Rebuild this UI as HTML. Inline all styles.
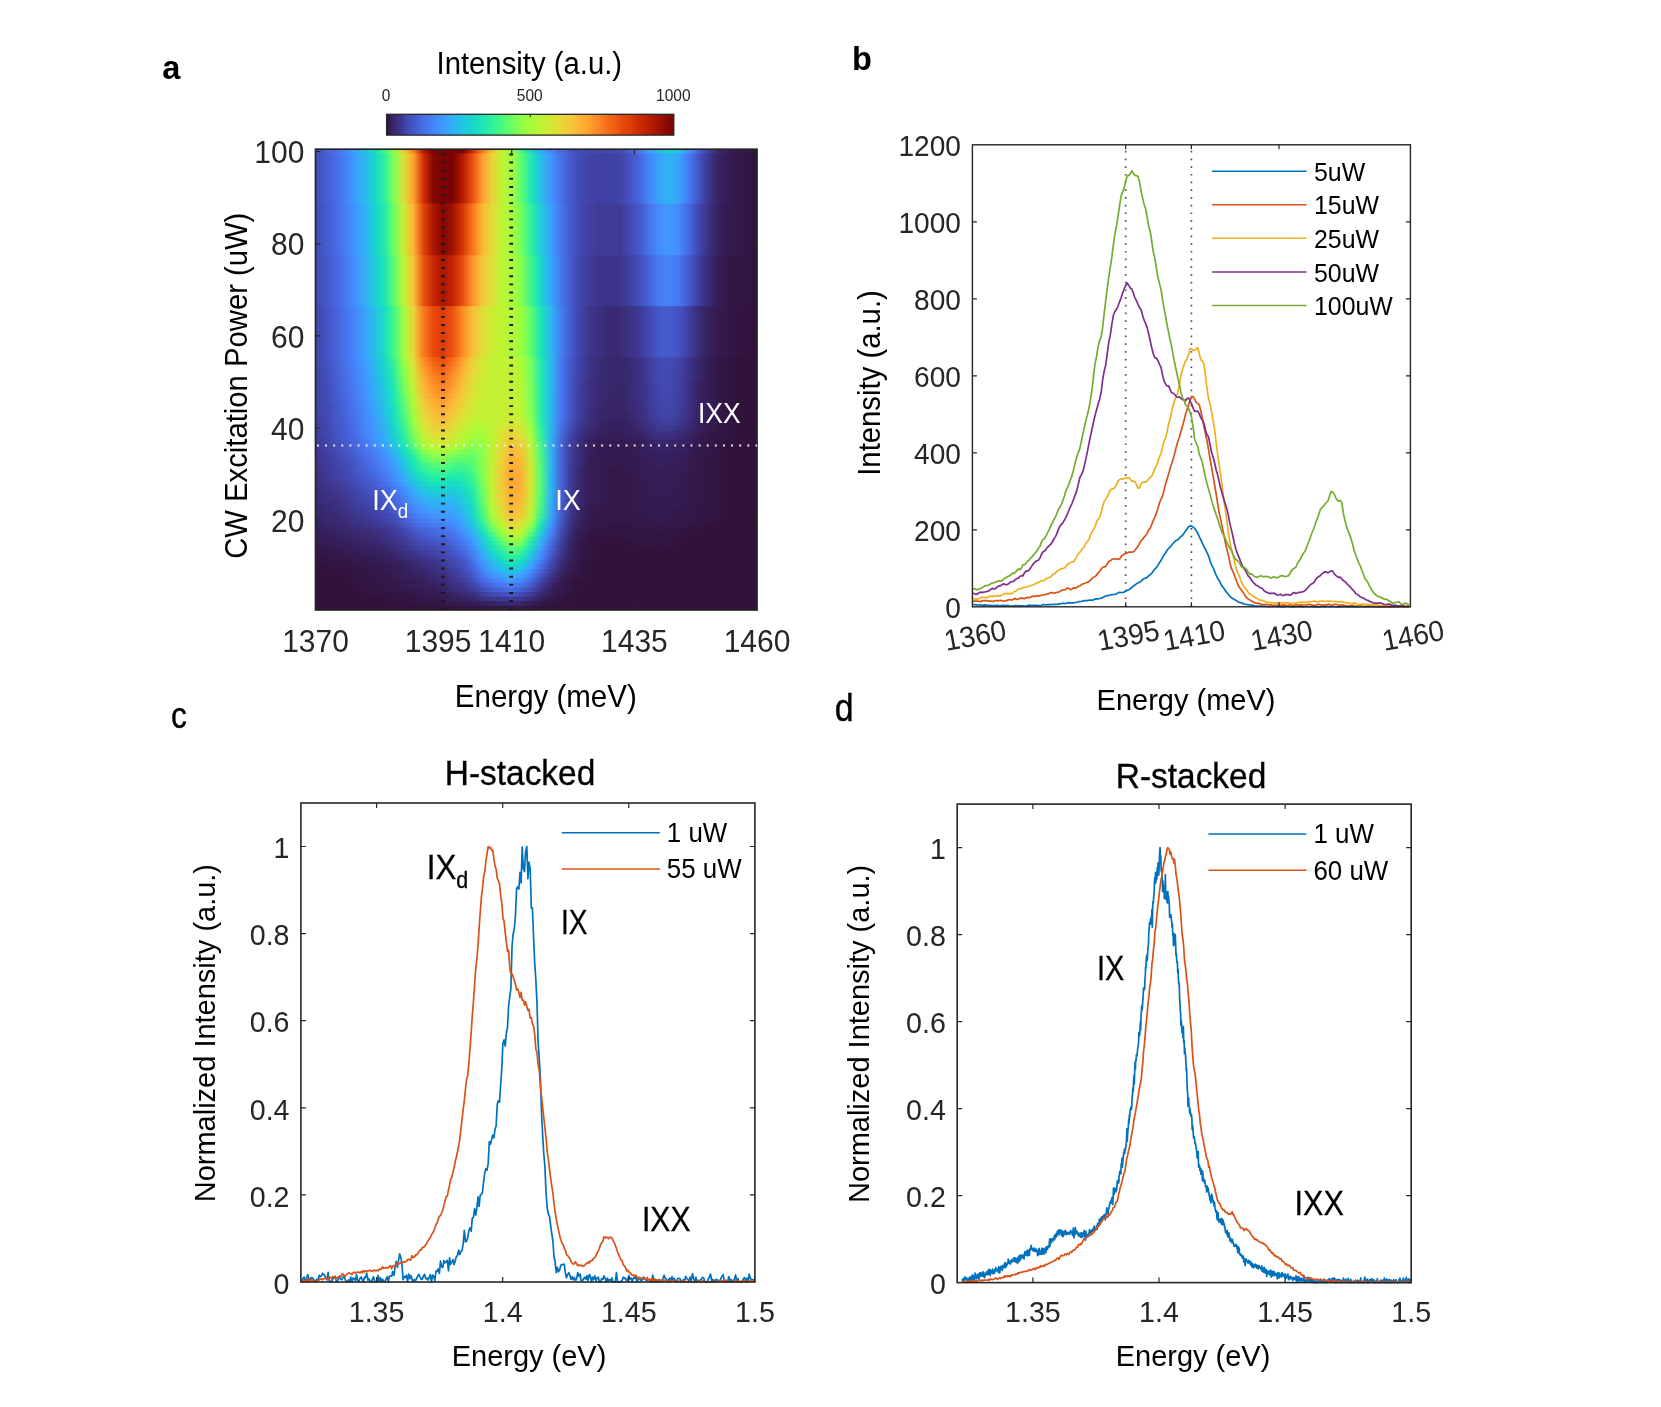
<!DOCTYPE html>
<html><head><meta charset="utf-8"><title>Figure</title>
<style>html,body{margin:0;padding:0;background:#fff;}body{width:1661px;height:1407px;overflow:hidden;font-family:"Liberation Sans",sans-serif;}svg{display:block;will-change:transform;}</style></head>
<body>
<svg width="1661" height="1407" viewBox="0 0 1661 1407" font-family="Liberation Sans, sans-serif">
<defs><linearGradient id="r0"><stop offset="0%" stop-color="#4454c3"/><stop offset="2.2%" stop-color="#4661d6"/><stop offset="4.4%" stop-color="#4771e9"/><stop offset="6.7%" stop-color="#4687fb"/><stop offset="8.9%" stop-color="#3aa3fc"/><stop offset="11.1%" stop-color="#25c0e7"/><stop offset="13.3%" stop-color="#18dec0"/><stop offset="15.6%" stop-color="#3ff68a"/><stop offset="17.8%" stop-color="#99fe42"/><stop offset="20%" stop-color="#eecf3a"/><stop offset="22.2%" stop-color="#fb8122"/><stop offset="24.4%" stop-color="#b41b01"/><stop offset="26.7%" stop-color="#7a0403"/><stop offset="28.9%" stop-color="#7a0403"/><stop offset="31.1%" stop-color="#7a0403"/><stop offset="33.3%" stop-color="#7a0403"/><stop offset="35.6%" stop-color="#cc2b04"/><stop offset="37.8%" stop-color="#f9781e"/><stop offset="40%" stop-color="#f6c33a"/><stop offset="42.2%" stop-color="#c3f134"/><stop offset="44.4%" stop-color="#99fe42"/><stop offset="46.7%" stop-color="#3ff68a"/><stop offset="48.9%" stop-color="#18d7ca"/><stop offset="51.1%" stop-color="#35abf8"/><stop offset="53.3%" stop-color="#4687fb"/><stop offset="55.6%" stop-color="#466be3"/><stop offset="57.8%" stop-color="#4559cb"/><stop offset="60%" stop-color="#424bb5"/><stop offset="62.2%" stop-color="#4249b1"/><stop offset="64.4%" stop-color="#4249b1"/><stop offset="66.7%" stop-color="#424bb5"/><stop offset="68.9%" stop-color="#424bb5"/><stop offset="71.1%" stop-color="#455ed3"/><stop offset="73.3%" stop-color="#4778f0"/><stop offset="75.6%" stop-color="#3ba0fd"/><stop offset="77.8%" stop-color="#23c3e4"/><stop offset="80%" stop-color="#1ad4d0"/><stop offset="82.2%" stop-color="#20c7df"/><stop offset="84.4%" stop-color="#4196ff"/><stop offset="86.7%" stop-color="#4666dd"/><stop offset="88.9%" stop-color="#4040a2"/><stop offset="91.1%" stop-color="#392a73"/><stop offset="93.3%" stop-color="#36215f"/><stop offset="95.6%" stop-color="#33184a"/><stop offset="97.8%" stop-color="#33184a"/><stop offset="100%" stop-color="#30123b"/></linearGradient><linearGradient id="r1"><stop offset="0%" stop-color="#434eba"/><stop offset="2.2%" stop-color="#455ccf"/><stop offset="4.4%" stop-color="#466be3"/><stop offset="6.7%" stop-color="#4680f6"/><stop offset="8.9%" stop-color="#3e9bfe"/><stop offset="11.1%" stop-color="#2cb7f0"/><stop offset="13.3%" stop-color="#19d5cd"/><stop offset="15.6%" stop-color="#2cf09e"/><stop offset="17.8%" stop-color="#80ff53"/><stop offset="20%" stop-color="#dde037"/><stop offset="22.2%" stop-color="#fea130"/><stop offset="24.4%" stop-color="#d23105"/><stop offset="26.7%" stop-color="#850702"/><stop offset="28.9%" stop-color="#7a0403"/><stop offset="31.1%" stop-color="#7a0403"/><stop offset="33.3%" stop-color="#b41b01"/><stop offset="35.6%" stop-color="#eb500e"/><stop offset="37.8%" stop-color="#fe9e2f"/><stop offset="40%" stop-color="#ecd13a"/><stop offset="42.2%" stop-color="#c1f334"/><stop offset="44.4%" stop-color="#a1fd3d"/><stop offset="46.7%" stop-color="#5dfc6f"/><stop offset="48.9%" stop-color="#1ce6b4"/><stop offset="51.1%" stop-color="#27bee9"/><stop offset="53.3%" stop-color="#4196ff"/><stop offset="55.6%" stop-color="#4771e9"/><stop offset="57.8%" stop-color="#4559cb"/><stop offset="60%" stop-color="#4249b1"/><stop offset="62.2%" stop-color="#4143a7"/><stop offset="64.4%" stop-color="#4040a2"/><stop offset="66.7%" stop-color="#4040a2"/><stop offset="68.9%" stop-color="#4143a7"/><stop offset="71.1%" stop-color="#4451bf"/><stop offset="73.3%" stop-color="#4666dd"/><stop offset="75.6%" stop-color="#4685fa"/><stop offset="77.8%" stop-color="#3aa3fc"/><stop offset="80%" stop-color="#2eb4f2"/><stop offset="82.2%" stop-color="#38a5fb"/><stop offset="84.4%" stop-color="#467df4"/><stop offset="86.7%" stop-color="#4456c7"/><stop offset="88.9%" stop-color="#3e3891"/><stop offset="91.1%" stop-color="#372466"/><stop offset="93.3%" stop-color="#351e58"/><stop offset="95.6%" stop-color="#33184a"/><stop offset="97.8%" stop-color="#321543"/><stop offset="100%" stop-color="#30123b"/></linearGradient><linearGradient id="r2"><stop offset="0%" stop-color="#424bb5"/><stop offset="2.2%" stop-color="#4559cb"/><stop offset="4.4%" stop-color="#4669e0"/><stop offset="6.7%" stop-color="#467df4"/><stop offset="8.9%" stop-color="#4294ff"/><stop offset="11.1%" stop-color="#31aff5"/><stop offset="13.3%" stop-color="#1bd0d5"/><stop offset="15.6%" stop-color="#22ebaa"/><stop offset="17.8%" stop-color="#6dfe62"/><stop offset="20%" stop-color="#cdec34"/><stop offset="22.2%" stop-color="#fcb336"/><stop offset="24.4%" stop-color="#e4450a"/><stop offset="26.7%" stop-color="#ac1701"/><stop offset="28.9%" stop-color="#850702"/><stop offset="31.1%" stop-color="#a11201"/><stop offset="33.3%" stop-color="#d63506"/><stop offset="35.6%" stop-color="#f9751d"/><stop offset="37.8%" stop-color="#fbb637"/><stop offset="40%" stop-color="#e3db38"/><stop offset="42.2%" stop-color="#bef434"/><stop offset="44.4%" stop-color="#a9fb39"/><stop offset="46.7%" stop-color="#71fe5f"/><stop offset="48.9%" stop-color="#2aefa1"/><stop offset="51.1%" stop-color="#1ecbda"/><stop offset="53.3%" stop-color="#3ba0fd"/><stop offset="55.6%" stop-color="#4776ee"/><stop offset="57.8%" stop-color="#4559cb"/><stop offset="60%" stop-color="#4249b1"/><stop offset="62.2%" stop-color="#4040a2"/><stop offset="64.4%" stop-color="#3f3b97"/><stop offset="66.7%" stop-color="#3f3b97"/><stop offset="68.9%" stop-color="#3f3b97"/><stop offset="71.1%" stop-color="#4249b1"/><stop offset="73.3%" stop-color="#4559cb"/><stop offset="75.6%" stop-color="#4773eb"/><stop offset="77.8%" stop-color="#458cfd"/><stop offset="80%" stop-color="#4099ff"/><stop offset="82.2%" stop-color="#458cfd"/><stop offset="84.4%" stop-color="#466be3"/><stop offset="86.7%" stop-color="#4249b1"/><stop offset="88.9%" stop-color="#3c3286"/><stop offset="91.1%" stop-color="#36215f"/><stop offset="93.3%" stop-color="#341b51"/><stop offset="95.6%" stop-color="#33184a"/><stop offset="97.8%" stop-color="#321543"/><stop offset="100%" stop-color="#30123b"/></linearGradient><linearGradient id="r3"><stop offset="0%" stop-color="#424bb5"/><stop offset="2.2%" stop-color="#4456c7"/><stop offset="4.4%" stop-color="#4666dd"/><stop offset="6.7%" stop-color="#4778f0"/><stop offset="8.9%" stop-color="#448ffe"/><stop offset="11.1%" stop-color="#35abf8"/><stop offset="13.3%" stop-color="#1fc9dd"/><stop offset="15.6%" stop-color="#1ce6b4"/><stop offset="17.8%" stop-color="#5dfc6f"/><stop offset="20%" stop-color="#bef434"/><stop offset="22.2%" stop-color="#f7c13a"/><stop offset="24.4%" stop-color="#ed5510"/><stop offset="26.7%" stop-color="#c82803"/><stop offset="28.9%" stop-color="#a91601"/><stop offset="31.1%" stop-color="#c32503"/><stop offset="33.3%" stop-color="#ea4e0d"/><stop offset="35.6%" stop-color="#fe932a"/><stop offset="37.8%" stop-color="#f5c53a"/><stop offset="40%" stop-color="#dbe236"/><stop offset="42.2%" stop-color="#bef434"/><stop offset="44.4%" stop-color="#acfb38"/><stop offset="46.7%" stop-color="#84ff51"/><stop offset="48.9%" stop-color="#38f491"/><stop offset="51.1%" stop-color="#19d5cd"/><stop offset="53.3%" stop-color="#37a8fa"/><stop offset="55.6%" stop-color="#4778f0"/><stop offset="57.8%" stop-color="#4559cb"/><stop offset="60%" stop-color="#4146ac"/><stop offset="62.2%" stop-color="#3f3b97"/><stop offset="64.4%" stop-color="#3d358b"/><stop offset="66.7%" stop-color="#3d358b"/><stop offset="68.9%" stop-color="#3d358b"/><stop offset="71.1%" stop-color="#4040a2"/><stop offset="73.3%" stop-color="#434eba"/><stop offset="75.6%" stop-color="#4664da"/><stop offset="77.8%" stop-color="#477bf2"/><stop offset="80%" stop-color="#4682f8"/><stop offset="82.2%" stop-color="#4778f0"/><stop offset="84.4%" stop-color="#455ccf"/><stop offset="86.7%" stop-color="#4040a2"/><stop offset="88.9%" stop-color="#3a2d79"/><stop offset="91.1%" stop-color="#351e58"/><stop offset="93.3%" stop-color="#33184a"/><stop offset="95.6%" stop-color="#321543"/><stop offset="97.8%" stop-color="#321543"/><stop offset="100%" stop-color="#30123b"/></linearGradient><linearGradient id="r4"><stop offset="0%" stop-color="#4146ac"/><stop offset="2.2%" stop-color="#4451bf"/><stop offset="4.4%" stop-color="#4661d6"/><stop offset="6.7%" stop-color="#4773eb"/><stop offset="8.9%" stop-color="#4687fb"/><stop offset="11.1%" stop-color="#3ba0fd"/><stop offset="13.3%" stop-color="#27bee9"/><stop offset="15.6%" stop-color="#18dec0"/><stop offset="17.8%" stop-color="#43f787"/><stop offset="20%" stop-color="#a4fc3c"/><stop offset="22.2%" stop-color="#e7d739"/><stop offset="24.4%" stop-color="#fa7b1f"/><stop offset="26.7%" stop-color="#e84b0c"/><stop offset="28.9%" stop-color="#dc3b07"/><stop offset="31.1%" stop-color="#ec530f"/><stop offset="33.3%" stop-color="#fd8a26"/><stop offset="35.6%" stop-color="#f8be39"/><stop offset="37.8%" stop-color="#e1dd37"/><stop offset="40%" stop-color="#cbed34"/><stop offset="42.2%" stop-color="#bcf534"/><stop offset="44.4%" stop-color="#b4f836"/><stop offset="46.7%" stop-color="#9cfe40"/><stop offset="48.9%" stop-color="#5dfc6f"/><stop offset="51.1%" stop-color="#19e3b9"/><stop offset="53.3%" stop-color="#2cb7f0"/><stop offset="55.6%" stop-color="#467df4"/><stop offset="57.8%" stop-color="#455ccf"/><stop offset="60%" stop-color="#4143a7"/><stop offset="62.2%" stop-color="#3d358b"/><stop offset="64.4%" stop-color="#3b2f80"/><stop offset="66.7%" stop-color="#392a73"/><stop offset="68.9%" stop-color="#392a73"/><stop offset="71.1%" stop-color="#3c3286"/><stop offset="73.3%" stop-color="#3e3891"/><stop offset="75.6%" stop-color="#4249b1"/><stop offset="77.8%" stop-color="#4559cb"/><stop offset="80%" stop-color="#455ccf"/><stop offset="82.2%" stop-color="#4454c3"/><stop offset="84.4%" stop-color="#4040a2"/><stop offset="86.7%" stop-color="#3a2d79"/><stop offset="88.9%" stop-color="#36215f"/><stop offset="91.1%" stop-color="#341b51"/><stop offset="93.3%" stop-color="#33184a"/><stop offset="95.6%" stop-color="#321543"/><stop offset="97.8%" stop-color="#30123b"/><stop offset="100%" stop-color="#30123b"/></linearGradient><linearGradient id="r5"><stop offset="0%" stop-color="#4146ac"/><stop offset="2.2%" stop-color="#4451bf"/><stop offset="4.4%" stop-color="#4661d6"/><stop offset="6.7%" stop-color="#4771e9"/><stop offset="8.9%" stop-color="#4685fa"/><stop offset="11.1%" stop-color="#3e9bfe"/><stop offset="13.3%" stop-color="#2ab9ee"/><stop offset="15.6%" stop-color="#18d9c8"/><stop offset="17.8%" stop-color="#38f491"/><stop offset="20%" stop-color="#99fe42"/><stop offset="22.2%" stop-color="#dfdf37"/><stop offset="24.4%" stop-color="#fd8d27"/><stop offset="26.7%" stop-color="#f26014"/><stop offset="28.9%" stop-color="#ea4e0d"/><stop offset="31.1%" stop-color="#f66c19"/><stop offset="33.3%" stop-color="#fea130"/><stop offset="35.6%" stop-color="#eecf3a"/><stop offset="37.8%" stop-color="#d2e935"/><stop offset="40%" stop-color="#c3f134"/><stop offset="42.2%" stop-color="#c1f334"/><stop offset="44.4%" stop-color="#bef434"/><stop offset="46.7%" stop-color="#acfb38"/><stop offset="48.9%" stop-color="#71fe5f"/><stop offset="51.1%" stop-color="#1fe9af"/><stop offset="53.3%" stop-color="#2ab9ee"/><stop offset="55.6%" stop-color="#477bf2"/><stop offset="57.8%" stop-color="#4456c7"/><stop offset="60%" stop-color="#4040a2"/><stop offset="62.2%" stop-color="#3c3286"/><stop offset="64.4%" stop-color="#392a73"/><stop offset="66.7%" stop-color="#38276d"/><stop offset="68.9%" stop-color="#38276d"/><stop offset="71.1%" stop-color="#392a73"/><stop offset="73.3%" stop-color="#3c3286"/><stop offset="75.6%" stop-color="#3f3e9c"/><stop offset="77.8%" stop-color="#424bb5"/><stop offset="80%" stop-color="#434eba"/><stop offset="82.2%" stop-color="#4146ac"/><stop offset="84.4%" stop-color="#3d358b"/><stop offset="86.7%" stop-color="#38276d"/><stop offset="88.9%" stop-color="#351e58"/><stop offset="91.1%" stop-color="#33184a"/><stop offset="93.3%" stop-color="#321543"/><stop offset="95.6%" stop-color="#30123b"/><stop offset="97.8%" stop-color="#30123b"/><stop offset="100%" stop-color="#30123b"/></linearGradient><linearGradient id="r6"><stop offset="0%" stop-color="#4146ac"/><stop offset="2.2%" stop-color="#434eba"/><stop offset="4.4%" stop-color="#455ed3"/><stop offset="6.7%" stop-color="#4771e9"/><stop offset="8.9%" stop-color="#4682f8"/><stop offset="11.1%" stop-color="#4099ff"/><stop offset="13.3%" stop-color="#2cb7f0"/><stop offset="15.6%" stop-color="#18d7ca"/><stop offset="17.8%" stop-color="#32f298"/><stop offset="20%" stop-color="#92ff47"/><stop offset="22.2%" stop-color="#d9e436"/><stop offset="24.4%" stop-color="#fe962b"/><stop offset="26.7%" stop-color="#f56918"/><stop offset="28.9%" stop-color="#ed5510"/><stop offset="31.1%" stop-color="#f9751d"/><stop offset="33.3%" stop-color="#fea933"/><stop offset="35.6%" stop-color="#ebd339"/><stop offset="37.8%" stop-color="#d2e935"/><stop offset="40%" stop-color="#c3f134"/><stop offset="42.2%" stop-color="#c1f334"/><stop offset="44.4%" stop-color="#c1f334"/><stop offset="46.7%" stop-color="#acfb38"/><stop offset="48.9%" stop-color="#71fe5f"/><stop offset="51.1%" stop-color="#1fe9af"/><stop offset="53.3%" stop-color="#2ab9ee"/><stop offset="55.6%" stop-color="#477bf2"/><stop offset="57.8%" stop-color="#4456c7"/><stop offset="60%" stop-color="#4040a2"/><stop offset="62.2%" stop-color="#3c3286"/><stop offset="64.4%" stop-color="#392a73"/><stop offset="66.7%" stop-color="#38276d"/><stop offset="68.9%" stop-color="#38276d"/><stop offset="71.1%" stop-color="#392a73"/><stop offset="73.3%" stop-color="#3b2f80"/><stop offset="75.6%" stop-color="#3f3e9c"/><stop offset="77.8%" stop-color="#4249b1"/><stop offset="80%" stop-color="#424bb5"/><stop offset="82.2%" stop-color="#4143a7"/><stop offset="84.4%" stop-color="#3d358b"/><stop offset="86.7%" stop-color="#38276d"/><stop offset="88.9%" stop-color="#351e58"/><stop offset="91.1%" stop-color="#33184a"/><stop offset="93.3%" stop-color="#321543"/><stop offset="95.6%" stop-color="#30123b"/><stop offset="97.8%" stop-color="#30123b"/><stop offset="100%" stop-color="#30123b"/></linearGradient><linearGradient id="r7"><stop offset="0%" stop-color="#4143a7"/><stop offset="2.2%" stop-color="#434eba"/><stop offset="4.4%" stop-color="#455ed3"/><stop offset="6.7%" stop-color="#476ee6"/><stop offset="8.9%" stop-color="#4682f8"/><stop offset="11.1%" stop-color="#4099ff"/><stop offset="13.3%" stop-color="#2eb4f2"/><stop offset="15.6%" stop-color="#19d5cd"/><stop offset="17.8%" stop-color="#2ff19b"/><stop offset="20%" stop-color="#8bff4b"/><stop offset="22.2%" stop-color="#d4e735"/><stop offset="24.4%" stop-color="#fe9e2f"/><stop offset="26.7%" stop-color="#f8721c"/><stop offset="28.9%" stop-color="#f15d13"/><stop offset="31.1%" stop-color="#fb7e21"/><stop offset="33.3%" stop-color="#fdae35"/><stop offset="35.6%" stop-color="#e9d539"/><stop offset="37.8%" stop-color="#d0ea34"/><stop offset="40%" stop-color="#c3f134"/><stop offset="42.2%" stop-color="#c1f334"/><stop offset="44.4%" stop-color="#c1f334"/><stop offset="46.7%" stop-color="#affa37"/><stop offset="48.9%" stop-color="#71fe5f"/><stop offset="51.1%" stop-color="#1fe9af"/><stop offset="53.3%" stop-color="#2ab9ee"/><stop offset="55.6%" stop-color="#477bf2"/><stop offset="57.8%" stop-color="#4456c7"/><stop offset="60%" stop-color="#4040a2"/><stop offset="62.2%" stop-color="#3c3286"/><stop offset="64.4%" stop-color="#392a73"/><stop offset="66.7%" stop-color="#38276d"/><stop offset="68.9%" stop-color="#38276d"/><stop offset="71.1%" stop-color="#392a73"/><stop offset="73.3%" stop-color="#3b2f80"/><stop offset="75.6%" stop-color="#3f3e9c"/><stop offset="77.8%" stop-color="#4249b1"/><stop offset="80%" stop-color="#424bb5"/><stop offset="82.2%" stop-color="#4143a7"/><stop offset="84.4%" stop-color="#3d358b"/><stop offset="86.7%" stop-color="#38276d"/><stop offset="88.9%" stop-color="#351e58"/><stop offset="91.1%" stop-color="#33184a"/><stop offset="93.3%" stop-color="#321543"/><stop offset="95.6%" stop-color="#30123b"/><stop offset="97.8%" stop-color="#30123b"/><stop offset="100%" stop-color="#30123b"/></linearGradient><linearGradient id="r8"><stop offset="0%" stop-color="#4143a7"/><stop offset="2.2%" stop-color="#434eba"/><stop offset="4.4%" stop-color="#455ed3"/><stop offset="6.7%" stop-color="#476ee6"/><stop offset="8.9%" stop-color="#4680f6"/><stop offset="11.1%" stop-color="#4196ff"/><stop offset="13.3%" stop-color="#2fb2f4"/><stop offset="15.6%" stop-color="#1ad4d0"/><stop offset="17.8%" stop-color="#2cf09e"/><stop offset="20%" stop-color="#88ff4e"/><stop offset="22.2%" stop-color="#d0ea34"/><stop offset="24.4%" stop-color="#fea431"/><stop offset="26.7%" stop-color="#fa7b1f"/><stop offset="28.9%" stop-color="#f46617"/><stop offset="31.1%" stop-color="#fc8725"/><stop offset="33.3%" stop-color="#fcb336"/><stop offset="35.6%" stop-color="#e5d938"/><stop offset="37.8%" stop-color="#d0ea34"/><stop offset="40%" stop-color="#c3f134"/><stop offset="42.2%" stop-color="#c1f334"/><stop offset="44.4%" stop-color="#c3f134"/><stop offset="46.7%" stop-color="#affa37"/><stop offset="48.9%" stop-color="#75fe5c"/><stop offset="51.1%" stop-color="#1fe9af"/><stop offset="53.3%" stop-color="#2ab9ee"/><stop offset="55.6%" stop-color="#477bf2"/><stop offset="57.8%" stop-color="#4456c7"/><stop offset="60%" stop-color="#4040a2"/><stop offset="62.2%" stop-color="#3c3286"/><stop offset="64.4%" stop-color="#392a73"/><stop offset="66.7%" stop-color="#38276d"/><stop offset="68.9%" stop-color="#38276d"/><stop offset="71.1%" stop-color="#392a73"/><stop offset="73.3%" stop-color="#3b2f80"/><stop offset="75.6%" stop-color="#3f3e9c"/><stop offset="77.8%" stop-color="#4249b1"/><stop offset="80%" stop-color="#424bb5"/><stop offset="82.2%" stop-color="#4143a7"/><stop offset="84.4%" stop-color="#3d358b"/><stop offset="86.7%" stop-color="#38276d"/><stop offset="88.9%" stop-color="#351e58"/><stop offset="91.1%" stop-color="#33184a"/><stop offset="93.3%" stop-color="#321543"/><stop offset="95.6%" stop-color="#30123b"/><stop offset="97.8%" stop-color="#30123b"/><stop offset="100%" stop-color="#30123b"/></linearGradient><linearGradient id="r9"><stop offset="0%" stop-color="#4143a7"/><stop offset="2.2%" stop-color="#434eba"/><stop offset="4.4%" stop-color="#455ccf"/><stop offset="6.7%" stop-color="#466be3"/><stop offset="8.9%" stop-color="#4680f6"/><stop offset="11.1%" stop-color="#4196ff"/><stop offset="13.3%" stop-color="#31aff5"/><stop offset="15.6%" stop-color="#1ad2d2"/><stop offset="17.8%" stop-color="#27eea4"/><stop offset="20%" stop-color="#80ff53"/><stop offset="22.2%" stop-color="#cdec34"/><stop offset="24.4%" stop-color="#fdac34"/><stop offset="26.7%" stop-color="#fc8423"/><stop offset="28.9%" stop-color="#f76f1a"/><stop offset="31.1%" stop-color="#fe9029"/><stop offset="33.3%" stop-color="#fbb838"/><stop offset="35.6%" stop-color="#e3db38"/><stop offset="37.8%" stop-color="#cdec34"/><stop offset="40%" stop-color="#c3f134"/><stop offset="42.2%" stop-color="#c3f134"/><stop offset="44.4%" stop-color="#c3f134"/><stop offset="46.7%" stop-color="#b1f936"/><stop offset="48.9%" stop-color="#75fe5c"/><stop offset="51.1%" stop-color="#1fe9af"/><stop offset="53.3%" stop-color="#2ab9ee"/><stop offset="55.6%" stop-color="#477bf2"/><stop offset="57.8%" stop-color="#4456c7"/><stop offset="60%" stop-color="#4040a2"/><stop offset="62.2%" stop-color="#3c3286"/><stop offset="64.4%" stop-color="#392a73"/><stop offset="66.7%" stop-color="#38276d"/><stop offset="68.9%" stop-color="#38276d"/><stop offset="71.1%" stop-color="#392a73"/><stop offset="73.3%" stop-color="#3b2f80"/><stop offset="75.6%" stop-color="#3f3e9c"/><stop offset="77.8%" stop-color="#4249b1"/><stop offset="80%" stop-color="#424bb5"/><stop offset="82.2%" stop-color="#4143a7"/><stop offset="84.4%" stop-color="#3d358b"/><stop offset="86.7%" stop-color="#38276d"/><stop offset="88.9%" stop-color="#351e58"/><stop offset="91.1%" stop-color="#33184a"/><stop offset="93.3%" stop-color="#321543"/><stop offset="95.6%" stop-color="#30123b"/><stop offset="97.8%" stop-color="#30123b"/><stop offset="100%" stop-color="#30123b"/></linearGradient><linearGradient id="r10"><stop offset="0%" stop-color="#4143a7"/><stop offset="2.2%" stop-color="#434eba"/><stop offset="4.4%" stop-color="#455ccf"/><stop offset="6.7%" stop-color="#466be3"/><stop offset="8.9%" stop-color="#467df4"/><stop offset="11.1%" stop-color="#4294ff"/><stop offset="13.3%" stop-color="#33adf7"/><stop offset="15.6%" stop-color="#1ccdd8"/><stop offset="17.8%" stop-color="#25eca7"/><stop offset="20%" stop-color="#79fe59"/><stop offset="22.2%" stop-color="#c8ef34"/><stop offset="24.4%" stop-color="#fcb136"/><stop offset="26.7%" stop-color="#fd8a26"/><stop offset="28.9%" stop-color="#f9781e"/><stop offset="31.1%" stop-color="#fe962b"/><stop offset="33.3%" stop-color="#f8be39"/><stop offset="35.6%" stop-color="#e1dd37"/><stop offset="37.8%" stop-color="#cbed34"/><stop offset="40%" stop-color="#c3f134"/><stop offset="42.2%" stop-color="#c3f134"/><stop offset="44.4%" stop-color="#c3f134"/><stop offset="46.7%" stop-color="#b1f936"/><stop offset="48.9%" stop-color="#75fe5c"/><stop offset="51.1%" stop-color="#20eaac"/><stop offset="53.3%" stop-color="#2ab9ee"/><stop offset="55.6%" stop-color="#477bf2"/><stop offset="57.8%" stop-color="#4456c7"/><stop offset="60%" stop-color="#3f3e9c"/><stop offset="62.2%" stop-color="#3b2f80"/><stop offset="64.4%" stop-color="#392a73"/><stop offset="66.7%" stop-color="#38276d"/><stop offset="68.9%" stop-color="#38276d"/><stop offset="71.1%" stop-color="#392a73"/><stop offset="73.3%" stop-color="#3b2f80"/><stop offset="75.6%" stop-color="#3f3b97"/><stop offset="77.8%" stop-color="#4249b1"/><stop offset="80%" stop-color="#4249b1"/><stop offset="82.2%" stop-color="#4143a7"/><stop offset="84.4%" stop-color="#3c3286"/><stop offset="86.7%" stop-color="#372466"/><stop offset="88.9%" stop-color="#351e58"/><stop offset="91.1%" stop-color="#33184a"/><stop offset="93.3%" stop-color="#321543"/><stop offset="95.6%" stop-color="#30123b"/><stop offset="97.8%" stop-color="#30123b"/><stop offset="100%" stop-color="#30123b"/></linearGradient><linearGradient id="r11"><stop offset="0%" stop-color="#4143a7"/><stop offset="2.2%" stop-color="#424bb5"/><stop offset="4.4%" stop-color="#455ccf"/><stop offset="6.7%" stop-color="#466be3"/><stop offset="8.9%" stop-color="#467df4"/><stop offset="11.1%" stop-color="#4391fe"/><stop offset="13.3%" stop-color="#33adf7"/><stop offset="15.6%" stop-color="#1ecbda"/><stop offset="17.8%" stop-color="#22ebaa"/><stop offset="20%" stop-color="#75fe5c"/><stop offset="22.2%" stop-color="#c3f134"/><stop offset="24.4%" stop-color="#fbb838"/><stop offset="26.7%" stop-color="#fe932a"/><stop offset="28.9%" stop-color="#fb8122"/><stop offset="31.1%" stop-color="#fe9e2f"/><stop offset="33.3%" stop-color="#f6c33a"/><stop offset="35.6%" stop-color="#dde037"/><stop offset="37.8%" stop-color="#cbed34"/><stop offset="40%" stop-color="#c3f134"/><stop offset="42.2%" stop-color="#c3f134"/><stop offset="44.4%" stop-color="#c6f034"/><stop offset="46.7%" stop-color="#b4f836"/><stop offset="48.9%" stop-color="#79fe59"/><stop offset="51.1%" stop-color="#20eaac"/><stop offset="53.3%" stop-color="#2ab9ee"/><stop offset="55.6%" stop-color="#477bf2"/><stop offset="57.8%" stop-color="#4456c7"/><stop offset="60%" stop-color="#3f3e9c"/><stop offset="62.2%" stop-color="#3b2f80"/><stop offset="64.4%" stop-color="#392a73"/><stop offset="66.7%" stop-color="#38276d"/><stop offset="68.9%" stop-color="#372466"/><stop offset="71.1%" stop-color="#392a73"/><stop offset="73.3%" stop-color="#3b2f80"/><stop offset="75.6%" stop-color="#3f3b97"/><stop offset="77.8%" stop-color="#4146ac"/><stop offset="80%" stop-color="#4249b1"/><stop offset="82.2%" stop-color="#4040a2"/><stop offset="84.4%" stop-color="#3c3286"/><stop offset="86.7%" stop-color="#372466"/><stop offset="88.9%" stop-color="#351e58"/><stop offset="91.1%" stop-color="#33184a"/><stop offset="93.3%" stop-color="#321543"/><stop offset="95.6%" stop-color="#30123b"/><stop offset="97.8%" stop-color="#30123b"/><stop offset="100%" stop-color="#30123b"/></linearGradient><linearGradient id="r12"><stop offset="0%" stop-color="#4040a2"/><stop offset="2.2%" stop-color="#424bb5"/><stop offset="4.4%" stop-color="#4559cb"/><stop offset="6.7%" stop-color="#4669e0"/><stop offset="8.9%" stop-color="#477bf2"/><stop offset="11.1%" stop-color="#4391fe"/><stop offset="13.3%" stop-color="#35abf8"/><stop offset="15.6%" stop-color="#1fc9dd"/><stop offset="17.8%" stop-color="#1fe9af"/><stop offset="20%" stop-color="#6dfe62"/><stop offset="22.2%" stop-color="#bef434"/><stop offset="24.4%" stop-color="#f9bc39"/><stop offset="26.7%" stop-color="#fe9b2d"/><stop offset="28.9%" stop-color="#fc8725"/><stop offset="31.1%" stop-color="#fea732"/><stop offset="33.3%" stop-color="#f4c73a"/><stop offset="35.6%" stop-color="#dbe236"/><stop offset="37.8%" stop-color="#c8ef34"/><stop offset="40%" stop-color="#c3f134"/><stop offset="42.2%" stop-color="#c3f134"/><stop offset="44.4%" stop-color="#c6f034"/><stop offset="46.7%" stop-color="#b4f836"/><stop offset="48.9%" stop-color="#79fe59"/><stop offset="51.1%" stop-color="#20eaac"/><stop offset="53.3%" stop-color="#2ab9ee"/><stop offset="55.6%" stop-color="#4778f0"/><stop offset="57.8%" stop-color="#4454c3"/><stop offset="60%" stop-color="#3f3e9c"/><stop offset="62.2%" stop-color="#3b2f80"/><stop offset="64.4%" stop-color="#392a73"/><stop offset="66.7%" stop-color="#38276d"/><stop offset="68.9%" stop-color="#372466"/><stop offset="71.1%" stop-color="#392a73"/><stop offset="73.3%" stop-color="#3b2f80"/><stop offset="75.6%" stop-color="#3f3b97"/><stop offset="77.8%" stop-color="#4146ac"/><stop offset="80%" stop-color="#4249b1"/><stop offset="82.2%" stop-color="#4040a2"/><stop offset="84.4%" stop-color="#3c3286"/><stop offset="86.7%" stop-color="#372466"/><stop offset="88.9%" stop-color="#351e58"/><stop offset="91.1%" stop-color="#33184a"/><stop offset="93.3%" stop-color="#321543"/><stop offset="95.6%" stop-color="#30123b"/><stop offset="97.8%" stop-color="#30123b"/><stop offset="100%" stop-color="#30123b"/></linearGradient><linearGradient id="r13"><stop offset="0%" stop-color="#4040a2"/><stop offset="2.2%" stop-color="#424bb5"/><stop offset="4.4%" stop-color="#4559cb"/><stop offset="6.7%" stop-color="#4669e0"/><stop offset="8.9%" stop-color="#477bf2"/><stop offset="11.1%" stop-color="#448ffe"/><stop offset="13.3%" stop-color="#37a8fa"/><stop offset="15.6%" stop-color="#20c7df"/><stop offset="17.8%" stop-color="#1de7b2"/><stop offset="20%" stop-color="#65fd69"/><stop offset="22.2%" stop-color="#b9f635"/><stop offset="24.4%" stop-color="#f6c33a"/><stop offset="26.7%" stop-color="#fea130"/><stop offset="28.9%" stop-color="#fe9029"/><stop offset="31.1%" stop-color="#fdae35"/><stop offset="33.3%" stop-color="#f1cb3a"/><stop offset="35.6%" stop-color="#d9e436"/><stop offset="37.8%" stop-color="#c8ef34"/><stop offset="40%" stop-color="#c3f134"/><stop offset="42.2%" stop-color="#c3f134"/><stop offset="44.4%" stop-color="#c8ef34"/><stop offset="46.7%" stop-color="#b4f836"/><stop offset="48.9%" stop-color="#79fe59"/><stop offset="51.1%" stop-color="#20eaac"/><stop offset="53.3%" stop-color="#2ab9ee"/><stop offset="55.6%" stop-color="#4778f0"/><stop offset="57.8%" stop-color="#4454c3"/><stop offset="60%" stop-color="#3f3e9c"/><stop offset="62.2%" stop-color="#3b2f80"/><stop offset="64.4%" stop-color="#392a73"/><stop offset="66.7%" stop-color="#38276d"/><stop offset="68.9%" stop-color="#372466"/><stop offset="71.1%" stop-color="#392a73"/><stop offset="73.3%" stop-color="#3b2f80"/><stop offset="75.6%" stop-color="#3f3b97"/><stop offset="77.8%" stop-color="#4146ac"/><stop offset="80%" stop-color="#4249b1"/><stop offset="82.2%" stop-color="#4040a2"/><stop offset="84.4%" stop-color="#3c3286"/><stop offset="86.7%" stop-color="#372466"/><stop offset="88.9%" stop-color="#351e58"/><stop offset="91.1%" stop-color="#33184a"/><stop offset="93.3%" stop-color="#321543"/><stop offset="95.6%" stop-color="#30123b"/><stop offset="97.8%" stop-color="#30123b"/><stop offset="100%" stop-color="#30123b"/></linearGradient><linearGradient id="r14"><stop offset="0%" stop-color="#4040a2"/><stop offset="2.2%" stop-color="#424bb5"/><stop offset="4.4%" stop-color="#4559cb"/><stop offset="6.7%" stop-color="#4666dd"/><stop offset="8.9%" stop-color="#4778f0"/><stop offset="11.1%" stop-color="#458cfd"/><stop offset="13.3%" stop-color="#38a5fb"/><stop offset="15.6%" stop-color="#22c5e2"/><stop offset="17.8%" stop-color="#1ce6b4"/><stop offset="20%" stop-color="#5dfc6f"/><stop offset="22.2%" stop-color="#b1f936"/><stop offset="24.4%" stop-color="#f2c93a"/><stop offset="26.7%" stop-color="#fdac34"/><stop offset="28.9%" stop-color="#fe9b2d"/><stop offset="31.1%" stop-color="#fbb637"/><stop offset="33.3%" stop-color="#ecd13a"/><stop offset="35.6%" stop-color="#d4e735"/><stop offset="37.8%" stop-color="#c6f034"/><stop offset="40%" stop-color="#c3f134"/><stop offset="42.2%" stop-color="#c6f034"/><stop offset="44.4%" stop-color="#c8ef34"/><stop offset="46.7%" stop-color="#b7f735"/><stop offset="48.9%" stop-color="#7dff56"/><stop offset="51.1%" stop-color="#20eaac"/><stop offset="53.3%" stop-color="#2ab9ee"/><stop offset="55.6%" stop-color="#4778f0"/><stop offset="57.8%" stop-color="#4454c3"/><stop offset="60%" stop-color="#3f3e9c"/><stop offset="62.2%" stop-color="#3b2f80"/><stop offset="64.4%" stop-color="#392a73"/><stop offset="66.7%" stop-color="#372466"/><stop offset="68.9%" stop-color="#372466"/><stop offset="71.1%" stop-color="#392a73"/><stop offset="73.3%" stop-color="#3b2f80"/><stop offset="75.6%" stop-color="#3f3b97"/><stop offset="77.8%" stop-color="#4146ac"/><stop offset="80%" stop-color="#4146ac"/><stop offset="82.2%" stop-color="#4040a2"/><stop offset="84.4%" stop-color="#3c3286"/><stop offset="86.7%" stop-color="#372466"/><stop offset="88.9%" stop-color="#351e58"/><stop offset="91.1%" stop-color="#33184a"/><stop offset="93.3%" stop-color="#321543"/><stop offset="95.6%" stop-color="#30123b"/><stop offset="97.8%" stop-color="#30123b"/><stop offset="100%" stop-color="#30123b"/></linearGradient><linearGradient id="r15"><stop offset="0%" stop-color="#4040a2"/><stop offset="2.2%" stop-color="#4249b1"/><stop offset="4.4%" stop-color="#4456c7"/><stop offset="6.7%" stop-color="#4666dd"/><stop offset="8.9%" stop-color="#4776ee"/><stop offset="11.1%" stop-color="#458cfd"/><stop offset="13.3%" stop-color="#3aa3fc"/><stop offset="15.6%" stop-color="#23c3e4"/><stop offset="17.8%" stop-color="#19e3b9"/><stop offset="20%" stop-color="#55fa76"/><stop offset="22.2%" stop-color="#acfb38"/><stop offset="24.4%" stop-color="#eecf3a"/><stop offset="26.7%" stop-color="#fcb336"/><stop offset="28.9%" stop-color="#fea431"/><stop offset="31.1%" stop-color="#f9bc39"/><stop offset="33.3%" stop-color="#e9d539"/><stop offset="35.6%" stop-color="#d2e935"/><stop offset="37.8%" stop-color="#c3f134"/><stop offset="40%" stop-color="#c3f134"/><stop offset="42.2%" stop-color="#c6f034"/><stop offset="44.4%" stop-color="#cbed34"/><stop offset="46.7%" stop-color="#b7f735"/><stop offset="48.9%" stop-color="#7dff56"/><stop offset="51.1%" stop-color="#22ebaa"/><stop offset="53.3%" stop-color="#2ab9ee"/><stop offset="55.6%" stop-color="#4778f0"/><stop offset="57.8%" stop-color="#4454c3"/><stop offset="60%" stop-color="#3f3e9c"/><stop offset="62.2%" stop-color="#3b2f80"/><stop offset="64.4%" stop-color="#38276d"/><stop offset="66.7%" stop-color="#372466"/><stop offset="68.9%" stop-color="#372466"/><stop offset="71.1%" stop-color="#392a73"/><stop offset="73.3%" stop-color="#3a2d79"/><stop offset="75.6%" stop-color="#3f3b97"/><stop offset="77.8%" stop-color="#4143a7"/><stop offset="80%" stop-color="#4146ac"/><stop offset="82.2%" stop-color="#4040a2"/><stop offset="84.4%" stop-color="#3c3286"/><stop offset="86.7%" stop-color="#372466"/><stop offset="88.9%" stop-color="#351e58"/><stop offset="91.1%" stop-color="#33184a"/><stop offset="93.3%" stop-color="#321543"/><stop offset="95.6%" stop-color="#30123b"/><stop offset="97.8%" stop-color="#30123b"/><stop offset="100%" stop-color="#30123b"/></linearGradient><linearGradient id="r16"><stop offset="0%" stop-color="#4040a2"/><stop offset="2.2%" stop-color="#4249b1"/><stop offset="4.4%" stop-color="#4456c7"/><stop offset="6.7%" stop-color="#4664da"/><stop offset="8.9%" stop-color="#4776ee"/><stop offset="11.1%" stop-color="#458afc"/><stop offset="13.3%" stop-color="#3ba0fd"/><stop offset="15.6%" stop-color="#25c0e7"/><stop offset="17.8%" stop-color="#18e0bd"/><stop offset="20%" stop-color="#52fa7a"/><stop offset="22.2%" stop-color="#a7fc3a"/><stop offset="24.4%" stop-color="#e9d539"/><stop offset="26.7%" stop-color="#faba39"/><stop offset="28.9%" stop-color="#fdae35"/><stop offset="31.1%" stop-color="#f6c33a"/><stop offset="33.3%" stop-color="#e3db38"/><stop offset="35.6%" stop-color="#cdec34"/><stop offset="37.8%" stop-color="#c3f134"/><stop offset="40%" stop-color="#c1f334"/><stop offset="42.2%" stop-color="#c6f034"/><stop offset="44.4%" stop-color="#cbed34"/><stop offset="46.7%" stop-color="#b9f635"/><stop offset="48.9%" stop-color="#80ff53"/><stop offset="51.1%" stop-color="#22ebaa"/><stop offset="53.3%" stop-color="#2ab9ee"/><stop offset="55.6%" stop-color="#4778f0"/><stop offset="57.8%" stop-color="#4454c3"/><stop offset="60%" stop-color="#3f3e9c"/><stop offset="62.2%" stop-color="#3b2f80"/><stop offset="64.4%" stop-color="#38276d"/><stop offset="66.7%" stop-color="#372466"/><stop offset="68.9%" stop-color="#372466"/><stop offset="71.1%" stop-color="#392a73"/><stop offset="73.3%" stop-color="#3a2d79"/><stop offset="75.6%" stop-color="#3e3891"/><stop offset="77.8%" stop-color="#4143a7"/><stop offset="80%" stop-color="#4146ac"/><stop offset="82.2%" stop-color="#3f3e9c"/><stop offset="84.4%" stop-color="#3c3286"/><stop offset="86.7%" stop-color="#372466"/><stop offset="88.9%" stop-color="#351e58"/><stop offset="91.1%" stop-color="#33184a"/><stop offset="93.3%" stop-color="#321543"/><stop offset="95.6%" stop-color="#30123b"/><stop offset="97.8%" stop-color="#30123b"/><stop offset="100%" stop-color="#30123b"/></linearGradient><linearGradient id="r17"><stop offset="0%" stop-color="#4040a2"/><stop offset="2.2%" stop-color="#4249b1"/><stop offset="4.4%" stop-color="#4456c7"/><stop offset="6.7%" stop-color="#4664da"/><stop offset="8.9%" stop-color="#4773eb"/><stop offset="11.1%" stop-color="#4687fb"/><stop offset="13.3%" stop-color="#3d9efe"/><stop offset="15.6%" stop-color="#27bee9"/><stop offset="17.8%" stop-color="#18dec0"/><stop offset="20%" stop-color="#4af880"/><stop offset="22.2%" stop-color="#a1fd3d"/><stop offset="24.4%" stop-color="#e3db38"/><stop offset="26.7%" stop-color="#f7c13a"/><stop offset="28.9%" stop-color="#fbb637"/><stop offset="31.1%" stop-color="#f2c93a"/><stop offset="33.3%" stop-color="#dfdf37"/><stop offset="35.6%" stop-color="#cbed34"/><stop offset="37.8%" stop-color="#c1f334"/><stop offset="40%" stop-color="#c1f334"/><stop offset="42.2%" stop-color="#c6f034"/><stop offset="44.4%" stop-color="#cdec34"/><stop offset="46.7%" stop-color="#b9f635"/><stop offset="48.9%" stop-color="#80ff53"/><stop offset="51.1%" stop-color="#22ebaa"/><stop offset="53.3%" stop-color="#2ab9ee"/><stop offset="55.6%" stop-color="#4778f0"/><stop offset="57.8%" stop-color="#4454c3"/><stop offset="60%" stop-color="#3f3e9c"/><stop offset="62.2%" stop-color="#3b2f80"/><stop offset="64.4%" stop-color="#38276d"/><stop offset="66.7%" stop-color="#372466"/><stop offset="68.9%" stop-color="#372466"/><stop offset="71.1%" stop-color="#38276d"/><stop offset="73.3%" stop-color="#3a2d79"/><stop offset="75.6%" stop-color="#3e3891"/><stop offset="77.8%" stop-color="#4143a7"/><stop offset="80%" stop-color="#4146ac"/><stop offset="82.2%" stop-color="#3f3e9c"/><stop offset="84.4%" stop-color="#3c3286"/><stop offset="86.7%" stop-color="#372466"/><stop offset="88.9%" stop-color="#351e58"/><stop offset="91.1%" stop-color="#33184a"/><stop offset="93.3%" stop-color="#321543"/><stop offset="95.6%" stop-color="#30123b"/><stop offset="97.8%" stop-color="#30123b"/><stop offset="100%" stop-color="#30123b"/></linearGradient><linearGradient id="r18"><stop offset="0%" stop-color="#3f3e9c"/><stop offset="2.2%" stop-color="#4249b1"/><stop offset="4.4%" stop-color="#4454c3"/><stop offset="6.7%" stop-color="#4661d6"/><stop offset="8.9%" stop-color="#4773eb"/><stop offset="11.1%" stop-color="#4685fa"/><stop offset="13.3%" stop-color="#3e9bfe"/><stop offset="15.6%" stop-color="#2ab9ee"/><stop offset="17.8%" stop-color="#18dbc5"/><stop offset="20%" stop-color="#43f787"/><stop offset="22.2%" stop-color="#99fe42"/><stop offset="24.4%" stop-color="#dde037"/><stop offset="26.7%" stop-color="#f4c73a"/><stop offset="28.9%" stop-color="#f9bc39"/><stop offset="31.1%" stop-color="#ecd13a"/><stop offset="33.3%" stop-color="#d9e436"/><stop offset="35.6%" stop-color="#c3f134"/><stop offset="37.8%" stop-color="#bef434"/><stop offset="40%" stop-color="#c1f334"/><stop offset="42.2%" stop-color="#cbed34"/><stop offset="44.4%" stop-color="#d2e935"/><stop offset="46.7%" stop-color="#c1f334"/><stop offset="48.9%" stop-color="#88ff4e"/><stop offset="51.1%" stop-color="#25eca7"/><stop offset="53.3%" stop-color="#2cb7f0"/><stop offset="55.6%" stop-color="#4776ee"/><stop offset="57.8%" stop-color="#4451bf"/><stop offset="60%" stop-color="#3f3b97"/><stop offset="62.2%" stop-color="#3a2d79"/><stop offset="64.4%" stop-color="#38276d"/><stop offset="66.7%" stop-color="#372466"/><stop offset="68.9%" stop-color="#372466"/><stop offset="71.1%" stop-color="#38276d"/><stop offset="73.3%" stop-color="#3a2d79"/><stop offset="75.6%" stop-color="#3e3891"/><stop offset="77.8%" stop-color="#4040a2"/><stop offset="80%" stop-color="#4143a7"/><stop offset="82.2%" stop-color="#3f3b97"/><stop offset="84.4%" stop-color="#3b2f80"/><stop offset="86.7%" stop-color="#372466"/><stop offset="88.9%" stop-color="#341b51"/><stop offset="91.1%" stop-color="#33184a"/><stop offset="93.3%" stop-color="#321543"/><stop offset="95.6%" stop-color="#30123b"/><stop offset="97.8%" stop-color="#30123b"/><stop offset="100%" stop-color="#30123b"/></linearGradient><linearGradient id="r19"><stop offset="0%" stop-color="#3f3e9c"/><stop offset="2.2%" stop-color="#4146ac"/><stop offset="4.4%" stop-color="#4454c3"/><stop offset="6.7%" stop-color="#4661d6"/><stop offset="8.9%" stop-color="#4771e9"/><stop offset="11.1%" stop-color="#4685fa"/><stop offset="13.3%" stop-color="#4099ff"/><stop offset="15.6%" stop-color="#2cb7f0"/><stop offset="17.8%" stop-color="#18d9c8"/><stop offset="20%" stop-color="#3cf58e"/><stop offset="22.2%" stop-color="#92ff47"/><stop offset="24.4%" stop-color="#d9e436"/><stop offset="26.7%" stop-color="#efcd3a"/><stop offset="28.9%" stop-color="#f5c53a"/><stop offset="31.1%" stop-color="#e7d739"/><stop offset="33.3%" stop-color="#d2e935"/><stop offset="35.6%" stop-color="#bcf534"/><stop offset="37.8%" stop-color="#b7f735"/><stop offset="40%" stop-color="#bef434"/><stop offset="42.2%" stop-color="#cdec34"/><stop offset="44.4%" stop-color="#d9e436"/><stop offset="46.7%" stop-color="#c8ef34"/><stop offset="48.9%" stop-color="#8fff49"/><stop offset="51.1%" stop-color="#27eea4"/><stop offset="53.3%" stop-color="#2cb7f0"/><stop offset="55.6%" stop-color="#4773eb"/><stop offset="57.8%" stop-color="#434eba"/><stop offset="60%" stop-color="#3e3891"/><stop offset="62.2%" stop-color="#3a2d79"/><stop offset="64.4%" stop-color="#372466"/><stop offset="66.7%" stop-color="#36215f"/><stop offset="68.9%" stop-color="#36215f"/><stop offset="71.1%" stop-color="#372466"/><stop offset="73.3%" stop-color="#392a73"/><stop offset="75.6%" stop-color="#3c3286"/><stop offset="77.8%" stop-color="#3f3b97"/><stop offset="80%" stop-color="#3f3e9c"/><stop offset="82.2%" stop-color="#3e3891"/><stop offset="84.4%" stop-color="#3a2d79"/><stop offset="86.7%" stop-color="#36215f"/><stop offset="88.9%" stop-color="#341b51"/><stop offset="91.1%" stop-color="#33184a"/><stop offset="93.3%" stop-color="#321543"/><stop offset="95.6%" stop-color="#30123b"/><stop offset="97.8%" stop-color="#30123b"/><stop offset="100%" stop-color="#30123b"/></linearGradient><linearGradient id="r20"><stop offset="0%" stop-color="#3f3e9c"/><stop offset="2.2%" stop-color="#4146ac"/><stop offset="4.4%" stop-color="#4451bf"/><stop offset="6.7%" stop-color="#455ed3"/><stop offset="8.9%" stop-color="#476ee6"/><stop offset="11.1%" stop-color="#4682f8"/><stop offset="13.3%" stop-color="#4196ff"/><stop offset="15.6%" stop-color="#2eb4f2"/><stop offset="17.8%" stop-color="#19d5cd"/><stop offset="20%" stop-color="#35f394"/><stop offset="22.2%" stop-color="#88ff4e"/><stop offset="24.4%" stop-color="#d0ea34"/><stop offset="26.7%" stop-color="#e9d539"/><stop offset="28.9%" stop-color="#efcd3a"/><stop offset="31.1%" stop-color="#e1dd37"/><stop offset="33.3%" stop-color="#cbed34"/><stop offset="35.6%" stop-color="#b4f836"/><stop offset="37.8%" stop-color="#affa37"/><stop offset="40%" stop-color="#bef434"/><stop offset="42.2%" stop-color="#d2e935"/><stop offset="44.4%" stop-color="#e1dd37"/><stop offset="46.7%" stop-color="#d2e935"/><stop offset="48.9%" stop-color="#99fe42"/><stop offset="51.1%" stop-color="#2cf09e"/><stop offset="53.3%" stop-color="#2cb7f0"/><stop offset="55.6%" stop-color="#4771e9"/><stop offset="57.8%" stop-color="#424bb5"/><stop offset="60%" stop-color="#3d358b"/><stop offset="62.2%" stop-color="#392a73"/><stop offset="64.4%" stop-color="#372466"/><stop offset="66.7%" stop-color="#36215f"/><stop offset="68.9%" stop-color="#36215f"/><stop offset="71.1%" stop-color="#372466"/><stop offset="73.3%" stop-color="#38276d"/><stop offset="75.6%" stop-color="#3b2f80"/><stop offset="77.8%" stop-color="#3e3891"/><stop offset="80%" stop-color="#3e3891"/><stop offset="82.2%" stop-color="#3c3286"/><stop offset="84.4%" stop-color="#392a73"/><stop offset="86.7%" stop-color="#36215f"/><stop offset="88.9%" stop-color="#341b51"/><stop offset="91.1%" stop-color="#321543"/><stop offset="93.3%" stop-color="#321543"/><stop offset="95.6%" stop-color="#30123b"/><stop offset="97.8%" stop-color="#30123b"/><stop offset="100%" stop-color="#30123b"/></linearGradient><linearGradient id="r21"><stop offset="0%" stop-color="#3f3e9c"/><stop offset="2.2%" stop-color="#4146ac"/><stop offset="4.4%" stop-color="#4451bf"/><stop offset="6.7%" stop-color="#455ed3"/><stop offset="8.9%" stop-color="#476ee6"/><stop offset="11.1%" stop-color="#4680f6"/><stop offset="13.3%" stop-color="#4294ff"/><stop offset="15.6%" stop-color="#31aff5"/><stop offset="17.8%" stop-color="#1ad2d2"/><stop offset="20%" stop-color="#2cf09e"/><stop offset="22.2%" stop-color="#7dff56"/><stop offset="24.4%" stop-color="#c6f034"/><stop offset="26.7%" stop-color="#e1dd37"/><stop offset="28.9%" stop-color="#e9d539"/><stop offset="31.1%" stop-color="#d7e535"/><stop offset="33.3%" stop-color="#c1f334"/><stop offset="35.6%" stop-color="#a9fb39"/><stop offset="37.8%" stop-color="#a7fc3a"/><stop offset="40%" stop-color="#bef434"/><stop offset="42.2%" stop-color="#d9e436"/><stop offset="44.4%" stop-color="#e9d539"/><stop offset="46.7%" stop-color="#dbe236"/><stop offset="48.9%" stop-color="#a1fd3d"/><stop offset="51.1%" stop-color="#32f298"/><stop offset="53.3%" stop-color="#2eb4f2"/><stop offset="55.6%" stop-color="#476ee6"/><stop offset="57.8%" stop-color="#4146ac"/><stop offset="60%" stop-color="#3c3286"/><stop offset="62.2%" stop-color="#38276d"/><stop offset="64.4%" stop-color="#36215f"/><stop offset="66.7%" stop-color="#351e58"/><stop offset="68.9%" stop-color="#351e58"/><stop offset="71.1%" stop-color="#36215f"/><stop offset="73.3%" stop-color="#372466"/><stop offset="75.6%" stop-color="#3a2d79"/><stop offset="77.8%" stop-color="#3c3286"/><stop offset="80%" stop-color="#3c3286"/><stop offset="82.2%" stop-color="#3a2d79"/><stop offset="84.4%" stop-color="#38276d"/><stop offset="86.7%" stop-color="#351e58"/><stop offset="88.9%" stop-color="#33184a"/><stop offset="91.1%" stop-color="#321543"/><stop offset="93.3%" stop-color="#321543"/><stop offset="95.6%" stop-color="#30123b"/><stop offset="97.8%" stop-color="#30123b"/><stop offset="100%" stop-color="#30123b"/></linearGradient><linearGradient id="r22"><stop offset="0%" stop-color="#3f3b97"/><stop offset="2.2%" stop-color="#4143a7"/><stop offset="4.4%" stop-color="#4451bf"/><stop offset="6.7%" stop-color="#455ccf"/><stop offset="8.9%" stop-color="#466be3"/><stop offset="11.1%" stop-color="#467df4"/><stop offset="13.3%" stop-color="#4391fe"/><stop offset="15.6%" stop-color="#33adf7"/><stop offset="17.8%" stop-color="#1ccdd8"/><stop offset="20%" stop-color="#25eca7"/><stop offset="22.2%" stop-color="#71fe5f"/><stop offset="24.4%" stop-color="#bcf534"/><stop offset="26.7%" stop-color="#d7e535"/><stop offset="28.9%" stop-color="#dfdf37"/><stop offset="31.1%" stop-color="#cdec34"/><stop offset="33.3%" stop-color="#b7f735"/><stop offset="35.6%" stop-color="#9ffd3f"/><stop offset="37.8%" stop-color="#9ffd3f"/><stop offset="40%" stop-color="#bcf534"/><stop offset="42.2%" stop-color="#dde037"/><stop offset="44.4%" stop-color="#efcd3a"/><stop offset="46.7%" stop-color="#e5d938"/><stop offset="48.9%" stop-color="#acfb38"/><stop offset="51.1%" stop-color="#35f394"/><stop offset="53.3%" stop-color="#2eb4f2"/><stop offset="55.6%" stop-color="#4669e0"/><stop offset="57.8%" stop-color="#4143a7"/><stop offset="60%" stop-color="#3b2f80"/><stop offset="62.2%" stop-color="#372466"/><stop offset="64.4%" stop-color="#351e58"/><stop offset="66.7%" stop-color="#351e58"/><stop offset="68.9%" stop-color="#351e58"/><stop offset="71.1%" stop-color="#351e58"/><stop offset="73.3%" stop-color="#36215f"/><stop offset="75.6%" stop-color="#38276d"/><stop offset="77.8%" stop-color="#3a2d79"/><stop offset="80%" stop-color="#3a2d79"/><stop offset="82.2%" stop-color="#392a73"/><stop offset="84.4%" stop-color="#372466"/><stop offset="86.7%" stop-color="#341b51"/><stop offset="88.9%" stop-color="#33184a"/><stop offset="91.1%" stop-color="#321543"/><stop offset="93.3%" stop-color="#321543"/><stop offset="95.6%" stop-color="#30123b"/><stop offset="97.8%" stop-color="#30123b"/><stop offset="100%" stop-color="#30123b"/></linearGradient><linearGradient id="r23"><stop offset="0%" stop-color="#3f3b97"/><stop offset="2.2%" stop-color="#4143a7"/><stop offset="4.4%" stop-color="#434eba"/><stop offset="6.7%" stop-color="#455ccf"/><stop offset="8.9%" stop-color="#4669e0"/><stop offset="11.1%" stop-color="#477bf2"/><stop offset="13.3%" stop-color="#448ffe"/><stop offset="15.6%" stop-color="#37a8fa"/><stop offset="17.8%" stop-color="#1fc9dd"/><stop offset="20%" stop-color="#20eaac"/><stop offset="22.2%" stop-color="#65fd69"/><stop offset="24.4%" stop-color="#b4f836"/><stop offset="26.7%" stop-color="#cdec34"/><stop offset="28.9%" stop-color="#d7e535"/><stop offset="31.1%" stop-color="#c3f134"/><stop offset="33.3%" stop-color="#affa37"/><stop offset="35.6%" stop-color="#92ff47"/><stop offset="37.8%" stop-color="#99fe42"/><stop offset="40%" stop-color="#bcf534"/><stop offset="42.2%" stop-color="#e1dd37"/><stop offset="44.4%" stop-color="#f5c53a"/><stop offset="46.7%" stop-color="#ecd13a"/><stop offset="48.9%" stop-color="#b4f836"/><stop offset="51.1%" stop-color="#3cf58e"/><stop offset="53.3%" stop-color="#2fb2f4"/><stop offset="55.6%" stop-color="#4666dd"/><stop offset="57.8%" stop-color="#4040a2"/><stop offset="60%" stop-color="#3a2d79"/><stop offset="62.2%" stop-color="#36215f"/><stop offset="64.4%" stop-color="#351e58"/><stop offset="66.7%" stop-color="#341b51"/><stop offset="68.9%" stop-color="#341b51"/><stop offset="71.1%" stop-color="#351e58"/><stop offset="73.3%" stop-color="#351e58"/><stop offset="75.6%" stop-color="#372466"/><stop offset="77.8%" stop-color="#38276d"/><stop offset="80%" stop-color="#38276d"/><stop offset="82.2%" stop-color="#372466"/><stop offset="84.4%" stop-color="#36215f"/><stop offset="86.7%" stop-color="#341b51"/><stop offset="88.9%" stop-color="#33184a"/><stop offset="91.1%" stop-color="#321543"/><stop offset="93.3%" stop-color="#30123b"/><stop offset="95.6%" stop-color="#30123b"/><stop offset="97.8%" stop-color="#30123b"/><stop offset="100%" stop-color="#30123b"/></linearGradient><linearGradient id="r24"><stop offset="0%" stop-color="#3f3b97"/><stop offset="2.2%" stop-color="#4040a2"/><stop offset="4.4%" stop-color="#424bb5"/><stop offset="6.7%" stop-color="#4456c7"/><stop offset="8.9%" stop-color="#4666dd"/><stop offset="11.1%" stop-color="#4776ee"/><stop offset="13.3%" stop-color="#4687fb"/><stop offset="15.6%" stop-color="#3ba0fd"/><stop offset="17.8%" stop-color="#23c3e4"/><stop offset="20%" stop-color="#19e3b9"/><stop offset="22.2%" stop-color="#52fa7a"/><stop offset="24.4%" stop-color="#a1fd3d"/><stop offset="26.7%" stop-color="#bcf534"/><stop offset="28.9%" stop-color="#c3f134"/><stop offset="31.1%" stop-color="#b1f936"/><stop offset="33.3%" stop-color="#9ffd3f"/><stop offset="35.6%" stop-color="#84ff51"/><stop offset="37.8%" stop-color="#92ff47"/><stop offset="40%" stop-color="#bcf534"/><stop offset="42.2%" stop-color="#e5d938"/><stop offset="44.4%" stop-color="#f8be39"/><stop offset="46.7%" stop-color="#f2c93a"/><stop offset="48.9%" stop-color="#bcf534"/><stop offset="51.1%" stop-color="#43f787"/><stop offset="53.3%" stop-color="#2fb2f4"/><stop offset="55.6%" stop-color="#4666dd"/><stop offset="57.8%" stop-color="#3f3e9c"/><stop offset="60%" stop-color="#392a73"/><stop offset="62.2%" stop-color="#36215f"/><stop offset="64.4%" stop-color="#341b51"/><stop offset="66.7%" stop-color="#341b51"/><stop offset="68.9%" stop-color="#341b51"/><stop offset="71.1%" stop-color="#341b51"/><stop offset="73.3%" stop-color="#351e58"/><stop offset="75.6%" stop-color="#36215f"/><stop offset="77.8%" stop-color="#372466"/><stop offset="80%" stop-color="#372466"/><stop offset="82.2%" stop-color="#36215f"/><stop offset="84.4%" stop-color="#351e58"/><stop offset="86.7%" stop-color="#33184a"/><stop offset="88.9%" stop-color="#33184a"/><stop offset="91.1%" stop-color="#321543"/><stop offset="93.3%" stop-color="#30123b"/><stop offset="95.6%" stop-color="#30123b"/><stop offset="97.8%" stop-color="#30123b"/><stop offset="100%" stop-color="#30123b"/></linearGradient><linearGradient id="r25"><stop offset="0%" stop-color="#3e3891"/><stop offset="2.2%" stop-color="#4040a2"/><stop offset="4.4%" stop-color="#4249b1"/><stop offset="6.7%" stop-color="#4454c3"/><stop offset="8.9%" stop-color="#4661d6"/><stop offset="11.1%" stop-color="#4771e9"/><stop offset="13.3%" stop-color="#4680f6"/><stop offset="15.6%" stop-color="#4196ff"/><stop offset="17.8%" stop-color="#2eb4f2"/><stop offset="20%" stop-color="#18d9c8"/><stop offset="22.2%" stop-color="#38f491"/><stop offset="24.4%" stop-color="#80ff53"/><stop offset="26.7%" stop-color="#9ffd3f"/><stop offset="28.9%" stop-color="#a7fc3a"/><stop offset="31.1%" stop-color="#92ff47"/><stop offset="33.3%" stop-color="#80ff53"/><stop offset="35.6%" stop-color="#75fe5c"/><stop offset="37.8%" stop-color="#8bff4b"/><stop offset="40%" stop-color="#bef434"/><stop offset="42.2%" stop-color="#e9d539"/><stop offset="44.4%" stop-color="#faba39"/><stop offset="46.7%" stop-color="#f5c53a"/><stop offset="48.9%" stop-color="#bef434"/><stop offset="51.1%" stop-color="#46f884"/><stop offset="53.3%" stop-color="#2eb4f2"/><stop offset="55.6%" stop-color="#4664da"/><stop offset="57.8%" stop-color="#3f3e9c"/><stop offset="60%" stop-color="#392a73"/><stop offset="62.2%" stop-color="#36215f"/><stop offset="64.4%" stop-color="#341b51"/><stop offset="66.7%" stop-color="#341b51"/><stop offset="68.9%" stop-color="#341b51"/><stop offset="71.1%" stop-color="#341b51"/><stop offset="73.3%" stop-color="#351e58"/><stop offset="75.6%" stop-color="#36215f"/><stop offset="77.8%" stop-color="#372466"/><stop offset="80%" stop-color="#372466"/><stop offset="82.2%" stop-color="#36215f"/><stop offset="84.4%" stop-color="#351e58"/><stop offset="86.7%" stop-color="#33184a"/><stop offset="88.9%" stop-color="#33184a"/><stop offset="91.1%" stop-color="#321543"/><stop offset="93.3%" stop-color="#30123b"/><stop offset="95.6%" stop-color="#30123b"/><stop offset="97.8%" stop-color="#30123b"/><stop offset="100%" stop-color="#30123b"/></linearGradient><linearGradient id="r26"><stop offset="0%" stop-color="#3d358b"/><stop offset="2.2%" stop-color="#3f3e9c"/><stop offset="4.4%" stop-color="#4146ac"/><stop offset="6.7%" stop-color="#4451bf"/><stop offset="8.9%" stop-color="#455ccf"/><stop offset="11.1%" stop-color="#466be3"/><stop offset="13.3%" stop-color="#477bf2"/><stop offset="15.6%" stop-color="#4391fe"/><stop offset="17.8%" stop-color="#33adf7"/><stop offset="20%" stop-color="#1ad2d2"/><stop offset="22.2%" stop-color="#27eea4"/><stop offset="24.4%" stop-color="#65fd69"/><stop offset="26.7%" stop-color="#88ff4e"/><stop offset="28.9%" stop-color="#8fff49"/><stop offset="31.1%" stop-color="#79fe59"/><stop offset="33.3%" stop-color="#69fd66"/><stop offset="35.6%" stop-color="#65fd69"/><stop offset="37.8%" stop-color="#88ff4e"/><stop offset="40%" stop-color="#c1f334"/><stop offset="42.2%" stop-color="#ebd339"/><stop offset="44.4%" stop-color="#fcb336"/><stop offset="46.7%" stop-color="#f7c13a"/><stop offset="48.9%" stop-color="#c3f134"/><stop offset="51.1%" stop-color="#4af880"/><stop offset="53.3%" stop-color="#2eb4f2"/><stop offset="55.6%" stop-color="#4664da"/><stop offset="57.8%" stop-color="#3f3e9c"/><stop offset="60%" stop-color="#392a73"/><stop offset="62.2%" stop-color="#351e58"/><stop offset="64.4%" stop-color="#341b51"/><stop offset="66.7%" stop-color="#341b51"/><stop offset="68.9%" stop-color="#341b51"/><stop offset="71.1%" stop-color="#341b51"/><stop offset="73.3%" stop-color="#351e58"/><stop offset="75.6%" stop-color="#351e58"/><stop offset="77.8%" stop-color="#36215f"/><stop offset="80%" stop-color="#36215f"/><stop offset="82.2%" stop-color="#351e58"/><stop offset="84.4%" stop-color="#341b51"/><stop offset="86.7%" stop-color="#33184a"/><stop offset="88.9%" stop-color="#321543"/><stop offset="91.1%" stop-color="#321543"/><stop offset="93.3%" stop-color="#30123b"/><stop offset="95.6%" stop-color="#30123b"/><stop offset="97.8%" stop-color="#30123b"/><stop offset="100%" stop-color="#30123b"/></linearGradient><linearGradient id="r27"><stop offset="0%" stop-color="#3d358b"/><stop offset="2.2%" stop-color="#3f3b97"/><stop offset="4.4%" stop-color="#4143a7"/><stop offset="6.7%" stop-color="#434eba"/><stop offset="8.9%" stop-color="#4559cb"/><stop offset="11.1%" stop-color="#4669e0"/><stop offset="13.3%" stop-color="#4776ee"/><stop offset="15.6%" stop-color="#458afc"/><stop offset="17.8%" stop-color="#38a5fb"/><stop offset="20%" stop-color="#1fc9dd"/><stop offset="22.2%" stop-color="#1fe9af"/><stop offset="24.4%" stop-color="#4ef97d"/><stop offset="26.7%" stop-color="#71fe5f"/><stop offset="28.9%" stop-color="#75fe5c"/><stop offset="31.1%" stop-color="#5dfc6f"/><stop offset="33.3%" stop-color="#55fa76"/><stop offset="35.6%" stop-color="#5dfc6f"/><stop offset="37.8%" stop-color="#88ff4e"/><stop offset="40%" stop-color="#c1f334"/><stop offset="42.2%" stop-color="#eecf3a"/><stop offset="44.4%" stop-color="#fdae35"/><stop offset="46.7%" stop-color="#f9bc39"/><stop offset="48.9%" stop-color="#c8ef34"/><stop offset="51.1%" stop-color="#4ef97d"/><stop offset="53.3%" stop-color="#2eb4f2"/><stop offset="55.6%" stop-color="#4664da"/><stop offset="57.8%" stop-color="#3f3e9c"/><stop offset="60%" stop-color="#392a73"/><stop offset="62.2%" stop-color="#351e58"/><stop offset="64.4%" stop-color="#341b51"/><stop offset="66.7%" stop-color="#341b51"/><stop offset="68.9%" stop-color="#341b51"/><stop offset="71.1%" stop-color="#341b51"/><stop offset="73.3%" stop-color="#341b51"/><stop offset="75.6%" stop-color="#351e58"/><stop offset="77.8%" stop-color="#36215f"/><stop offset="80%" stop-color="#36215f"/><stop offset="82.2%" stop-color="#351e58"/><stop offset="84.4%" stop-color="#341b51"/><stop offset="86.7%" stop-color="#33184a"/><stop offset="88.9%" stop-color="#321543"/><stop offset="91.1%" stop-color="#321543"/><stop offset="93.3%" stop-color="#30123b"/><stop offset="95.6%" stop-color="#30123b"/><stop offset="97.8%" stop-color="#30123b"/><stop offset="100%" stop-color="#30123b"/></linearGradient><linearGradient id="r28"><stop offset="0%" stop-color="#3d358b"/><stop offset="2.2%" stop-color="#3f3b97"/><stop offset="4.4%" stop-color="#4143a7"/><stop offset="6.7%" stop-color="#424bb5"/><stop offset="8.9%" stop-color="#4456c7"/><stop offset="11.1%" stop-color="#4664da"/><stop offset="13.3%" stop-color="#4771e9"/><stop offset="15.6%" stop-color="#4685fa"/><stop offset="17.8%" stop-color="#3d9efe"/><stop offset="20%" stop-color="#25c0e7"/><stop offset="22.2%" stop-color="#19e2bb"/><stop offset="24.4%" stop-color="#3cf58e"/><stop offset="26.7%" stop-color="#55fa76"/><stop offset="28.9%" stop-color="#5dfc6f"/><stop offset="31.1%" stop-color="#46f884"/><stop offset="33.3%" stop-color="#43f787"/><stop offset="35.6%" stop-color="#52fa7a"/><stop offset="37.8%" stop-color="#84ff51"/><stop offset="40%" stop-color="#c3f134"/><stop offset="42.2%" stop-color="#efcd3a"/><stop offset="44.4%" stop-color="#fdac34"/><stop offset="46.7%" stop-color="#fbb838"/><stop offset="48.9%" stop-color="#cbed34"/><stop offset="51.1%" stop-color="#52fa7a"/><stop offset="53.3%" stop-color="#2cb7f0"/><stop offset="55.6%" stop-color="#4664da"/><stop offset="57.8%" stop-color="#3f3b97"/><stop offset="60%" stop-color="#392a73"/><stop offset="62.2%" stop-color="#351e58"/><stop offset="64.4%" stop-color="#341b51"/><stop offset="66.7%" stop-color="#341b51"/><stop offset="68.9%" stop-color="#33184a"/><stop offset="71.1%" stop-color="#341b51"/><stop offset="73.3%" stop-color="#341b51"/><stop offset="75.6%" stop-color="#351e58"/><stop offset="77.8%" stop-color="#36215f"/><stop offset="80%" stop-color="#351e58"/><stop offset="82.2%" stop-color="#351e58"/><stop offset="84.4%" stop-color="#341b51"/><stop offset="86.7%" stop-color="#33184a"/><stop offset="88.9%" stop-color="#321543"/><stop offset="91.1%" stop-color="#321543"/><stop offset="93.3%" stop-color="#30123b"/><stop offset="95.6%" stop-color="#30123b"/><stop offset="97.8%" stop-color="#30123b"/><stop offset="100%" stop-color="#30123b"/></linearGradient><linearGradient id="r29"><stop offset="0%" stop-color="#3c3286"/><stop offset="2.2%" stop-color="#3f3b97"/><stop offset="4.4%" stop-color="#4040a2"/><stop offset="6.7%" stop-color="#4249b1"/><stop offset="8.9%" stop-color="#4454c3"/><stop offset="11.1%" stop-color="#4661d6"/><stop offset="13.3%" stop-color="#476ee6"/><stop offset="15.6%" stop-color="#4680f6"/><stop offset="17.8%" stop-color="#4196ff"/><stop offset="20%" stop-color="#2ab9ee"/><stop offset="22.2%" stop-color="#18ddc2"/><stop offset="24.4%" stop-color="#2cf09e"/><stop offset="26.7%" stop-color="#43f787"/><stop offset="28.9%" stop-color="#46f884"/><stop offset="31.1%" stop-color="#35f394"/><stop offset="33.3%" stop-color="#35f394"/><stop offset="35.6%" stop-color="#4af880"/><stop offset="37.8%" stop-color="#84ff51"/><stop offset="40%" stop-color="#c6f034"/><stop offset="42.2%" stop-color="#f1cb3a"/><stop offset="44.4%" stop-color="#fea732"/><stop offset="46.7%" stop-color="#fbb637"/><stop offset="48.9%" stop-color="#cdec34"/><stop offset="51.1%" stop-color="#52fa7a"/><stop offset="53.3%" stop-color="#2cb7f0"/><stop offset="55.6%" stop-color="#4664da"/><stop offset="57.8%" stop-color="#3f3b97"/><stop offset="60%" stop-color="#38276d"/><stop offset="62.2%" stop-color="#351e58"/><stop offset="64.4%" stop-color="#341b51"/><stop offset="66.7%" stop-color="#33184a"/><stop offset="68.9%" stop-color="#33184a"/><stop offset="71.1%" stop-color="#341b51"/><stop offset="73.3%" stop-color="#341b51"/><stop offset="75.6%" stop-color="#351e58"/><stop offset="77.8%" stop-color="#351e58"/><stop offset="80%" stop-color="#351e58"/><stop offset="82.2%" stop-color="#351e58"/><stop offset="84.4%" stop-color="#341b51"/><stop offset="86.7%" stop-color="#33184a"/><stop offset="88.9%" stop-color="#321543"/><stop offset="91.1%" stop-color="#321543"/><stop offset="93.3%" stop-color="#30123b"/><stop offset="95.6%" stop-color="#30123b"/><stop offset="97.8%" stop-color="#30123b"/><stop offset="100%" stop-color="#30123b"/></linearGradient><linearGradient id="r30"><stop offset="0%" stop-color="#3c3286"/><stop offset="2.2%" stop-color="#3e3891"/><stop offset="4.4%" stop-color="#4040a2"/><stop offset="6.7%" stop-color="#4146ac"/><stop offset="8.9%" stop-color="#4451bf"/><stop offset="11.1%" stop-color="#455ed3"/><stop offset="13.3%" stop-color="#4669e0"/><stop offset="15.6%" stop-color="#477bf2"/><stop offset="17.8%" stop-color="#4391fe"/><stop offset="20%" stop-color="#31aff5"/><stop offset="22.2%" stop-color="#19d5cd"/><stop offset="24.4%" stop-color="#20eaac"/><stop offset="26.7%" stop-color="#32f298"/><stop offset="28.9%" stop-color="#32f298"/><stop offset="31.1%" stop-color="#25eca7"/><stop offset="33.3%" stop-color="#2aefa1"/><stop offset="35.6%" stop-color="#3ff68a"/><stop offset="37.8%" stop-color="#80ff53"/><stop offset="40%" stop-color="#c6f034"/><stop offset="42.2%" stop-color="#f2c93a"/><stop offset="44.4%" stop-color="#fea431"/><stop offset="46.7%" stop-color="#fcb336"/><stop offset="48.9%" stop-color="#d0ea34"/><stop offset="51.1%" stop-color="#55fa76"/><stop offset="53.3%" stop-color="#2cb7f0"/><stop offset="55.6%" stop-color="#4664da"/><stop offset="57.8%" stop-color="#3f3b97"/><stop offset="60%" stop-color="#38276d"/><stop offset="62.2%" stop-color="#351e58"/><stop offset="64.4%" stop-color="#341b51"/><stop offset="66.7%" stop-color="#33184a"/><stop offset="68.9%" stop-color="#33184a"/><stop offset="71.1%" stop-color="#33184a"/><stop offset="73.3%" stop-color="#341b51"/><stop offset="75.6%" stop-color="#351e58"/><stop offset="77.8%" stop-color="#351e58"/><stop offset="80%" stop-color="#351e58"/><stop offset="82.2%" stop-color="#341b51"/><stop offset="84.4%" stop-color="#341b51"/><stop offset="86.7%" stop-color="#33184a"/><stop offset="88.9%" stop-color="#321543"/><stop offset="91.1%" stop-color="#321543"/><stop offset="93.3%" stop-color="#30123b"/><stop offset="95.6%" stop-color="#30123b"/><stop offset="97.8%" stop-color="#30123b"/><stop offset="100%" stop-color="#30123b"/></linearGradient><linearGradient id="r31"><stop offset="0%" stop-color="#3c3286"/><stop offset="2.2%" stop-color="#3e3891"/><stop offset="4.4%" stop-color="#3f3e9c"/><stop offset="6.7%" stop-color="#4146ac"/><stop offset="8.9%" stop-color="#434eba"/><stop offset="11.1%" stop-color="#4559cb"/><stop offset="13.3%" stop-color="#4664da"/><stop offset="15.6%" stop-color="#4773eb"/><stop offset="17.8%" stop-color="#458afc"/><stop offset="20%" stop-color="#37a8fa"/><stop offset="22.2%" stop-color="#1ecbda"/><stop offset="24.4%" stop-color="#19e2bb"/><stop offset="26.7%" stop-color="#22ebaa"/><stop offset="28.9%" stop-color="#22ebaa"/><stop offset="31.1%" stop-color="#1ae4b6"/><stop offset="33.3%" stop-color="#1fe9af"/><stop offset="35.6%" stop-color="#38f491"/><stop offset="37.8%" stop-color="#7dff56"/><stop offset="40%" stop-color="#c6f034"/><stop offset="42.2%" stop-color="#f2c93a"/><stop offset="44.4%" stop-color="#fea431"/><stop offset="46.7%" stop-color="#fcb136"/><stop offset="48.9%" stop-color="#d0ea34"/><stop offset="51.1%" stop-color="#55fa76"/><stop offset="53.3%" stop-color="#2cb7f0"/><stop offset="55.6%" stop-color="#4664da"/><stop offset="57.8%" stop-color="#3f3b97"/><stop offset="60%" stop-color="#38276d"/><stop offset="62.2%" stop-color="#351e58"/><stop offset="64.4%" stop-color="#341b51"/><stop offset="66.7%" stop-color="#33184a"/><stop offset="68.9%" stop-color="#33184a"/><stop offset="71.1%" stop-color="#33184a"/><stop offset="73.3%" stop-color="#341b51"/><stop offset="75.6%" stop-color="#341b51"/><stop offset="77.8%" stop-color="#351e58"/><stop offset="80%" stop-color="#351e58"/><stop offset="82.2%" stop-color="#341b51"/><stop offset="84.4%" stop-color="#33184a"/><stop offset="86.7%" stop-color="#33184a"/><stop offset="88.9%" stop-color="#321543"/><stop offset="91.1%" stop-color="#321543"/><stop offset="93.3%" stop-color="#30123b"/><stop offset="95.6%" stop-color="#30123b"/><stop offset="97.8%" stop-color="#30123b"/><stop offset="100%" stop-color="#30123b"/></linearGradient><linearGradient id="r32"><stop offset="0%" stop-color="#3b2f80"/><stop offset="2.2%" stop-color="#3d358b"/><stop offset="4.4%" stop-color="#3f3b97"/><stop offset="6.7%" stop-color="#4040a2"/><stop offset="8.9%" stop-color="#424bb5"/><stop offset="11.1%" stop-color="#4456c7"/><stop offset="13.3%" stop-color="#455ed3"/><stop offset="15.6%" stop-color="#476ee6"/><stop offset="17.8%" stop-color="#4680f6"/><stop offset="20%" stop-color="#3d9efe"/><stop offset="22.2%" stop-color="#25c0e7"/><stop offset="24.4%" stop-color="#18d7ca"/><stop offset="26.7%" stop-color="#19e2bb"/><stop offset="28.9%" stop-color="#19e2bb"/><stop offset="31.1%" stop-color="#18dbc5"/><stop offset="33.3%" stop-color="#19e2bb"/><stop offset="35.6%" stop-color="#2ff19b"/><stop offset="37.8%" stop-color="#79fe59"/><stop offset="40%" stop-color="#c3f134"/><stop offset="42.2%" stop-color="#f2c93a"/><stop offset="44.4%" stop-color="#fea431"/><stop offset="46.7%" stop-color="#fcb336"/><stop offset="48.9%" stop-color="#d0ea34"/><stop offset="51.1%" stop-color="#55fa76"/><stop offset="53.3%" stop-color="#2cb7f0"/><stop offset="55.6%" stop-color="#4664da"/><stop offset="57.8%" stop-color="#3f3b97"/><stop offset="60%" stop-color="#38276d"/><stop offset="62.2%" stop-color="#351e58"/><stop offset="64.4%" stop-color="#341b51"/><stop offset="66.7%" stop-color="#33184a"/><stop offset="68.9%" stop-color="#33184a"/><stop offset="71.1%" stop-color="#33184a"/><stop offset="73.3%" stop-color="#341b51"/><stop offset="75.6%" stop-color="#341b51"/><stop offset="77.8%" stop-color="#351e58"/><stop offset="80%" stop-color="#351e58"/><stop offset="82.2%" stop-color="#341b51"/><stop offset="84.4%" stop-color="#33184a"/><stop offset="86.7%" stop-color="#33184a"/><stop offset="88.9%" stop-color="#321543"/><stop offset="91.1%" stop-color="#321543"/><stop offset="93.3%" stop-color="#30123b"/><stop offset="95.6%" stop-color="#30123b"/><stop offset="97.8%" stop-color="#30123b"/><stop offset="100%" stop-color="#30123b"/></linearGradient><linearGradient id="r33"><stop offset="0%" stop-color="#3a2d79"/><stop offset="2.2%" stop-color="#3c3286"/><stop offset="4.4%" stop-color="#3e3891"/><stop offset="6.7%" stop-color="#3f3e9c"/><stop offset="8.9%" stop-color="#4146ac"/><stop offset="11.1%" stop-color="#4451bf"/><stop offset="13.3%" stop-color="#4559cb"/><stop offset="15.6%" stop-color="#4666dd"/><stop offset="17.8%" stop-color="#4778f0"/><stop offset="20%" stop-color="#4391fe"/><stop offset="22.2%" stop-color="#2fb2f4"/><stop offset="24.4%" stop-color="#1fc9dd"/><stop offset="26.7%" stop-color="#19d5cd"/><stop offset="28.9%" stop-color="#19d5cd"/><stop offset="31.1%" stop-color="#1bd0d5"/><stop offset="33.3%" stop-color="#18d9c8"/><stop offset="35.6%" stop-color="#27eea4"/><stop offset="37.8%" stop-color="#71fe5f"/><stop offset="40%" stop-color="#c1f334"/><stop offset="42.2%" stop-color="#f1cb3a"/><stop offset="44.4%" stop-color="#fea732"/><stop offset="46.7%" stop-color="#fcb336"/><stop offset="48.9%" stop-color="#cdec34"/><stop offset="51.1%" stop-color="#52fa7a"/><stop offset="53.3%" stop-color="#2eb4f2"/><stop offset="55.6%" stop-color="#4664da"/><stop offset="57.8%" stop-color="#3f3b97"/><stop offset="60%" stop-color="#38276d"/><stop offset="62.2%" stop-color="#351e58"/><stop offset="64.4%" stop-color="#341b51"/><stop offset="66.7%" stop-color="#33184a"/><stop offset="68.9%" stop-color="#33184a"/><stop offset="71.1%" stop-color="#33184a"/><stop offset="73.3%" stop-color="#341b51"/><stop offset="75.6%" stop-color="#341b51"/><stop offset="77.8%" stop-color="#351e58"/><stop offset="80%" stop-color="#351e58"/><stop offset="82.2%" stop-color="#341b51"/><stop offset="84.4%" stop-color="#33184a"/><stop offset="86.7%" stop-color="#33184a"/><stop offset="88.9%" stop-color="#321543"/><stop offset="91.1%" stop-color="#321543"/><stop offset="93.3%" stop-color="#30123b"/><stop offset="95.6%" stop-color="#30123b"/><stop offset="97.8%" stop-color="#30123b"/><stop offset="100%" stop-color="#30123b"/></linearGradient><linearGradient id="r34"><stop offset="0%" stop-color="#3a2d79"/><stop offset="2.2%" stop-color="#3b2f80"/><stop offset="4.4%" stop-color="#3d358b"/><stop offset="6.7%" stop-color="#3f3b97"/><stop offset="8.9%" stop-color="#4143a7"/><stop offset="11.1%" stop-color="#424bb5"/><stop offset="13.3%" stop-color="#4454c3"/><stop offset="15.6%" stop-color="#4661d6"/><stop offset="17.8%" stop-color="#4771e9"/><stop offset="20%" stop-color="#458afc"/><stop offset="22.2%" stop-color="#37a8fa"/><stop offset="24.4%" stop-color="#27bee9"/><stop offset="26.7%" stop-color="#1fc9dd"/><stop offset="28.9%" stop-color="#1ecbda"/><stop offset="31.1%" stop-color="#20c7df"/><stop offset="33.3%" stop-color="#1ad4d0"/><stop offset="35.6%" stop-color="#20eaac"/><stop offset="37.8%" stop-color="#69fd66"/><stop offset="40%" stop-color="#bef434"/><stop offset="42.2%" stop-color="#efcd3a"/><stop offset="44.4%" stop-color="#fea933"/><stop offset="46.7%" stop-color="#fbb637"/><stop offset="48.9%" stop-color="#cdec34"/><stop offset="51.1%" stop-color="#52fa7a"/><stop offset="53.3%" stop-color="#2eb4f2"/><stop offset="55.6%" stop-color="#4661d6"/><stop offset="57.8%" stop-color="#3f3b97"/><stop offset="60%" stop-color="#38276d"/><stop offset="62.2%" stop-color="#351e58"/><stop offset="64.4%" stop-color="#341b51"/><stop offset="66.7%" stop-color="#33184a"/><stop offset="68.9%" stop-color="#33184a"/><stop offset="71.1%" stop-color="#33184a"/><stop offset="73.3%" stop-color="#341b51"/><stop offset="75.6%" stop-color="#341b51"/><stop offset="77.8%" stop-color="#351e58"/><stop offset="80%" stop-color="#341b51"/><stop offset="82.2%" stop-color="#341b51"/><stop offset="84.4%" stop-color="#33184a"/><stop offset="86.7%" stop-color="#33184a"/><stop offset="88.9%" stop-color="#321543"/><stop offset="91.1%" stop-color="#321543"/><stop offset="93.3%" stop-color="#30123b"/><stop offset="95.6%" stop-color="#30123b"/><stop offset="97.8%" stop-color="#30123b"/><stop offset="100%" stop-color="#30123b"/></linearGradient><linearGradient id="r35"><stop offset="0%" stop-color="#392a73"/><stop offset="2.2%" stop-color="#3b2f80"/><stop offset="4.4%" stop-color="#3c3286"/><stop offset="6.7%" stop-color="#3e3891"/><stop offset="8.9%" stop-color="#4040a2"/><stop offset="11.1%" stop-color="#4249b1"/><stop offset="13.3%" stop-color="#434eba"/><stop offset="15.6%" stop-color="#455ccf"/><stop offset="17.8%" stop-color="#4669e0"/><stop offset="20%" stop-color="#4680f6"/><stop offset="22.2%" stop-color="#3d9efe"/><stop offset="24.4%" stop-color="#2fb2f4"/><stop offset="26.7%" stop-color="#27bee9"/><stop offset="28.9%" stop-color="#25c0e7"/><stop offset="31.1%" stop-color="#27bee9"/><stop offset="33.3%" stop-color="#1ecbda"/><stop offset="35.6%" stop-color="#1ce6b4"/><stop offset="37.8%" stop-color="#65fd69"/><stop offset="40%" stop-color="#bcf534"/><stop offset="42.2%" stop-color="#eecf3a"/><stop offset="44.4%" stop-color="#fdac34"/><stop offset="46.7%" stop-color="#fbb838"/><stop offset="48.9%" stop-color="#cbed34"/><stop offset="51.1%" stop-color="#4ef97d"/><stop offset="53.3%" stop-color="#2fb2f4"/><stop offset="55.6%" stop-color="#4661d6"/><stop offset="57.8%" stop-color="#3f3b97"/><stop offset="60%" stop-color="#38276d"/><stop offset="62.2%" stop-color="#351e58"/><stop offset="64.4%" stop-color="#341b51"/><stop offset="66.7%" stop-color="#33184a"/><stop offset="68.9%" stop-color="#33184a"/><stop offset="71.1%" stop-color="#33184a"/><stop offset="73.3%" stop-color="#341b51"/><stop offset="75.6%" stop-color="#341b51"/><stop offset="77.8%" stop-color="#341b51"/><stop offset="80%" stop-color="#341b51"/><stop offset="82.2%" stop-color="#341b51"/><stop offset="84.4%" stop-color="#33184a"/><stop offset="86.7%" stop-color="#33184a"/><stop offset="88.9%" stop-color="#321543"/><stop offset="91.1%" stop-color="#321543"/><stop offset="93.3%" stop-color="#30123b"/><stop offset="95.6%" stop-color="#30123b"/><stop offset="97.8%" stop-color="#30123b"/><stop offset="100%" stop-color="#30123b"/></linearGradient><linearGradient id="r36"><stop offset="0%" stop-color="#392a73"/><stop offset="2.2%" stop-color="#3a2d79"/><stop offset="4.4%" stop-color="#3b2f80"/><stop offset="6.7%" stop-color="#3d358b"/><stop offset="8.9%" stop-color="#3f3e9c"/><stop offset="11.1%" stop-color="#4143a7"/><stop offset="13.3%" stop-color="#424bb5"/><stop offset="15.6%" stop-color="#4456c7"/><stop offset="17.8%" stop-color="#4664da"/><stop offset="20%" stop-color="#4778f0"/><stop offset="22.2%" stop-color="#4294ff"/><stop offset="24.4%" stop-color="#37a8fa"/><stop offset="26.7%" stop-color="#2fb2f4"/><stop offset="28.9%" stop-color="#2eb4f2"/><stop offset="31.1%" stop-color="#2eb4f2"/><stop offset="33.3%" stop-color="#22c5e2"/><stop offset="35.6%" stop-color="#19e3b9"/><stop offset="37.8%" stop-color="#5dfc6f"/><stop offset="40%" stop-color="#b9f635"/><stop offset="42.2%" stop-color="#ebd339"/><stop offset="44.4%" stop-color="#fcb136"/><stop offset="46.7%" stop-color="#f9bc39"/><stop offset="48.9%" stop-color="#c6f034"/><stop offset="51.1%" stop-color="#4af880"/><stop offset="53.3%" stop-color="#2fb2f4"/><stop offset="55.6%" stop-color="#4661d6"/><stop offset="57.8%" stop-color="#3e3891"/><stop offset="60%" stop-color="#38276d"/><stop offset="62.2%" stop-color="#351e58"/><stop offset="64.4%" stop-color="#341b51"/><stop offset="66.7%" stop-color="#33184a"/><stop offset="68.9%" stop-color="#33184a"/><stop offset="71.1%" stop-color="#33184a"/><stop offset="73.3%" stop-color="#341b51"/><stop offset="75.6%" stop-color="#341b51"/><stop offset="77.8%" stop-color="#341b51"/><stop offset="80%" stop-color="#341b51"/><stop offset="82.2%" stop-color="#341b51"/><stop offset="84.4%" stop-color="#33184a"/><stop offset="86.7%" stop-color="#33184a"/><stop offset="88.9%" stop-color="#321543"/><stop offset="91.1%" stop-color="#321543"/><stop offset="93.3%" stop-color="#30123b"/><stop offset="95.6%" stop-color="#30123b"/><stop offset="97.8%" stop-color="#30123b"/><stop offset="100%" stop-color="#30123b"/></linearGradient><linearGradient id="r37"><stop offset="0%" stop-color="#38276d"/><stop offset="2.2%" stop-color="#392a73"/><stop offset="4.4%" stop-color="#3b2f80"/><stop offset="6.7%" stop-color="#3d358b"/><stop offset="8.9%" stop-color="#3f3b97"/><stop offset="11.1%" stop-color="#4040a2"/><stop offset="13.3%" stop-color="#4146ac"/><stop offset="15.6%" stop-color="#4451bf"/><stop offset="17.8%" stop-color="#455ed3"/><stop offset="20%" stop-color="#4771e9"/><stop offset="22.2%" stop-color="#458afc"/><stop offset="24.4%" stop-color="#3d9efe"/><stop offset="26.7%" stop-color="#37a8fa"/><stop offset="28.9%" stop-color="#35abf8"/><stop offset="31.1%" stop-color="#33adf7"/><stop offset="33.3%" stop-color="#27bee9"/><stop offset="35.6%" stop-color="#18dec0"/><stop offset="37.8%" stop-color="#52fa7a"/><stop offset="40%" stop-color="#b1f936"/><stop offset="42.2%" stop-color="#e7d739"/><stop offset="44.4%" stop-color="#fbb637"/><stop offset="46.7%" stop-color="#f6c33a"/><stop offset="48.9%" stop-color="#c1f334"/><stop offset="51.1%" stop-color="#43f787"/><stop offset="53.3%" stop-color="#33adf7"/><stop offset="55.6%" stop-color="#455ed3"/><stop offset="57.8%" stop-color="#3e3891"/><stop offset="60%" stop-color="#372466"/><stop offset="62.2%" stop-color="#341b51"/><stop offset="64.4%" stop-color="#33184a"/><stop offset="66.7%" stop-color="#33184a"/><stop offset="68.9%" stop-color="#33184a"/><stop offset="71.1%" stop-color="#33184a"/><stop offset="73.3%" stop-color="#341b51"/><stop offset="75.6%" stop-color="#341b51"/><stop offset="77.8%" stop-color="#341b51"/><stop offset="80%" stop-color="#341b51"/><stop offset="82.2%" stop-color="#341b51"/><stop offset="84.4%" stop-color="#33184a"/><stop offset="86.7%" stop-color="#321543"/><stop offset="88.9%" stop-color="#321543"/><stop offset="91.1%" stop-color="#321543"/><stop offset="93.3%" stop-color="#30123b"/><stop offset="95.6%" stop-color="#30123b"/><stop offset="97.8%" stop-color="#30123b"/><stop offset="100%" stop-color="#30123b"/></linearGradient><linearGradient id="r38"><stop offset="0%" stop-color="#38276d"/><stop offset="2.2%" stop-color="#392a73"/><stop offset="4.4%" stop-color="#3a2d79"/><stop offset="6.7%" stop-color="#3c3286"/><stop offset="8.9%" stop-color="#3e3891"/><stop offset="11.1%" stop-color="#3f3e9c"/><stop offset="13.3%" stop-color="#4143a7"/><stop offset="15.6%" stop-color="#424bb5"/><stop offset="17.8%" stop-color="#4559cb"/><stop offset="20%" stop-color="#466be3"/><stop offset="22.2%" stop-color="#4682f8"/><stop offset="24.4%" stop-color="#4294ff"/><stop offset="26.7%" stop-color="#3e9bfe"/><stop offset="28.9%" stop-color="#3ba0fd"/><stop offset="31.1%" stop-color="#3aa3fc"/><stop offset="33.3%" stop-color="#2cb7f0"/><stop offset="35.6%" stop-color="#18dbc5"/><stop offset="37.8%" stop-color="#4af880"/><stop offset="40%" stop-color="#acfb38"/><stop offset="42.2%" stop-color="#e3db38"/><stop offset="44.4%" stop-color="#faba39"/><stop offset="46.7%" stop-color="#f4c73a"/><stop offset="48.9%" stop-color="#b9f635"/><stop offset="51.1%" stop-color="#3cf58e"/><stop offset="53.3%" stop-color="#35abf8"/><stop offset="55.6%" stop-color="#455ed3"/><stop offset="57.8%" stop-color="#3e3891"/><stop offset="60%" stop-color="#372466"/><stop offset="62.2%" stop-color="#341b51"/><stop offset="64.4%" stop-color="#33184a"/><stop offset="66.7%" stop-color="#33184a"/><stop offset="68.9%" stop-color="#33184a"/><stop offset="71.1%" stop-color="#33184a"/><stop offset="73.3%" stop-color="#33184a"/><stop offset="75.6%" stop-color="#341b51"/><stop offset="77.8%" stop-color="#341b51"/><stop offset="80%" stop-color="#341b51"/><stop offset="82.2%" stop-color="#33184a"/><stop offset="84.4%" stop-color="#33184a"/><stop offset="86.7%" stop-color="#321543"/><stop offset="88.9%" stop-color="#321543"/><stop offset="91.1%" stop-color="#321543"/><stop offset="93.3%" stop-color="#30123b"/><stop offset="95.6%" stop-color="#30123b"/><stop offset="97.8%" stop-color="#30123b"/><stop offset="100%" stop-color="#30123b"/></linearGradient><linearGradient id="r39"><stop offset="0%" stop-color="#372466"/><stop offset="2.2%" stop-color="#38276d"/><stop offset="4.4%" stop-color="#392a73"/><stop offset="6.7%" stop-color="#3b2f80"/><stop offset="8.9%" stop-color="#3d358b"/><stop offset="11.1%" stop-color="#3f3b97"/><stop offset="13.3%" stop-color="#4040a2"/><stop offset="15.6%" stop-color="#4146ac"/><stop offset="17.8%" stop-color="#4451bf"/><stop offset="20%" stop-color="#4664da"/><stop offset="22.2%" stop-color="#4778f0"/><stop offset="24.4%" stop-color="#4687fb"/><stop offset="26.7%" stop-color="#4391fe"/><stop offset="28.9%" stop-color="#4196ff"/><stop offset="31.1%" stop-color="#3e9bfe"/><stop offset="33.3%" stop-color="#31aff5"/><stop offset="35.6%" stop-color="#18d7ca"/><stop offset="37.8%" stop-color="#43f787"/><stop offset="40%" stop-color="#a7fc3a"/><stop offset="42.2%" stop-color="#dfdf37"/><stop offset="44.4%" stop-color="#f7c13a"/><stop offset="46.7%" stop-color="#f1cb3a"/><stop offset="48.9%" stop-color="#b4f836"/><stop offset="51.1%" stop-color="#35f394"/><stop offset="53.3%" stop-color="#37a8fa"/><stop offset="55.6%" stop-color="#455ccf"/><stop offset="57.8%" stop-color="#3d358b"/><stop offset="60%" stop-color="#372466"/><stop offset="62.2%" stop-color="#341b51"/><stop offset="64.4%" stop-color="#33184a"/><stop offset="66.7%" stop-color="#33184a"/><stop offset="68.9%" stop-color="#33184a"/><stop offset="71.1%" stop-color="#33184a"/><stop offset="73.3%" stop-color="#33184a"/><stop offset="75.6%" stop-color="#341b51"/><stop offset="77.8%" stop-color="#341b51"/><stop offset="80%" stop-color="#341b51"/><stop offset="82.2%" stop-color="#33184a"/><stop offset="84.4%" stop-color="#33184a"/><stop offset="86.7%" stop-color="#321543"/><stop offset="88.9%" stop-color="#321543"/><stop offset="91.1%" stop-color="#321543"/><stop offset="93.3%" stop-color="#30123b"/><stop offset="95.6%" stop-color="#30123b"/><stop offset="97.8%" stop-color="#30123b"/><stop offset="100%" stop-color="#30123b"/></linearGradient><linearGradient id="r40"><stop offset="0%" stop-color="#372466"/><stop offset="2.2%" stop-color="#38276d"/><stop offset="4.4%" stop-color="#392a73"/><stop offset="6.7%" stop-color="#3a2d79"/><stop offset="8.9%" stop-color="#3c3286"/><stop offset="11.1%" stop-color="#3d358b"/><stop offset="13.3%" stop-color="#3f3b97"/><stop offset="15.6%" stop-color="#4143a7"/><stop offset="17.8%" stop-color="#424bb5"/><stop offset="20%" stop-color="#455ccf"/><stop offset="22.2%" stop-color="#476ee6"/><stop offset="24.4%" stop-color="#467df4"/><stop offset="26.7%" stop-color="#4685fa"/><stop offset="28.9%" stop-color="#458afc"/><stop offset="31.1%" stop-color="#4391fe"/><stop offset="33.3%" stop-color="#37a8fa"/><stop offset="35.6%" stop-color="#1ccdd8"/><stop offset="37.8%" stop-color="#32f298"/><stop offset="40%" stop-color="#92ff47"/><stop offset="42.2%" stop-color="#cdec34"/><stop offset="44.4%" stop-color="#efcd3a"/><stop offset="46.7%" stop-color="#e5d938"/><stop offset="48.9%" stop-color="#a1fd3d"/><stop offset="51.1%" stop-color="#22ebaa"/><stop offset="53.3%" stop-color="#3d9efe"/><stop offset="55.6%" stop-color="#4559cb"/><stop offset="57.8%" stop-color="#3c3286"/><stop offset="60%" stop-color="#36215f"/><stop offset="62.2%" stop-color="#341b51"/><stop offset="64.4%" stop-color="#33184a"/><stop offset="66.7%" stop-color="#33184a"/><stop offset="68.9%" stop-color="#33184a"/><stop offset="71.1%" stop-color="#33184a"/><stop offset="73.3%" stop-color="#33184a"/><stop offset="75.6%" stop-color="#33184a"/><stop offset="77.8%" stop-color="#341b51"/><stop offset="80%" stop-color="#33184a"/><stop offset="82.2%" stop-color="#33184a"/><stop offset="84.4%" stop-color="#33184a"/><stop offset="86.7%" stop-color="#321543"/><stop offset="88.9%" stop-color="#321543"/><stop offset="91.1%" stop-color="#30123b"/><stop offset="93.3%" stop-color="#30123b"/><stop offset="95.6%" stop-color="#30123b"/><stop offset="97.8%" stop-color="#30123b"/><stop offset="100%" stop-color="#30123b"/></linearGradient><linearGradient id="r41"><stop offset="0%" stop-color="#36215f"/><stop offset="2.2%" stop-color="#372466"/><stop offset="4.4%" stop-color="#38276d"/><stop offset="6.7%" stop-color="#392a73"/><stop offset="8.9%" stop-color="#3b2f80"/><stop offset="11.1%" stop-color="#3c3286"/><stop offset="13.3%" stop-color="#3d358b"/><stop offset="15.6%" stop-color="#3f3e9c"/><stop offset="17.8%" stop-color="#4143a7"/><stop offset="20%" stop-color="#4454c3"/><stop offset="22.2%" stop-color="#4664da"/><stop offset="24.4%" stop-color="#4771e9"/><stop offset="26.7%" stop-color="#4778f0"/><stop offset="28.9%" stop-color="#467df4"/><stop offset="31.1%" stop-color="#4687fb"/><stop offset="33.3%" stop-color="#3d9efe"/><stop offset="35.6%" stop-color="#22c5e2"/><stop offset="37.8%" stop-color="#25eca7"/><stop offset="40%" stop-color="#7dff56"/><stop offset="42.2%" stop-color="#bcf534"/><stop offset="44.4%" stop-color="#e3db38"/><stop offset="46.7%" stop-color="#d7e535"/><stop offset="48.9%" stop-color="#88ff4e"/><stop offset="51.1%" stop-color="#19e3b9"/><stop offset="53.3%" stop-color="#4294ff"/><stop offset="55.6%" stop-color="#4454c3"/><stop offset="57.8%" stop-color="#3b2f80"/><stop offset="60%" stop-color="#36215f"/><stop offset="62.2%" stop-color="#33184a"/><stop offset="64.4%" stop-color="#33184a"/><stop offset="66.7%" stop-color="#321543"/><stop offset="68.9%" stop-color="#321543"/><stop offset="71.1%" stop-color="#321543"/><stop offset="73.3%" stop-color="#33184a"/><stop offset="75.6%" stop-color="#33184a"/><stop offset="77.8%" stop-color="#33184a"/><stop offset="80%" stop-color="#33184a"/><stop offset="82.2%" stop-color="#33184a"/><stop offset="84.4%" stop-color="#321543"/><stop offset="86.7%" stop-color="#321543"/><stop offset="88.9%" stop-color="#30123b"/><stop offset="91.1%" stop-color="#30123b"/><stop offset="93.3%" stop-color="#30123b"/><stop offset="95.6%" stop-color="#30123b"/><stop offset="97.8%" stop-color="#30123b"/><stop offset="100%" stop-color="#30123b"/></linearGradient><linearGradient id="r42"><stop offset="0%" stop-color="#351e58"/><stop offset="2.2%" stop-color="#36215f"/><stop offset="4.4%" stop-color="#372466"/><stop offset="6.7%" stop-color="#38276d"/><stop offset="8.9%" stop-color="#392a73"/><stop offset="11.1%" stop-color="#3a2d79"/><stop offset="13.3%" stop-color="#3c3286"/><stop offset="15.6%" stop-color="#3d358b"/><stop offset="17.8%" stop-color="#3f3e9c"/><stop offset="20%" stop-color="#4249b1"/><stop offset="22.2%" stop-color="#4559cb"/><stop offset="24.4%" stop-color="#4664da"/><stop offset="26.7%" stop-color="#466be3"/><stop offset="28.9%" stop-color="#4771e9"/><stop offset="31.1%" stop-color="#467df4"/><stop offset="33.3%" stop-color="#4294ff"/><stop offset="35.6%" stop-color="#2ab9ee"/><stop offset="37.8%" stop-color="#19e3b9"/><stop offset="40%" stop-color="#61fc6c"/><stop offset="42.2%" stop-color="#a7fc3a"/><stop offset="44.4%" stop-color="#d4e735"/><stop offset="46.7%" stop-color="#c3f134"/><stop offset="48.9%" stop-color="#69fd66"/><stop offset="51.1%" stop-color="#18d7ca"/><stop offset="53.3%" stop-color="#458afc"/><stop offset="55.6%" stop-color="#434eba"/><stop offset="57.8%" stop-color="#3a2d79"/><stop offset="60%" stop-color="#351e58"/><stop offset="62.2%" stop-color="#33184a"/><stop offset="64.4%" stop-color="#321543"/><stop offset="66.7%" stop-color="#321543"/><stop offset="68.9%" stop-color="#321543"/><stop offset="71.1%" stop-color="#321543"/><stop offset="73.3%" stop-color="#321543"/><stop offset="75.6%" stop-color="#321543"/><stop offset="77.8%" stop-color="#33184a"/><stop offset="80%" stop-color="#321543"/><stop offset="82.2%" stop-color="#321543"/><stop offset="84.4%" stop-color="#321543"/><stop offset="86.7%" stop-color="#30123b"/><stop offset="88.9%" stop-color="#30123b"/><stop offset="91.1%" stop-color="#30123b"/><stop offset="93.3%" stop-color="#30123b"/><stop offset="95.6%" stop-color="#30123b"/><stop offset="97.8%" stop-color="#30123b"/><stop offset="100%" stop-color="#30123b"/></linearGradient><linearGradient id="r43"><stop offset="0%" stop-color="#351e58"/><stop offset="2.2%" stop-color="#351e58"/><stop offset="4.4%" stop-color="#36215f"/><stop offset="6.7%" stop-color="#372466"/><stop offset="8.9%" stop-color="#38276d"/><stop offset="11.1%" stop-color="#392a73"/><stop offset="13.3%" stop-color="#3a2d79"/><stop offset="15.6%" stop-color="#3c3286"/><stop offset="17.8%" stop-color="#3e3891"/><stop offset="20%" stop-color="#4143a7"/><stop offset="22.2%" stop-color="#4451bf"/><stop offset="24.4%" stop-color="#455ccf"/><stop offset="26.7%" stop-color="#4664da"/><stop offset="28.9%" stop-color="#4669e0"/><stop offset="31.1%" stop-color="#4773eb"/><stop offset="33.3%" stop-color="#458afc"/><stop offset="35.6%" stop-color="#35abf8"/><stop offset="37.8%" stop-color="#18d7ca"/><stop offset="40%" stop-color="#43f787"/><stop offset="42.2%" stop-color="#8fff49"/><stop offset="44.4%" stop-color="#c3f134"/><stop offset="46.7%" stop-color="#affa37"/><stop offset="48.9%" stop-color="#4af880"/><stop offset="51.1%" stop-color="#20c7df"/><stop offset="53.3%" stop-color="#4680f6"/><stop offset="55.6%" stop-color="#4249b1"/><stop offset="57.8%" stop-color="#392a73"/><stop offset="60%" stop-color="#341b51"/><stop offset="62.2%" stop-color="#321543"/><stop offset="64.4%" stop-color="#321543"/><stop offset="66.7%" stop-color="#321543"/><stop offset="68.9%" stop-color="#321543"/><stop offset="71.1%" stop-color="#321543"/><stop offset="73.3%" stop-color="#321543"/><stop offset="75.6%" stop-color="#321543"/><stop offset="77.8%" stop-color="#321543"/><stop offset="80%" stop-color="#321543"/><stop offset="82.2%" stop-color="#321543"/><stop offset="84.4%" stop-color="#30123b"/><stop offset="86.7%" stop-color="#30123b"/><stop offset="88.9%" stop-color="#30123b"/><stop offset="91.1%" stop-color="#30123b"/><stop offset="93.3%" stop-color="#30123b"/><stop offset="95.6%" stop-color="#30123b"/><stop offset="97.8%" stop-color="#30123b"/><stop offset="100%" stop-color="#30123b"/></linearGradient><linearGradient id="r44"><stop offset="0%" stop-color="#341b51"/><stop offset="2.2%" stop-color="#351e58"/><stop offset="4.4%" stop-color="#351e58"/><stop offset="6.7%" stop-color="#36215f"/><stop offset="8.9%" stop-color="#372466"/><stop offset="11.1%" stop-color="#38276d"/><stop offset="13.3%" stop-color="#392a73"/><stop offset="15.6%" stop-color="#3b2f80"/><stop offset="17.8%" stop-color="#3d358b"/><stop offset="20%" stop-color="#3f3e9c"/><stop offset="22.2%" stop-color="#4249b1"/><stop offset="24.4%" stop-color="#4454c3"/><stop offset="26.7%" stop-color="#4559cb"/><stop offset="28.9%" stop-color="#4661d6"/><stop offset="31.1%" stop-color="#466be3"/><stop offset="33.3%" stop-color="#4680f6"/><stop offset="35.6%" stop-color="#3d9efe"/><stop offset="37.8%" stop-color="#1ecbda"/><stop offset="40%" stop-color="#2aefa1"/><stop offset="42.2%" stop-color="#6dfe62"/><stop offset="44.4%" stop-color="#a4fc3c"/><stop offset="46.7%" stop-color="#8fff49"/><stop offset="48.9%" stop-color="#2cf09e"/><stop offset="51.1%" stop-color="#2ab9ee"/><stop offset="53.3%" stop-color="#4776ee"/><stop offset="55.6%" stop-color="#4143a7"/><stop offset="57.8%" stop-color="#38276d"/><stop offset="60%" stop-color="#341b51"/><stop offset="62.2%" stop-color="#321543"/><stop offset="64.4%" stop-color="#321543"/><stop offset="66.7%" stop-color="#30123b"/><stop offset="68.9%" stop-color="#30123b"/><stop offset="71.1%" stop-color="#321543"/><stop offset="73.3%" stop-color="#321543"/><stop offset="75.6%" stop-color="#321543"/><stop offset="77.8%" stop-color="#321543"/><stop offset="80%" stop-color="#321543"/><stop offset="82.2%" stop-color="#30123b"/><stop offset="84.4%" stop-color="#30123b"/><stop offset="86.7%" stop-color="#30123b"/><stop offset="88.9%" stop-color="#30123b"/><stop offset="91.1%" stop-color="#30123b"/><stop offset="93.3%" stop-color="#30123b"/><stop offset="95.6%" stop-color="#30123b"/><stop offset="97.8%" stop-color="#30123b"/><stop offset="100%" stop-color="#30123b"/></linearGradient><linearGradient id="r45"><stop offset="0%" stop-color="#341b51"/><stop offset="2.2%" stop-color="#341b51"/><stop offset="4.4%" stop-color="#351e58"/><stop offset="6.7%" stop-color="#351e58"/><stop offset="8.9%" stop-color="#36215f"/><stop offset="11.1%" stop-color="#372466"/><stop offset="13.3%" stop-color="#38276d"/><stop offset="15.6%" stop-color="#392a73"/><stop offset="17.8%" stop-color="#3b2f80"/><stop offset="20%" stop-color="#3e3891"/><stop offset="22.2%" stop-color="#4143a7"/><stop offset="24.4%" stop-color="#424bb5"/><stop offset="26.7%" stop-color="#4451bf"/><stop offset="28.9%" stop-color="#4559cb"/><stop offset="31.1%" stop-color="#4664da"/><stop offset="33.3%" stop-color="#4776ee"/><stop offset="35.6%" stop-color="#4294ff"/><stop offset="37.8%" stop-color="#25c0e7"/><stop offset="40%" stop-color="#1de7b2"/><stop offset="42.2%" stop-color="#4ef97d"/><stop offset="44.4%" stop-color="#8bff4b"/><stop offset="46.7%" stop-color="#6dfe62"/><stop offset="48.9%" stop-color="#1ce6b4"/><stop offset="51.1%" stop-color="#35abf8"/><stop offset="53.3%" stop-color="#466be3"/><stop offset="55.6%" stop-color="#4040a2"/><stop offset="57.8%" stop-color="#372466"/><stop offset="60%" stop-color="#33184a"/><stop offset="62.2%" stop-color="#321543"/><stop offset="64.4%" stop-color="#30123b"/><stop offset="66.7%" stop-color="#30123b"/><stop offset="68.9%" stop-color="#30123b"/><stop offset="71.1%" stop-color="#30123b"/><stop offset="73.3%" stop-color="#321543"/><stop offset="75.6%" stop-color="#321543"/><stop offset="77.8%" stop-color="#321543"/><stop offset="80%" stop-color="#321543"/><stop offset="82.2%" stop-color="#30123b"/><stop offset="84.4%" stop-color="#30123b"/><stop offset="86.7%" stop-color="#30123b"/><stop offset="88.9%" stop-color="#30123b"/><stop offset="91.1%" stop-color="#30123b"/><stop offset="93.3%" stop-color="#30123b"/><stop offset="95.6%" stop-color="#30123b"/><stop offset="97.8%" stop-color="#30123b"/><stop offset="100%" stop-color="#30123b"/></linearGradient><linearGradient id="r46"><stop offset="0%" stop-color="#33184a"/><stop offset="2.2%" stop-color="#33184a"/><stop offset="4.4%" stop-color="#341b51"/><stop offset="6.7%" stop-color="#351e58"/><stop offset="8.9%" stop-color="#351e58"/><stop offset="11.1%" stop-color="#36215f"/><stop offset="13.3%" stop-color="#372466"/><stop offset="15.6%" stop-color="#38276d"/><stop offset="17.8%" stop-color="#3a2d79"/><stop offset="20%" stop-color="#3c3286"/><stop offset="22.2%" stop-color="#3f3e9c"/><stop offset="24.4%" stop-color="#4146ac"/><stop offset="26.7%" stop-color="#4249b1"/><stop offset="28.9%" stop-color="#4451bf"/><stop offset="31.1%" stop-color="#455ccf"/><stop offset="33.3%" stop-color="#476ee6"/><stop offset="35.6%" stop-color="#458afc"/><stop offset="37.8%" stop-color="#2cb7f0"/><stop offset="40%" stop-color="#18dec0"/><stop offset="42.2%" stop-color="#35f394"/><stop offset="44.4%" stop-color="#69fd66"/><stop offset="46.7%" stop-color="#4af880"/><stop offset="48.9%" stop-color="#18dbc5"/><stop offset="51.1%" stop-color="#3d9efe"/><stop offset="53.3%" stop-color="#4664da"/><stop offset="55.6%" stop-color="#3f3b97"/><stop offset="57.8%" stop-color="#372466"/><stop offset="60%" stop-color="#33184a"/><stop offset="62.2%" stop-color="#321543"/><stop offset="64.4%" stop-color="#30123b"/><stop offset="66.7%" stop-color="#30123b"/><stop offset="68.9%" stop-color="#30123b"/><stop offset="71.1%" stop-color="#30123b"/><stop offset="73.3%" stop-color="#30123b"/><stop offset="75.6%" stop-color="#30123b"/><stop offset="77.8%" stop-color="#321543"/><stop offset="80%" stop-color="#30123b"/><stop offset="82.2%" stop-color="#30123b"/><stop offset="84.4%" stop-color="#30123b"/><stop offset="86.7%" stop-color="#30123b"/><stop offset="88.9%" stop-color="#30123b"/><stop offset="91.1%" stop-color="#30123b"/><stop offset="93.3%" stop-color="#30123b"/><stop offset="95.6%" stop-color="#30123b"/><stop offset="97.8%" stop-color="#30123b"/><stop offset="100%" stop-color="#30123b"/></linearGradient><linearGradient id="r47"><stop offset="0%" stop-color="#33184a"/><stop offset="2.2%" stop-color="#33184a"/><stop offset="4.4%" stop-color="#33184a"/><stop offset="6.7%" stop-color="#341b51"/><stop offset="8.9%" stop-color="#341b51"/><stop offset="11.1%" stop-color="#351e58"/><stop offset="13.3%" stop-color="#36215f"/><stop offset="15.6%" stop-color="#372466"/><stop offset="17.8%" stop-color="#38276d"/><stop offset="20%" stop-color="#3b2f80"/><stop offset="22.2%" stop-color="#3d358b"/><stop offset="24.4%" stop-color="#3f3e9c"/><stop offset="26.7%" stop-color="#4143a7"/><stop offset="28.9%" stop-color="#4249b1"/><stop offset="31.1%" stop-color="#4456c7"/><stop offset="33.3%" stop-color="#4666dd"/><stop offset="35.6%" stop-color="#4680f6"/><stop offset="37.8%" stop-color="#35abf8"/><stop offset="40%" stop-color="#1ad4d0"/><stop offset="42.2%" stop-color="#22ebaa"/><stop offset="44.4%" stop-color="#4af880"/><stop offset="46.7%" stop-color="#2ff19b"/><stop offset="48.9%" stop-color="#1ccdd8"/><stop offset="51.1%" stop-color="#4391fe"/><stop offset="53.3%" stop-color="#455ed3"/><stop offset="55.6%" stop-color="#3e3891"/><stop offset="57.8%" stop-color="#36215f"/><stop offset="60%" stop-color="#33184a"/><stop offset="62.2%" stop-color="#321543"/><stop offset="64.4%" stop-color="#30123b"/><stop offset="66.7%" stop-color="#30123b"/><stop offset="68.9%" stop-color="#30123b"/><stop offset="71.1%" stop-color="#30123b"/><stop offset="73.3%" stop-color="#30123b"/><stop offset="75.6%" stop-color="#30123b"/><stop offset="77.8%" stop-color="#30123b"/><stop offset="80%" stop-color="#30123b"/><stop offset="82.2%" stop-color="#30123b"/><stop offset="84.4%" stop-color="#30123b"/><stop offset="86.7%" stop-color="#30123b"/><stop offset="88.9%" stop-color="#30123b"/><stop offset="91.1%" stop-color="#30123b"/><stop offset="93.3%" stop-color="#30123b"/><stop offset="95.6%" stop-color="#30123b"/><stop offset="97.8%" stop-color="#30123b"/><stop offset="100%" stop-color="#30123b"/></linearGradient><linearGradient id="r48"><stop offset="0%" stop-color="#321543"/><stop offset="2.2%" stop-color="#321543"/><stop offset="4.4%" stop-color="#33184a"/><stop offset="6.7%" stop-color="#33184a"/><stop offset="8.9%" stop-color="#341b51"/><stop offset="11.1%" stop-color="#341b51"/><stop offset="13.3%" stop-color="#351e58"/><stop offset="15.6%" stop-color="#36215f"/><stop offset="17.8%" stop-color="#372466"/><stop offset="20%" stop-color="#392a73"/><stop offset="22.2%" stop-color="#3b2f80"/><stop offset="24.4%" stop-color="#3e3891"/><stop offset="26.7%" stop-color="#3f3b97"/><stop offset="28.9%" stop-color="#4143a7"/><stop offset="31.1%" stop-color="#434eba"/><stop offset="33.3%" stop-color="#455ccf"/><stop offset="35.6%" stop-color="#4778f0"/><stop offset="37.8%" stop-color="#3ba0fd"/><stop offset="40%" stop-color="#1fc9dd"/><stop offset="42.2%" stop-color="#19e2bb"/><stop offset="44.4%" stop-color="#2ff19b"/><stop offset="46.7%" stop-color="#1de7b2"/><stop offset="48.9%" stop-color="#25c0e7"/><stop offset="51.1%" stop-color="#4687fb"/><stop offset="53.3%" stop-color="#4456c7"/><stop offset="55.6%" stop-color="#3c3286"/><stop offset="57.8%" stop-color="#36215f"/><stop offset="60%" stop-color="#33184a"/><stop offset="62.2%" stop-color="#321543"/><stop offset="64.4%" stop-color="#30123b"/><stop offset="66.7%" stop-color="#30123b"/><stop offset="68.9%" stop-color="#30123b"/><stop offset="71.1%" stop-color="#30123b"/><stop offset="73.3%" stop-color="#30123b"/><stop offset="75.6%" stop-color="#30123b"/><stop offset="77.8%" stop-color="#30123b"/><stop offset="80%" stop-color="#30123b"/><stop offset="82.2%" stop-color="#30123b"/><stop offset="84.4%" stop-color="#30123b"/><stop offset="86.7%" stop-color="#30123b"/><stop offset="88.9%" stop-color="#30123b"/><stop offset="91.1%" stop-color="#30123b"/><stop offset="93.3%" stop-color="#30123b"/><stop offset="95.6%" stop-color="#30123b"/><stop offset="97.8%" stop-color="#30123b"/><stop offset="100%" stop-color="#30123b"/></linearGradient><linearGradient id="r49"><stop offset="0%" stop-color="#321543"/><stop offset="2.2%" stop-color="#321543"/><stop offset="4.4%" stop-color="#321543"/><stop offset="6.7%" stop-color="#321543"/><stop offset="8.9%" stop-color="#33184a"/><stop offset="11.1%" stop-color="#33184a"/><stop offset="13.3%" stop-color="#341b51"/><stop offset="15.6%" stop-color="#351e58"/><stop offset="17.8%" stop-color="#36215f"/><stop offset="20%" stop-color="#372466"/><stop offset="22.2%" stop-color="#392a73"/><stop offset="24.4%" stop-color="#3b2f80"/><stop offset="26.7%" stop-color="#3d358b"/><stop offset="28.9%" stop-color="#3f3e9c"/><stop offset="31.1%" stop-color="#4249b1"/><stop offset="33.3%" stop-color="#4454c3"/><stop offset="35.6%" stop-color="#476ee6"/><stop offset="37.8%" stop-color="#4196ff"/><stop offset="40%" stop-color="#28bceb"/><stop offset="42.2%" stop-color="#19d5cd"/><stop offset="44.4%" stop-color="#1de7b2"/><stop offset="46.7%" stop-color="#18dbc5"/><stop offset="48.9%" stop-color="#31aff5"/><stop offset="51.1%" stop-color="#477bf2"/><stop offset="53.3%" stop-color="#434eba"/><stop offset="55.6%" stop-color="#3b2f80"/><stop offset="57.8%" stop-color="#351e58"/><stop offset="60%" stop-color="#321543"/><stop offset="62.2%" stop-color="#30123b"/><stop offset="64.4%" stop-color="#30123b"/><stop offset="66.7%" stop-color="#30123b"/><stop offset="68.9%" stop-color="#30123b"/><stop offset="71.1%" stop-color="#30123b"/><stop offset="73.3%" stop-color="#30123b"/><stop offset="75.6%" stop-color="#30123b"/><stop offset="77.8%" stop-color="#30123b"/><stop offset="80%" stop-color="#30123b"/><stop offset="82.2%" stop-color="#30123b"/><stop offset="84.4%" stop-color="#30123b"/><stop offset="86.7%" stop-color="#30123b"/><stop offset="88.9%" stop-color="#30123b"/><stop offset="91.1%" stop-color="#30123b"/><stop offset="93.3%" stop-color="#30123b"/><stop offset="95.6%" stop-color="#30123b"/><stop offset="97.8%" stop-color="#30123b"/><stop offset="100%" stop-color="#30123b"/></linearGradient><linearGradient id="r50"><stop offset="0%" stop-color="#30123b"/><stop offset="2.2%" stop-color="#30123b"/><stop offset="4.4%" stop-color="#321543"/><stop offset="6.7%" stop-color="#321543"/><stop offset="8.9%" stop-color="#321543"/><stop offset="11.1%" stop-color="#33184a"/><stop offset="13.3%" stop-color="#33184a"/><stop offset="15.6%" stop-color="#341b51"/><stop offset="17.8%" stop-color="#351e58"/><stop offset="20%" stop-color="#36215f"/><stop offset="22.2%" stop-color="#38276d"/><stop offset="24.4%" stop-color="#3a2d79"/><stop offset="26.7%" stop-color="#3b2f80"/><stop offset="28.9%" stop-color="#3e3891"/><stop offset="31.1%" stop-color="#4143a7"/><stop offset="33.3%" stop-color="#434eba"/><stop offset="35.6%" stop-color="#4666dd"/><stop offset="37.8%" stop-color="#458afc"/><stop offset="40%" stop-color="#31aff5"/><stop offset="42.2%" stop-color="#20c7df"/><stop offset="44.4%" stop-color="#18d9c8"/><stop offset="46.7%" stop-color="#1fc9dd"/><stop offset="48.9%" stop-color="#3d9efe"/><stop offset="51.1%" stop-color="#476ee6"/><stop offset="53.3%" stop-color="#4146ac"/><stop offset="55.6%" stop-color="#392a73"/><stop offset="57.8%" stop-color="#341b51"/><stop offset="60%" stop-color="#321543"/><stop offset="62.2%" stop-color="#30123b"/><stop offset="64.4%" stop-color="#30123b"/><stop offset="66.7%" stop-color="#30123b"/><stop offset="68.9%" stop-color="#30123b"/><stop offset="71.1%" stop-color="#30123b"/><stop offset="73.3%" stop-color="#30123b"/><stop offset="75.6%" stop-color="#30123b"/><stop offset="77.8%" stop-color="#30123b"/><stop offset="80%" stop-color="#30123b"/><stop offset="82.2%" stop-color="#30123b"/><stop offset="84.4%" stop-color="#30123b"/><stop offset="86.7%" stop-color="#30123b"/><stop offset="88.9%" stop-color="#30123b"/><stop offset="91.1%" stop-color="#30123b"/><stop offset="93.3%" stop-color="#30123b"/><stop offset="95.6%" stop-color="#30123b"/><stop offset="97.8%" stop-color="#30123b"/><stop offset="100%" stop-color="#30123b"/></linearGradient><linearGradient id="r51"><stop offset="0%" stop-color="#30123b"/><stop offset="2.2%" stop-color="#30123b"/><stop offset="4.4%" stop-color="#30123b"/><stop offset="6.7%" stop-color="#321543"/><stop offset="8.9%" stop-color="#321543"/><stop offset="11.1%" stop-color="#321543"/><stop offset="13.3%" stop-color="#33184a"/><stop offset="15.6%" stop-color="#341b51"/><stop offset="17.8%" stop-color="#341b51"/><stop offset="20%" stop-color="#351e58"/><stop offset="22.2%" stop-color="#372466"/><stop offset="24.4%" stop-color="#38276d"/><stop offset="26.7%" stop-color="#3a2d79"/><stop offset="28.9%" stop-color="#3c3286"/><stop offset="31.1%" stop-color="#3f3e9c"/><stop offset="33.3%" stop-color="#4249b1"/><stop offset="35.6%" stop-color="#455ed3"/><stop offset="37.8%" stop-color="#4680f6"/><stop offset="40%" stop-color="#3ba0fd"/><stop offset="42.2%" stop-color="#2eb4f2"/><stop offset="44.4%" stop-color="#20c7df"/><stop offset="46.7%" stop-color="#2eb4f2"/><stop offset="48.9%" stop-color="#458cfd"/><stop offset="51.1%" stop-color="#4661d6"/><stop offset="53.3%" stop-color="#3f3e9c"/><stop offset="55.6%" stop-color="#38276d"/><stop offset="57.8%" stop-color="#341b51"/><stop offset="60%" stop-color="#321543"/><stop offset="62.2%" stop-color="#30123b"/><stop offset="64.4%" stop-color="#30123b"/><stop offset="66.7%" stop-color="#30123b"/><stop offset="68.9%" stop-color="#30123b"/><stop offset="71.1%" stop-color="#30123b"/><stop offset="73.3%" stop-color="#30123b"/><stop offset="75.6%" stop-color="#30123b"/><stop offset="77.8%" stop-color="#30123b"/><stop offset="80%" stop-color="#30123b"/><stop offset="82.2%" stop-color="#30123b"/><stop offset="84.4%" stop-color="#30123b"/><stop offset="86.7%" stop-color="#30123b"/><stop offset="88.9%" stop-color="#30123b"/><stop offset="91.1%" stop-color="#30123b"/><stop offset="93.3%" stop-color="#30123b"/><stop offset="95.6%" stop-color="#30123b"/><stop offset="97.8%" stop-color="#30123b"/><stop offset="100%" stop-color="#30123b"/></linearGradient><linearGradient id="r52"><stop offset="0%" stop-color="#30123b"/><stop offset="2.2%" stop-color="#30123b"/><stop offset="4.4%" stop-color="#30123b"/><stop offset="6.7%" stop-color="#30123b"/><stop offset="8.9%" stop-color="#321543"/><stop offset="11.1%" stop-color="#321543"/><stop offset="13.3%" stop-color="#33184a"/><stop offset="15.6%" stop-color="#33184a"/><stop offset="17.8%" stop-color="#341b51"/><stop offset="20%" stop-color="#351e58"/><stop offset="22.2%" stop-color="#36215f"/><stop offset="24.4%" stop-color="#372466"/><stop offset="26.7%" stop-color="#392a73"/><stop offset="28.9%" stop-color="#3b2f80"/><stop offset="31.1%" stop-color="#3e3891"/><stop offset="33.3%" stop-color="#4143a7"/><stop offset="35.6%" stop-color="#4456c7"/><stop offset="37.8%" stop-color="#4776ee"/><stop offset="40%" stop-color="#4391fe"/><stop offset="42.2%" stop-color="#3aa3fc"/><stop offset="44.4%" stop-color="#2eb4f2"/><stop offset="46.7%" stop-color="#3d9efe"/><stop offset="48.9%" stop-color="#477bf2"/><stop offset="51.1%" stop-color="#4454c3"/><stop offset="53.3%" stop-color="#3d358b"/><stop offset="55.6%" stop-color="#36215f"/><stop offset="57.8%" stop-color="#33184a"/><stop offset="60%" stop-color="#321543"/><stop offset="62.2%" stop-color="#30123b"/><stop offset="64.4%" stop-color="#30123b"/><stop offset="66.7%" stop-color="#30123b"/><stop offset="68.9%" stop-color="#30123b"/><stop offset="71.1%" stop-color="#30123b"/><stop offset="73.3%" stop-color="#30123b"/><stop offset="75.6%" stop-color="#30123b"/><stop offset="77.8%" stop-color="#30123b"/><stop offset="80%" stop-color="#30123b"/><stop offset="82.2%" stop-color="#30123b"/><stop offset="84.4%" stop-color="#30123b"/><stop offset="86.7%" stop-color="#30123b"/><stop offset="88.9%" stop-color="#30123b"/><stop offset="91.1%" stop-color="#30123b"/><stop offset="93.3%" stop-color="#30123b"/><stop offset="95.6%" stop-color="#30123b"/><stop offset="97.8%" stop-color="#30123b"/><stop offset="100%" stop-color="#30123b"/></linearGradient><linearGradient id="r53"><stop offset="0%" stop-color="#30123b"/><stop offset="2.2%" stop-color="#30123b"/><stop offset="4.4%" stop-color="#30123b"/><stop offset="6.7%" stop-color="#30123b"/><stop offset="8.9%" stop-color="#321543"/><stop offset="11.1%" stop-color="#321543"/><stop offset="13.3%" stop-color="#321543"/><stop offset="15.6%" stop-color="#33184a"/><stop offset="17.8%" stop-color="#33184a"/><stop offset="20%" stop-color="#341b51"/><stop offset="22.2%" stop-color="#351e58"/><stop offset="24.4%" stop-color="#36215f"/><stop offset="26.7%" stop-color="#38276d"/><stop offset="28.9%" stop-color="#392a73"/><stop offset="31.1%" stop-color="#3c3286"/><stop offset="33.3%" stop-color="#3f3e9c"/><stop offset="35.6%" stop-color="#434eba"/><stop offset="37.8%" stop-color="#4669e0"/><stop offset="40%" stop-color="#4680f6"/><stop offset="42.2%" stop-color="#448ffe"/><stop offset="44.4%" stop-color="#3d9efe"/><stop offset="46.7%" stop-color="#4687fb"/><stop offset="48.9%" stop-color="#4669e0"/><stop offset="51.1%" stop-color="#4146ac"/><stop offset="53.3%" stop-color="#3a2d79"/><stop offset="55.6%" stop-color="#351e58"/><stop offset="57.8%" stop-color="#321543"/><stop offset="60%" stop-color="#30123b"/><stop offset="62.2%" stop-color="#30123b"/><stop offset="64.4%" stop-color="#30123b"/><stop offset="66.7%" stop-color="#30123b"/><stop offset="68.9%" stop-color="#30123b"/><stop offset="71.1%" stop-color="#30123b"/><stop offset="73.3%" stop-color="#30123b"/><stop offset="75.6%" stop-color="#30123b"/><stop offset="77.8%" stop-color="#30123b"/><stop offset="80%" stop-color="#30123b"/><stop offset="82.2%" stop-color="#30123b"/><stop offset="84.4%" stop-color="#30123b"/><stop offset="86.7%" stop-color="#30123b"/><stop offset="88.9%" stop-color="#30123b"/><stop offset="91.1%" stop-color="#30123b"/><stop offset="93.3%" stop-color="#30123b"/><stop offset="95.6%" stop-color="#30123b"/><stop offset="97.8%" stop-color="#30123b"/><stop offset="100%" stop-color="#30123b"/></linearGradient><linearGradient id="r54"><stop offset="0%" stop-color="#30123b"/><stop offset="2.2%" stop-color="#30123b"/><stop offset="4.4%" stop-color="#30123b"/><stop offset="6.7%" stop-color="#30123b"/><stop offset="8.9%" stop-color="#30123b"/><stop offset="11.1%" stop-color="#321543"/><stop offset="13.3%" stop-color="#321543"/><stop offset="15.6%" stop-color="#33184a"/><stop offset="17.8%" stop-color="#33184a"/><stop offset="20%" stop-color="#341b51"/><stop offset="22.2%" stop-color="#351e58"/><stop offset="24.4%" stop-color="#36215f"/><stop offset="26.7%" stop-color="#36215f"/><stop offset="28.9%" stop-color="#38276d"/><stop offset="31.1%" stop-color="#3b2f80"/><stop offset="33.3%" stop-color="#3d358b"/><stop offset="35.6%" stop-color="#4143a7"/><stop offset="37.8%" stop-color="#4559cb"/><stop offset="40%" stop-color="#466be3"/><stop offset="42.2%" stop-color="#4778f0"/><stop offset="44.4%" stop-color="#4682f8"/><stop offset="46.7%" stop-color="#4773eb"/><stop offset="48.9%" stop-color="#4559cb"/><stop offset="51.1%" stop-color="#3f3b97"/><stop offset="53.3%" stop-color="#38276d"/><stop offset="55.6%" stop-color="#341b51"/><stop offset="57.8%" stop-color="#321543"/><stop offset="60%" stop-color="#30123b"/><stop offset="62.2%" stop-color="#30123b"/><stop offset="64.4%" stop-color="#30123b"/><stop offset="66.7%" stop-color="#30123b"/><stop offset="68.9%" stop-color="#30123b"/><stop offset="71.1%" stop-color="#30123b"/><stop offset="73.3%" stop-color="#30123b"/><stop offset="75.6%" stop-color="#30123b"/><stop offset="77.8%" stop-color="#30123b"/><stop offset="80%" stop-color="#30123b"/><stop offset="82.2%" stop-color="#30123b"/><stop offset="84.4%" stop-color="#30123b"/><stop offset="86.7%" stop-color="#30123b"/><stop offset="88.9%" stop-color="#30123b"/><stop offset="91.1%" stop-color="#30123b"/><stop offset="93.3%" stop-color="#30123b"/><stop offset="95.6%" stop-color="#30123b"/><stop offset="97.8%" stop-color="#30123b"/><stop offset="100%" stop-color="#30123b"/></linearGradient><linearGradient id="r55"><stop offset="0%" stop-color="#30123b"/><stop offset="2.2%" stop-color="#30123b"/><stop offset="4.4%" stop-color="#30123b"/><stop offset="6.7%" stop-color="#30123b"/><stop offset="8.9%" stop-color="#30123b"/><stop offset="11.1%" stop-color="#321543"/><stop offset="13.3%" stop-color="#321543"/><stop offset="15.6%" stop-color="#321543"/><stop offset="17.8%" stop-color="#33184a"/><stop offset="20%" stop-color="#33184a"/><stop offset="22.2%" stop-color="#341b51"/><stop offset="24.4%" stop-color="#351e58"/><stop offset="26.7%" stop-color="#351e58"/><stop offset="28.9%" stop-color="#372466"/><stop offset="31.1%" stop-color="#392a73"/><stop offset="33.3%" stop-color="#3b2f80"/><stop offset="35.6%" stop-color="#3f3b97"/><stop offset="37.8%" stop-color="#424bb5"/><stop offset="40%" stop-color="#4559cb"/><stop offset="42.2%" stop-color="#4664da"/><stop offset="44.4%" stop-color="#476ee6"/><stop offset="46.7%" stop-color="#455ed3"/><stop offset="48.9%" stop-color="#4249b1"/><stop offset="51.1%" stop-color="#3c3286"/><stop offset="53.3%" stop-color="#36215f"/><stop offset="55.6%" stop-color="#33184a"/><stop offset="57.8%" stop-color="#321543"/><stop offset="60%" stop-color="#30123b"/><stop offset="62.2%" stop-color="#30123b"/><stop offset="64.4%" stop-color="#30123b"/><stop offset="66.7%" stop-color="#30123b"/><stop offset="68.9%" stop-color="#30123b"/><stop offset="71.1%" stop-color="#30123b"/><stop offset="73.3%" stop-color="#30123b"/><stop offset="75.6%" stop-color="#30123b"/><stop offset="77.8%" stop-color="#30123b"/><stop offset="80%" stop-color="#30123b"/><stop offset="82.2%" stop-color="#30123b"/><stop offset="84.4%" stop-color="#30123b"/><stop offset="86.7%" stop-color="#30123b"/><stop offset="88.9%" stop-color="#30123b"/><stop offset="91.1%" stop-color="#30123b"/><stop offset="93.3%" stop-color="#30123b"/><stop offset="95.6%" stop-color="#30123b"/><stop offset="97.8%" stop-color="#30123b"/><stop offset="100%" stop-color="#30123b"/></linearGradient><linearGradient id="r56"><stop offset="0%" stop-color="#30123b"/><stop offset="2.2%" stop-color="#30123b"/><stop offset="4.4%" stop-color="#30123b"/><stop offset="6.7%" stop-color="#30123b"/><stop offset="8.9%" stop-color="#30123b"/><stop offset="11.1%" stop-color="#30123b"/><stop offset="13.3%" stop-color="#321543"/><stop offset="15.6%" stop-color="#321543"/><stop offset="17.8%" stop-color="#321543"/><stop offset="20%" stop-color="#321543"/><stop offset="22.2%" stop-color="#33184a"/><stop offset="24.4%" stop-color="#341b51"/><stop offset="26.7%" stop-color="#341b51"/><stop offset="28.9%" stop-color="#351e58"/><stop offset="31.1%" stop-color="#372466"/><stop offset="33.3%" stop-color="#392a73"/><stop offset="35.6%" stop-color="#3b2f80"/><stop offset="37.8%" stop-color="#3f3e9c"/><stop offset="40%" stop-color="#4249b1"/><stop offset="42.2%" stop-color="#434eba"/><stop offset="44.4%" stop-color="#4456c7"/><stop offset="46.7%" stop-color="#424bb5"/><stop offset="48.9%" stop-color="#3f3b97"/><stop offset="51.1%" stop-color="#392a73"/><stop offset="53.3%" stop-color="#351e58"/><stop offset="55.6%" stop-color="#33184a"/><stop offset="57.8%" stop-color="#30123b"/><stop offset="60%" stop-color="#30123b"/><stop offset="62.2%" stop-color="#30123b"/><stop offset="64.4%" stop-color="#30123b"/><stop offset="66.7%" stop-color="#30123b"/><stop offset="68.9%" stop-color="#30123b"/><stop offset="71.1%" stop-color="#30123b"/><stop offset="73.3%" stop-color="#30123b"/><stop offset="75.6%" stop-color="#30123b"/><stop offset="77.8%" stop-color="#30123b"/><stop offset="80%" stop-color="#30123b"/><stop offset="82.2%" stop-color="#30123b"/><stop offset="84.4%" stop-color="#30123b"/><stop offset="86.7%" stop-color="#30123b"/><stop offset="88.9%" stop-color="#30123b"/><stop offset="91.1%" stop-color="#30123b"/><stop offset="93.3%" stop-color="#30123b"/><stop offset="95.6%" stop-color="#30123b"/><stop offset="97.8%" stop-color="#30123b"/><stop offset="100%" stop-color="#30123b"/></linearGradient><linearGradient id="r57"><stop offset="0%" stop-color="#30123b"/><stop offset="2.2%" stop-color="#30123b"/><stop offset="4.4%" stop-color="#30123b"/><stop offset="6.7%" stop-color="#30123b"/><stop offset="8.9%" stop-color="#30123b"/><stop offset="11.1%" stop-color="#30123b"/><stop offset="13.3%" stop-color="#30123b"/><stop offset="15.6%" stop-color="#30123b"/><stop offset="17.8%" stop-color="#321543"/><stop offset="20%" stop-color="#321543"/><stop offset="22.2%" stop-color="#321543"/><stop offset="24.4%" stop-color="#33184a"/><stop offset="26.7%" stop-color="#33184a"/><stop offset="28.9%" stop-color="#341b51"/><stop offset="31.1%" stop-color="#351e58"/><stop offset="33.3%" stop-color="#36215f"/><stop offset="35.6%" stop-color="#38276d"/><stop offset="37.8%" stop-color="#3b2f80"/><stop offset="40%" stop-color="#3d358b"/><stop offset="42.2%" stop-color="#3e3891"/><stop offset="44.4%" stop-color="#3f3e9c"/><stop offset="46.7%" stop-color="#3d358b"/><stop offset="48.9%" stop-color="#3a2d79"/><stop offset="51.1%" stop-color="#36215f"/><stop offset="53.3%" stop-color="#33184a"/><stop offset="55.6%" stop-color="#321543"/><stop offset="57.8%" stop-color="#30123b"/><stop offset="60%" stop-color="#30123b"/><stop offset="62.2%" stop-color="#30123b"/><stop offset="64.4%" stop-color="#30123b"/><stop offset="66.7%" stop-color="#30123b"/><stop offset="68.9%" stop-color="#30123b"/><stop offset="71.1%" stop-color="#30123b"/><stop offset="73.3%" stop-color="#30123b"/><stop offset="75.6%" stop-color="#30123b"/><stop offset="77.8%" stop-color="#30123b"/><stop offset="80%" stop-color="#30123b"/><stop offset="82.2%" stop-color="#30123b"/><stop offset="84.4%" stop-color="#30123b"/><stop offset="86.7%" stop-color="#30123b"/><stop offset="88.9%" stop-color="#30123b"/><stop offset="91.1%" stop-color="#30123b"/><stop offset="93.3%" stop-color="#30123b"/><stop offset="95.6%" stop-color="#30123b"/><stop offset="97.8%" stop-color="#30123b"/><stop offset="100%" stop-color="#30123b"/></linearGradient><linearGradient id="r58"><stop offset="0%" stop-color="#30123b"/><stop offset="2.2%" stop-color="#30123b"/><stop offset="4.4%" stop-color="#30123b"/><stop offset="6.7%" stop-color="#30123b"/><stop offset="8.9%" stop-color="#30123b"/><stop offset="11.1%" stop-color="#30123b"/><stop offset="13.3%" stop-color="#30123b"/><stop offset="15.6%" stop-color="#30123b"/><stop offset="17.8%" stop-color="#30123b"/><stop offset="20%" stop-color="#30123b"/><stop offset="22.2%" stop-color="#321543"/><stop offset="24.4%" stop-color="#321543"/><stop offset="26.7%" stop-color="#321543"/><stop offset="28.9%" stop-color="#33184a"/><stop offset="31.1%" stop-color="#33184a"/><stop offset="33.3%" stop-color="#341b51"/><stop offset="35.6%" stop-color="#351e58"/><stop offset="37.8%" stop-color="#36215f"/><stop offset="40%" stop-color="#372466"/><stop offset="42.2%" stop-color="#38276d"/><stop offset="44.4%" stop-color="#392a73"/><stop offset="46.7%" stop-color="#372466"/><stop offset="48.9%" stop-color="#351e58"/><stop offset="51.1%" stop-color="#33184a"/><stop offset="53.3%" stop-color="#321543"/><stop offset="55.6%" stop-color="#30123b"/><stop offset="57.8%" stop-color="#30123b"/><stop offset="60%" stop-color="#30123b"/><stop offset="62.2%" stop-color="#30123b"/><stop offset="64.4%" stop-color="#30123b"/><stop offset="66.7%" stop-color="#30123b"/><stop offset="68.9%" stop-color="#30123b"/><stop offset="71.1%" stop-color="#30123b"/><stop offset="73.3%" stop-color="#30123b"/><stop offset="75.6%" stop-color="#30123b"/><stop offset="77.8%" stop-color="#30123b"/><stop offset="80%" stop-color="#30123b"/><stop offset="82.2%" stop-color="#30123b"/><stop offset="84.4%" stop-color="#30123b"/><stop offset="86.7%" stop-color="#30123b"/><stop offset="88.9%" stop-color="#30123b"/><stop offset="91.1%" stop-color="#30123b"/><stop offset="93.3%" stop-color="#30123b"/><stop offset="95.6%" stop-color="#30123b"/><stop offset="97.8%" stop-color="#30123b"/><stop offset="100%" stop-color="#30123b"/></linearGradient><linearGradient id="r59"><stop offset="0%" stop-color="#30123b"/><stop offset="2.2%" stop-color="#30123b"/><stop offset="4.4%" stop-color="#30123b"/><stop offset="6.7%" stop-color="#30123b"/><stop offset="8.9%" stop-color="#30123b"/><stop offset="11.1%" stop-color="#30123b"/><stop offset="13.3%" stop-color="#30123b"/><stop offset="15.6%" stop-color="#30123b"/><stop offset="17.8%" stop-color="#30123b"/><stop offset="20%" stop-color="#30123b"/><stop offset="22.2%" stop-color="#30123b"/><stop offset="24.4%" stop-color="#30123b"/><stop offset="26.7%" stop-color="#30123b"/><stop offset="28.9%" stop-color="#30123b"/><stop offset="31.1%" stop-color="#30123b"/><stop offset="33.3%" stop-color="#321543"/><stop offset="35.6%" stop-color="#321543"/><stop offset="37.8%" stop-color="#321543"/><stop offset="40%" stop-color="#33184a"/><stop offset="42.2%" stop-color="#33184a"/><stop offset="44.4%" stop-color="#33184a"/><stop offset="46.7%" stop-color="#33184a"/><stop offset="48.9%" stop-color="#321543"/><stop offset="51.1%" stop-color="#30123b"/><stop offset="53.3%" stop-color="#30123b"/><stop offset="55.6%" stop-color="#30123b"/><stop offset="57.8%" stop-color="#30123b"/><stop offset="60%" stop-color="#30123b"/><stop offset="62.2%" stop-color="#30123b"/><stop offset="64.4%" stop-color="#30123b"/><stop offset="66.7%" stop-color="#30123b"/><stop offset="68.9%" stop-color="#30123b"/><stop offset="71.1%" stop-color="#30123b"/><stop offset="73.3%" stop-color="#30123b"/><stop offset="75.6%" stop-color="#30123b"/><stop offset="77.8%" stop-color="#30123b"/><stop offset="80%" stop-color="#30123b"/><stop offset="82.2%" stop-color="#30123b"/><stop offset="84.4%" stop-color="#30123b"/><stop offset="86.7%" stop-color="#30123b"/><stop offset="88.9%" stop-color="#30123b"/><stop offset="91.1%" stop-color="#30123b"/><stop offset="93.3%" stop-color="#30123b"/><stop offset="95.6%" stop-color="#30123b"/><stop offset="97.8%" stop-color="#30123b"/><stop offset="100%" stop-color="#30123b"/></linearGradient><linearGradient id="cb"><stop offset="0%" stop-color="#30123b"/><stop offset="2%" stop-color="#372466"/><stop offset="5%" stop-color="#3d358b"/><stop offset="7%" stop-color="#4249b1"/><stop offset="10%" stop-color="#4559cb"/><stop offset="12%" stop-color="#466be3"/><stop offset="15%" stop-color="#477bf2"/><stop offset="17%" stop-color="#458afc"/><stop offset="20%" stop-color="#3e9bfe"/><stop offset="22%" stop-color="#35abf8"/><stop offset="25%" stop-color="#28bceb"/><stop offset="27%" stop-color="#1fc9dd"/><stop offset="30%" stop-color="#19d5cd"/><stop offset="32%" stop-color="#19e2bb"/><stop offset="35%" stop-color="#20eaac"/><stop offset="37%" stop-color="#32f298"/><stop offset="40%" stop-color="#46f884"/><stop offset="42%" stop-color="#5dfc6f"/><stop offset="45%" stop-color="#79fe59"/><stop offset="47%" stop-color="#8fff49"/><stop offset="50%" stop-color="#a4fc3c"/><stop offset="52%" stop-color="#b4f836"/><stop offset="55%" stop-color="#c3f134"/><stop offset="57%" stop-color="#d4e735"/><stop offset="60%" stop-color="#e1dd37"/><stop offset="62%" stop-color="#eecf3a"/><stop offset="65%" stop-color="#f6c33a"/><stop offset="67%" stop-color="#fbb637"/><stop offset="70%" stop-color="#fea431"/><stop offset="72%" stop-color="#fe932a"/><stop offset="75%" stop-color="#fb7e21"/><stop offset="77%" stop-color="#f66c19"/><stop offset="80%" stop-color="#f05b12"/><stop offset="82%" stop-color="#e7490c"/><stop offset="85%" stop-color="#dd3d08"/><stop offset="87%" stop-color="#d02f05"/><stop offset="90%" stop-color="#c32503"/><stop offset="92%" stop-color="#b41b01"/><stop offset="95%" stop-color="#a11201"/><stop offset="97%" stop-color="#8e0a01"/><stop offset="100%" stop-color="#7a0403"/></linearGradient></defs>
<rect x="315.5" y="149.2" width="441.5" height="460.8" fill="#3b2f80"/>
<rect x="315.5" y="149.2" width="441.5" height="6.7" fill="url(#r0)"/>
<rect x="315.5" y="153.4" width="441.5" height="52.6" fill="url(#r1)"/>
<rect x="315.5" y="203.5" width="441.5" height="54.2" fill="url(#r2)"/>
<rect x="315.5" y="255.2" width="441.5" height="53.5" fill="url(#r3)"/>
<rect x="315.5" y="306.2" width="441.5" height="53.4" fill="url(#r4)"/>
<rect x="315.5" y="357.1" width="441.5" height="7.1" fill="url(#r5)"/>
<rect x="315.5" y="361.7" width="441.5" height="7.1" fill="url(#r6)"/>
<rect x="315.5" y="366.3" width="441.5" height="7.1" fill="url(#r7)"/>
<rect x="315.5" y="370.9" width="441.5" height="7.1" fill="url(#r8)"/>
<rect x="315.5" y="375.5" width="441.5" height="7.1" fill="url(#r9)"/>
<rect x="315.5" y="380.1" width="441.5" height="7.1" fill="url(#r10)"/>
<rect x="315.5" y="384.7" width="441.5" height="7.1" fill="url(#r11)"/>
<rect x="315.5" y="389.3" width="441.5" height="7.1" fill="url(#r12)"/>
<rect x="315.5" y="393.9" width="441.5" height="7.1" fill="url(#r13)"/>
<rect x="315.5" y="398.5" width="441.5" height="7.1" fill="url(#r14)"/>
<rect x="315.5" y="403.2" width="441.5" height="7.1" fill="url(#r15)"/>
<rect x="315.5" y="407.8" width="441.5" height="7.1" fill="url(#r16)"/>
<rect x="315.5" y="412.4" width="441.5" height="7.1" fill="url(#r17)"/>
<rect x="315.5" y="417" width="441.5" height="7.1" fill="url(#r18)"/>
<rect x="315.5" y="421.6" width="441.5" height="7.1" fill="url(#r19)"/>
<rect x="315.5" y="426.2" width="441.5" height="7.1" fill="url(#r20)"/>
<rect x="315.5" y="430.8" width="441.5" height="7.1" fill="url(#r21)"/>
<rect x="315.5" y="435.4" width="441.5" height="7.1" fill="url(#r22)"/>
<rect x="315.5" y="440" width="441.5" height="7.1" fill="url(#r23)"/>
<rect x="315.5" y="444.6" width="441.5" height="7.1" fill="url(#r24)"/>
<rect x="315.5" y="449.2" width="441.5" height="7.1" fill="url(#r25)"/>
<rect x="315.5" y="453.8" width="441.5" height="7.1" fill="url(#r26)"/>
<rect x="315.5" y="458.4" width="441.5" height="7.1" fill="url(#r27)"/>
<rect x="315.5" y="463" width="441.5" height="7.1" fill="url(#r28)"/>
<rect x="315.5" y="467.6" width="441.5" height="7.1" fill="url(#r29)"/>
<rect x="315.5" y="472.2" width="441.5" height="7.1" fill="url(#r30)"/>
<rect x="315.5" y="476.8" width="441.5" height="7.1" fill="url(#r31)"/>
<rect x="315.5" y="481.4" width="441.5" height="7.1" fill="url(#r32)"/>
<rect x="315.5" y="486" width="441.5" height="7.1" fill="url(#r33)"/>
<rect x="315.5" y="490.6" width="441.5" height="7.1" fill="url(#r34)"/>
<rect x="315.5" y="495.3" width="441.5" height="7.1" fill="url(#r35)"/>
<rect x="315.5" y="499.9" width="441.5" height="7.1" fill="url(#r36)"/>
<rect x="315.5" y="504.5" width="441.5" height="7.1" fill="url(#r37)"/>
<rect x="315.5" y="509.1" width="441.5" height="7.1" fill="url(#r38)"/>
<rect x="315.5" y="513.7" width="441.5" height="7.1" fill="url(#r39)"/>
<rect x="315.5" y="518.3" width="441.5" height="7.1" fill="url(#r40)"/>
<rect x="315.5" y="522.9" width="441.5" height="7.1" fill="url(#r41)"/>
<rect x="315.5" y="527.5" width="441.5" height="7.1" fill="url(#r42)"/>
<rect x="315.5" y="532.1" width="441.5" height="7.1" fill="url(#r43)"/>
<rect x="315.5" y="536.7" width="441.5" height="7.1" fill="url(#r44)"/>
<rect x="315.5" y="541.3" width="441.5" height="7.1" fill="url(#r45)"/>
<rect x="315.5" y="545.9" width="441.5" height="7.1" fill="url(#r46)"/>
<rect x="315.5" y="550.5" width="441.5" height="7.1" fill="url(#r47)"/>
<rect x="315.5" y="555.1" width="441.5" height="7.1" fill="url(#r48)"/>
<rect x="315.5" y="559.7" width="441.5" height="7.1" fill="url(#r49)"/>
<rect x="315.5" y="564.3" width="441.5" height="7.1" fill="url(#r50)"/>
<rect x="315.5" y="568.9" width="441.5" height="7.1" fill="url(#r51)"/>
<rect x="315.5" y="573.5" width="441.5" height="7.1" fill="url(#r52)"/>
<rect x="315.5" y="578.1" width="441.5" height="7.1" fill="url(#r53)"/>
<rect x="315.5" y="582.7" width="441.5" height="7.1" fill="url(#r54)"/>
<rect x="315.5" y="587.4" width="441.5" height="7.1" fill="url(#r55)"/>
<rect x="315.5" y="592" width="441.5" height="7.1" fill="url(#r56)"/>
<rect x="315.5" y="596.6" width="441.5" height="7.1" fill="url(#r57)"/>
<rect x="315.5" y="601.2" width="441.5" height="7.1" fill="url(#r58)"/>
<rect x="315.5" y="605.8" width="441.5" height="4.2" fill="url(#r59)"/>
<rect x="315.5" y="149.2" width="441.5" height="460.8" fill="none" stroke="#262626" stroke-width="1.7"/>
<path d="M438.1 610v-5 M438.1 149.2v5 M511.7 610v-5 M511.7 149.2v5 M634.4 610v-5 M634.4 149.2v5 M315.5 520.1h5 M757 520.1h-5 M315.5 428h5 M757 428h-5 M315.5 335.9h5 M757 335.9h-5 M315.5 243.8h5 M757 243.8h-5 M315.5 151.7h5 M757 151.7h-5" stroke="#262626" stroke-width="1.2" fill="none"/>
<line x1="443" y1="153.5" x2="443" y2="610" stroke="#1a1a1a" stroke-width="3.8" stroke-dasharray="1.9 6.22"/>
<line x1="511.2" y1="153.5" x2="511.2" y2="610" stroke="#1a1a1a" stroke-width="3.8" stroke-dasharray="1.9 6.22"/>
<line x1="317" y1="445.5" x2="757" y2="445.5" stroke="#efefef" stroke-width="1.9" stroke-dasharray="1.9 6.22"/>
<text transform="translate(315.5 652.4) scale(0.957 1)" font-size="31.35" text-anchor="middle" font-weight="normal" fill="#262626">1370</text>
<text transform="translate(438.1 652.4) scale(0.957 1)" font-size="31.35" text-anchor="middle" font-weight="normal" fill="#262626">1395</text>
<text transform="translate(511.7 652.4) scale(0.957 1)" font-size="31.35" text-anchor="middle" font-weight="normal" fill="#262626">1410</text>
<text transform="translate(634.4 652.4) scale(0.957 1)" font-size="31.35" text-anchor="middle" font-weight="normal" fill="#262626">1435</text>
<text transform="translate(757 652.4) scale(0.957 1)" font-size="31.35" text-anchor="middle" font-weight="normal" fill="#262626">1460</text>
<text transform="translate(304.4 531.7) scale(0.957 1)" font-size="31.35" text-anchor="end" font-weight="normal" fill="#262626">20</text>
<text transform="translate(304.4 439.6) scale(0.957 1)" font-size="31.35" text-anchor="end" font-weight="normal" fill="#262626">40</text>
<text transform="translate(304.4 347.5) scale(0.957 1)" font-size="31.35" text-anchor="end" font-weight="normal" fill="#262626">60</text>
<text transform="translate(304.4 255.4) scale(0.957 1)" font-size="31.35" text-anchor="end" font-weight="normal" fill="#262626">80</text>
<text transform="translate(304.4 163.3) scale(0.957 1)" font-size="31.35" text-anchor="end" font-weight="normal" fill="#262626">100</text>
<text transform="translate(545.8 707) scale(0.957 1)" font-size="30.83" text-anchor="middle" font-weight="normal" fill="#000">Energy (meV)</text>
<text transform="translate(247 385.7) rotate(-90) scale(0.957 1)" font-size="30.57" text-anchor="middle" font-weight="normal" fill="#000">CW Excitation Power (uW)</text>
<text transform="translate(372.3 510.3) scale(0.920 1)" font-size="29.4" text-anchor="start" font-weight="normal" fill="#fff">IX<tspan font-size="20.5" dy="7.5">d</tspan></text>
<text transform="translate(555.3 510.3) scale(0.920 1)" font-size="29.4" text-anchor="start" font-weight="normal" fill="#fff">IX</text>
<text transform="translate(698 423.3) scale(0.900 1)" font-size="29.4" text-anchor="start" font-weight="normal" fill="#fff">IXX</text>
<rect x="386.6" y="114.3" width="287.2" height="20.8" fill="url(#cb)" stroke="#262626" stroke-width="1.3"/>
<path d="M530.2 114.3v3" stroke="#262626" stroke-width="1"/>
<text transform="translate(386.1 101.3) scale(0.957 1)" font-size="16.2" text-anchor="middle" font-weight="normal" fill="#262626">0</text>
<text transform="translate(529.7 101.3) scale(0.957 1)" font-size="16.2" text-anchor="middle" font-weight="normal" fill="#262626">500</text>
<text transform="translate(673.3 101.3) scale(0.957 1)" font-size="16.2" text-anchor="middle" font-weight="normal" fill="#262626">1000</text>
<text transform="translate(529.3 73.8) scale(0.957 1)" font-size="30.62" text-anchor="middle" font-weight="normal" fill="#000">Intensity (a.u.)</text>
<text transform="translate(162.2 78.9)" font-size="32.5" text-anchor="start" font-weight="bold" fill="#000">a</text>
<rect x="972.4" y="144.8" width="438" height="462" fill="#fff" stroke="none"/>
<line x1="1125.7" y1="150.8" x2="1125.7" y2="606.8" stroke="#555" stroke-width="1.7" stroke-dasharray="1.7 6.0"/>
<line x1="1191.4" y1="150.8" x2="1191.4" y2="606.8" stroke="#555" stroke-width="1.7" stroke-dasharray="1.7 6.0"/>
<path d="M972.4 604.3 973.9 604.7 975.5 604.6 977 604.8 978.5 605 980.1 604.9 981.6 605.3 983.1 605.2 984.7 604.9 986.2 605.2 987.7 605.4 989.3 605.3 990.8 605.3 992.3 605.5 993.9 605.7 995.4 605.6 996.9 605.4 998.5 605.5 1000 605.8 1001.5 605.6 1003.1 605.4 1004.6 605.7 1006.1 605.5 1007.7 605.4 1009.2 605.9 1010.7 606 1012.3 606.1 1013.8 605.9 1015.3 605.7 1016.9 605.9 1018.4 605.7 1019.9 605.8 1021.5 605.9 1023 605.9 1024.5 606.1 1026.1 605.9 1027.6 605.6 1029.1 605.1 1030.7 605.3 1032.2 605.4 1033.7 605.3 1035.3 605.3 1036.8 605.3 1038.3 605.6 1039.9 605.7 1041.4 605.3 1042.9 604.7 1044.5 604.6 1046 605 1047.5 604.6 1049 604.5 1050.6 604.6 1052.1 604.5 1053.6 604.4 1055.2 604.4 1056.7 604.4 1058.2 604.1 1059.8 603.8 1061.3 603.5 1062.8 603.4 1064.4 603.7 1065.9 603.5 1067.4 602.8 1069 602.7 1070.5 602.9 1072 602.9 1073.6 602.8 1075.1 602.5 1076.6 602.3 1078.2 601.8 1079.7 601.5 1081.2 601.5 1082.8 601 1084.3 600.6 1085.8 600.6 1087.4 600.6 1088.9 600.2 1090.4 600.1 1092 600.3 1093.5 599.9 1095 599.1 1096.6 598.8 1098.1 598.8 1099.6 598.5 1101.2 598.1 1102.7 597.6 1104.2 596.8 1105.8 596 1107.3 595.7 1108.8 595.4 1110.4 595 1111.9 594.7 1113.4 594.5 1115 594.3 1116.5 593.9 1118 592.9 1119.6 592.3 1121.1 592.5 1122.6 592.3 1124.2 592 1125.7 591.2 1127.2 590.2 1128.8 589.7 1130.3 588.7 1131.8 587.5 1133.4 586.2 1134.9 585 1136.4 583.9 1138 582.9 1139.5 582.3 1141 581.1 1142.6 579.6 1144.1 578.5 1145.6 578.2 1147.2 577.2 1148.7 575.8 1150.2 574.7 1151.8 573.3 1153.3 571 1154.8 569 1156.4 567.7 1157.9 565.4 1159.4 562.8 1161 560.5 1162.5 557.7 1164 555 1165.6 552.7 1167.1 550.4 1168.6 548.3 1170.2 546.8 1171.7 545 1173.2 543.3 1174.8 541.5 1176.3 540.3 1177.8 539.8 1179.4 538.1 1180.9 536.5 1182.4 535.6 1184 533.2 1185.5 530.9 1187 528.9 1188.6 526.7 1190.1 525.7 1191.6 526.1 1193.2 527.1 1194.7 528.5 1196.2 530.6 1197.8 533.3 1199.3 536.7 1200.8 539.9 1202.3 543.1 1203.9 546.5 1205.4 549.2 1206.9 552.4 1208.5 555.8 1210 560.6 1211.5 564.8 1213.1 567.8 1214.6 571.2 1216.1 575.1 1217.7 578.3 1219.2 580.5 1220.7 583.6 1222.3 586.5 1223.8 588.2 1225.3 590.6 1226.9 592.6 1228.4 594.5 1229.9 596.3 1231.5 597.7 1233 598.7 1234.5 599.6 1236.1 600.4 1237.6 601.4 1239.1 602.3 1240.7 602.6 1242.2 603 1243.7 603.9 1245.3 604.3 1246.8 604.5 1248.3 604.8 1249.9 605 1251.4 605.1 1252.9 605.3 1254.5 605.9 1256 606.3 1257.5 606.1 1259.1 606.1 1260.6 606.1 1262.1 606.1 1263.7 606.4 1265.2 606.4 1266.7 606.4 1268.3 606.8 1269.8 606.5 1271.3 606.5 1272.9 606.7 1274.4 606.4 1275.9 606.4 1277.5 606.8 1279 606.7 1280.5 606.7 1282.1 606.8 1283.6 606.8 1285.1 606.6 1286.7 606.5 1288.2 606.5 1289.7 606.6 1291.3 606.8 1292.8 606.8 1294.3 606.8 1295.9 606.7 1297.4 606.7 1298.9 606.7 1300.5 606.7 1302 606.8 1303.5 606.8 1305.1 606.7 1306.6 606.7 1308.1 606.6 1309.7 606.5 1311.2 606.6 1312.7 606.8 1314.3 606.8 1315.8 606.8 1317.3 606.7 1318.9 606.8 1320.4 606.8 1321.9 606.7 1323.5 606.7 1325 606.8 1326.5 606.7 1328.1 606.7 1329.6 606.7 1331.1 606.6 1332.7 606.5 1334.2 606.7 1335.7 606.8 1337.3 606.8 1338.8 606.8 1340.3 606.8 1341.9 606.8 1343.4 606.7 1344.9 606.7 1346.5 606.8 1348 606.8 1349.5 606.7 1351.1 606.8 1352.6 606.8 1354.1 606.8 1355.6 606.8 1357.2 606.8 1358.7 606.8 1360.2 606.7 1361.8 606.7 1363.3 606.7 1364.8 606.8 1366.4 606.8 1367.9 606.7 1369.4 606.6 1371 606.6 1372.5 606.8 1374 606.8 1375.6 606.6 1377.1 606.6 1378.6 606.8 1380.2 606.8 1381.7 606.8 1383.2 606.8 1384.8 606.7 1386.3 606.7 1387.8 606.6 1389.4 606.8 1390.9 606.8 1392.4 606.6 1394 606.8 1395.5 606.8 1397 606.8 1398.6 606.8 1400.1 606.8 1401.6 606.8 1403.2 606.8 1404.7 606.8 1406.2 606.7 1407.8 606.7 1409.3 606.8" fill="none" stroke="#0072BD" stroke-width="1.7" stroke-linejoin="round"/>
<path d="M972.4 601.5 973.9 601 975.5 601.2 977 601 978.5 601.2 980.1 601.7 981.6 601.1 983.1 600.5 984.7 600.7 986.2 600.7 987.7 600.8 989.3 601.1 990.8 601 992.3 601.4 993.9 601.3 995.4 600.5 996.9 600.6 998.5 600.8 1000 600.3 1001.5 600.5 1003.1 601.2 1004.6 601 1006.1 600.8 1007.7 600.1 1009.2 599.5 1010.7 599.9 1012.3 600 1013.8 598.8 1015.3 598.6 1016.9 599.4 1018.4 599 1019.9 598.4 1021.5 598.2 1023 598.4 1024.5 598.6 1026.1 597.9 1027.6 597.4 1029.1 597.8 1030.7 597.1 1032.2 596.2 1033.7 596.3 1035.3 596.4 1036.8 595.9 1038.3 595.7 1039.9 595.9 1041.4 595.3 1042.9 595 1044.5 594.7 1046 594.3 1047.5 594.2 1049 593.5 1050.6 592.6 1052.1 592.6 1053.6 593.3 1055.2 592.9 1056.7 592.5 1058.2 592.2 1059.8 591.4 1061.3 590.6 1062.8 589.9 1064.4 590 1065.9 589.3 1067.4 588 1069 588.5 1070.5 589.6 1072 589.1 1073.6 587.8 1075.1 588.1 1076.6 587.6 1078.2 586.3 1079.7 586 1081.2 585.1 1082.8 583.8 1084.3 583.5 1085.8 583 1087.4 582.2 1088.9 581.6 1090.4 580.2 1092 578.4 1093.5 577.2 1095 576.8 1096.6 574.9 1098.1 573.1 1099.6 571.7 1101.2 568.8 1102.7 567.3 1104.2 567.1 1105.8 566.2 1107.3 563.7 1108.8 561.6 1110.4 560.8 1111.9 559.4 1113.4 559 1115 558.9 1116.5 558.8 1118 559.4 1119.6 558.9 1121.1 556.7 1122.6 555.2 1124.2 554.1 1125.7 553.4 1127.2 552.9 1128.8 552.1 1130.3 552.1 1131.8 552.2 1133.4 551.9 1134.9 550.5 1136.4 548.2 1138 546.4 1139.5 543.4 1141 540.7 1142.6 539.3 1144.1 537.2 1145.6 535.6 1147.2 533.4 1148.7 529.9 1150.2 528.2 1151.8 524.4 1153.3 520.4 1154.8 517 1156.4 512.9 1157.9 508.5 1159.4 503.1 1161 499.4 1162.5 496.2 1164 490.6 1165.6 483.9 1167.1 478.7 1168.6 474.1 1170.2 468 1171.7 463.8 1173.2 459.1 1174.8 452.9 1176.3 447 1177.8 441.4 1179.4 437.2 1180.9 431.7 1182.4 426.6 1184 420.6 1185.5 414.4 1187 409.7 1188.6 405.3 1190.1 399.8 1191.6 396.3 1193.2 396.8 1194.7 399.1 1196.2 402.4 1197.8 403.6 1199.3 404.9 1200.8 410.9 1202.3 418.3 1203.9 426.5 1205.4 433.7 1206.9 439.8 1208.5 449.1 1210 458.5 1211.5 467 1213.1 476.2 1214.6 485 1216.1 493.6 1217.7 503.8 1219.2 512.8 1220.7 519.6 1222.3 527.1 1223.8 534.5 1225.3 542.3 1226.9 549.2 1228.4 555.2 1229.9 562.8 1231.5 568.7 1233 571.7 1234.5 575.6 1236.1 579.7 1237.6 583.8 1239.1 587.1 1240.7 589.1 1242.2 591 1243.7 593.4 1245.3 596.1 1246.8 597.9 1248.3 599.1 1249.9 600 1251.4 600.8 1252.9 601.9 1254.5 602.5 1256 603.2 1257.5 603.4 1259.1 603.2 1260.6 604 1262.1 604.5 1263.7 604.6 1265.2 604.6 1266.7 604.3 1268.3 604.7 1269.8 604.8 1271.3 604.9 1272.9 605.4 1274.4 605.4 1275.9 605.4 1277.5 605.4 1279 605.3 1280.5 605.4 1282.1 605.2 1283.6 604.9 1285.1 605.1 1286.7 605.7 1288.2 605.4 1289.7 604.8 1291.3 605 1292.8 605.5 1294.3 605.3 1295.9 604.7 1297.4 605.1 1298.9 605.3 1300.5 604.9 1302 605.2 1303.5 605 1305.1 605 1306.6 605 1308.1 604.4 1309.7 604.4 1311.2 604.9 1312.7 605.3 1314.3 605.3 1315.8 605.3 1317.3 604.6 1318.9 604.3 1320.4 604.8 1321.9 605.1 1323.5 605.1 1325 604.8 1326.5 604.9 1328.1 604.4 1329.6 604.4 1331.1 605 1332.7 604.8 1334.2 604.4 1335.7 604.3 1337.3 604.8 1338.8 605.2 1340.3 605.1 1341.9 605.1 1343.4 605.2 1344.9 605.5 1346.5 605.9 1348 605.8 1349.5 605.8 1351.1 605.6 1352.6 605.4 1354.1 606 1355.6 606.1 1357.2 606.1 1358.7 606.1 1360.2 605.9 1361.8 606.2 1363.3 606.8 1364.8 606.5 1366.4 606.2 1367.9 606.3 1369.4 606.2 1371 606.3 1372.5 606.2 1374 606.4 1375.6 606.6 1377.1 606.6 1378.6 606.8 1380.2 606.6 1381.7 606.3 1383.2 606.8 1384.8 606.8 1386.3 606.8 1387.8 606.4 1389.4 606.6 1390.9 606.8 1392.4 606.8 1394 606.5 1395.5 606.2 1397 606.5 1398.6 606.5 1400.1 606.5 1401.6 606.6 1403.2 606.8 1404.7 606.7 1406.2 606.7 1407.8 606.6 1409.3 606.7" fill="none" stroke="#D95319" stroke-width="1.7" stroke-linejoin="round"/>
<path d="M972.4 598.3 973.9 598.5 975.5 599.1 977 599.1 978.5 598.9 980.1 598 981.6 597.3 983.1 597.4 984.7 597.4 986.2 597.9 987.7 597.3 989.3 596.3 990.8 596.2 992.3 596.6 993.9 596.1 995.4 596 996.9 595.8 998.5 595.6 1000 596 1001.5 595.2 1003.1 594.4 1004.6 593.5 1006.1 593.3 1007.7 593.6 1009.2 593.4 1010.7 593.7 1012.3 593.5 1013.8 592 1015.3 591.2 1016.9 590.5 1018.4 588.9 1019.9 589 1021.5 588.4 1023 587.6 1024.5 587.3 1026.1 587 1027.6 586.5 1029.1 586.3 1030.7 585.8 1032.2 585 1033.7 584.8 1035.3 583.7 1036.8 582.9 1038.3 582.6 1039.9 581.7 1041.4 580.6 1042.9 580.9 1044.5 580.3 1046 578.5 1047.5 578.3 1049 577.6 1050.6 577 1052.1 575.4 1053.6 573.8 1055.2 573.4 1056.7 571.5 1058.2 570.4 1059.8 569.6 1061.3 568.9 1062.8 568.5 1064.4 567.7 1065.9 566.6 1067.4 564.5 1069 563.4 1070.5 562.5 1072 562.1 1073.6 561.6 1075.1 559.5 1076.6 556.7 1078.2 554.1 1079.7 552.5 1081.2 550.3 1082.8 548.4 1084.3 546.7 1085.8 543.5 1087.4 541.5 1088.9 539.5 1090.4 535.2 1092 532.2 1093.5 529.5 1095 526.6 1096.6 522.1 1098.1 519.2 1099.6 517.3 1101.2 512.3 1102.7 506.3 1104.2 501.5 1105.8 499.1 1107.3 496.7 1108.8 493.3 1110.4 490 1111.9 489 1113.4 488.7 1115 487.5 1116.5 484.3 1118 481.1 1119.6 479.5 1121.1 478.8 1122.6 479.3 1124.2 478.5 1125.7 477.7 1127.2 478.1 1128.8 477.6 1130.3 479.3 1131.8 481.5 1133.4 481.2 1134.9 481.5 1136.4 484.3 1138 488.1 1139.5 487.9 1141 484.2 1142.6 482 1144.1 481.8 1145.6 482.2 1147.2 481 1148.7 478.7 1150.2 477.7 1151.8 476 1153.3 472.4 1154.8 468.6 1156.4 465.7 1157.9 461.9 1159.4 457.1 1161 453.3 1162.5 447.6 1164 441.1 1165.6 437.5 1167.1 431.9 1168.6 423.9 1170.2 418.7 1171.7 411.6 1173.2 405.2 1174.8 400 1176.3 395.8 1177.8 392.8 1179.4 384.9 1180.9 375.3 1182.4 369.8 1184 365.1 1185.5 361 1187 359 1188.6 354.6 1190.1 348.5 1191.6 348.9 1193.2 350.4 1194.7 350 1196.2 349.2 1197.8 347.6 1199.3 353.9 1200.8 360 1202.3 360.6 1203.9 364.3 1205.4 374.7 1206.9 387.5 1208.5 398.5 1210 403.4 1211.5 410.8 1213.1 420.6 1214.6 429.9 1216.1 442.2 1217.7 454.7 1219.2 464.9 1220.7 475.5 1222.3 487 1223.8 499.4 1225.3 510.2 1226.9 520.9 1228.4 533.1 1229.9 542.3 1231.5 549.1 1233 554.7 1234.5 561.5 1236.1 568.8 1237.6 572.1 1239.1 575.3 1240.7 580 1242.2 583.6 1243.7 586.8 1245.3 588.2 1246.8 590.1 1248.3 592.7 1249.9 594.3 1251.4 594.7 1252.9 595.9 1254.5 597.3 1256 597.9 1257.5 598.8 1259.1 599.9 1260.6 600.4 1262.1 600.2 1263.7 600.8 1265.2 601.9 1266.7 602.5 1268.3 602.4 1269.8 602.3 1271.3 602.6 1272.9 602.6 1274.4 603.2 1275.9 603.1 1277.5 602.6 1279 602.9 1280.5 602.9 1282.1 602.6 1283.6 602.6 1285.1 603.2 1286.7 602.8 1288.2 602.7 1289.7 603.3 1291.3 603.6 1292.8 603.4 1294.3 603.3 1295.9 603.4 1297.4 602.9 1298.9 602.6 1300.5 602.3 1302 602.1 1303.5 602.4 1305.1 602.4 1306.6 602.3 1308.1 601.8 1309.7 601.5 1311.2 601.8 1312.7 601.4 1314.3 601.2 1315.8 601.5 1317.3 602 1318.9 601.6 1320.4 601 1321.9 601 1323.5 601.2 1325 601.5 1326.5 601.4 1328.1 601.1 1329.6 601.1 1331.1 601.3 1332.7 601.5 1334.2 601.5 1335.7 601.4 1337.3 601.9 1338.8 601.8 1340.3 601.5 1341.9 601.6 1343.4 602 1344.9 602.5 1346.5 603 1348 602.8 1349.5 603.3 1351.1 603.8 1352.6 603.4 1354.1 603.2 1355.6 603.3 1357.2 604 1358.7 604.5 1360.2 604.5 1361.8 604.2 1363.3 604.1 1364.8 604.3 1366.4 604.6 1367.9 604.7 1369.4 604.3 1371 604.7 1372.5 605 1374 604.4 1375.6 604.4 1377.1 605.1 1378.6 605.2 1380.2 605.4 1381.7 605.7 1383.2 605.3 1384.8 604.9 1386.3 605.8 1387.8 606.2 1389.4 605.4 1390.9 605.8 1392.4 606.3 1394 605.9 1395.5 606.1 1397 606.5 1398.6 606.4 1400.1 606.8 1401.6 606.8 1403.2 606.7 1404.7 606.6 1406.2 606.1 1407.8 606.2 1409.3 606.7" fill="none" stroke="#EDB120" stroke-width="1.7" stroke-linejoin="round"/>
<path d="M972.4 593 973.9 593.5 975.5 594.3 977 594.3 978.5 593.3 980.1 592.1 981.6 592.4 983.1 592.4 984.7 592 986.2 591.7 987.7 591.2 989.3 590.6 990.8 589.3 992.3 588.4 993.9 588.9 995.4 588.7 996.9 587.2 998.5 586.1 1000 585.9 1001.5 585.1 1003.1 583.9 1004.6 584.2 1006.1 584.8 1007.7 584.4 1009.2 583.1 1010.7 581.8 1012.3 581.6 1013.8 581.1 1015.3 579.6 1016.9 578.4 1018.4 578.2 1019.9 576.5 1021.5 575.7 1023 575.9 1024.5 572.7 1026.1 570.9 1027.6 571.1 1029.1 569.8 1030.7 567.9 1032.2 565.4 1033.7 563.3 1035.3 561.8 1036.8 560.8 1038.3 560.3 1039.9 558.2 1041.4 554.5 1042.9 552 1044.5 551.1 1046 549.2 1047.5 547.3 1049 545.8 1050.6 544.4 1052.1 542.5 1053.6 539.5 1055.2 537.1 1056.7 534.1 1058.2 529.8 1059.8 526.3 1061.3 524.6 1062.8 522.9 1064.4 520.1 1065.9 517.4 1067.4 514 1069 510 1070.5 506.7 1072 503.3 1073.6 499.3 1075.1 495.1 1076.6 491.1 1078.2 484.6 1079.7 478 1081.2 475.2 1082.8 471.7 1084.3 465.9 1085.8 459.4 1087.4 451.6 1088.9 443.8 1090.4 436.6 1092 429.2 1093.5 422.2 1095 415.6 1096.6 409.7 1098.1 404.2 1099.6 399.6 1101.2 391.9 1102.7 379.7 1104.2 371.2 1105.8 364.6 1107.3 353.3 1108.8 342.2 1110.4 334.3 1111.9 323.9 1113.4 315.3 1115 311.4 1116.5 309.3 1118 306.3 1119.6 301.6 1121.1 297.7 1122.6 293.2 1124.2 289 1125.7 285.5 1127.2 283 1128.8 285.4 1130.3 288 1131.8 289 1133.4 293.2 1134.9 297.8 1136.4 300.5 1138 304.3 1139.5 307.4 1141 309.5 1142.6 315.3 1144.1 320.2 1145.6 323.3 1147.2 327.9 1148.7 333.9 1150.2 340.8 1151.8 348.1 1153.3 353.8 1154.8 357.6 1156.4 358.3 1157.9 360.5 1159.4 364.1 1161 367.3 1162.5 374.7 1164 380.9 1165.6 383.9 1167.1 385.9 1168.6 385.9 1170.2 389.7 1171.7 393 1173.2 393 1174.8 394.5 1176.3 396.5 1177.8 397.3 1179.4 396.8 1180.9 398.4 1182.4 399.6 1184 399.8 1185.5 400.8 1187 398.6 1188.6 398 1190.1 401.1 1191.6 403.9 1193.2 408.3 1194.7 411.3 1196.2 411.2 1197.8 411.2 1199.3 414 1200.8 417.7 1202.3 420.1 1203.9 423 1205.4 429.9 1206.9 434.6 1208.5 436.8 1210 444.3 1211.5 452.1 1213.1 457 1214.6 462.7 1216.1 469.8 1217.7 475.1 1219.2 481.8 1220.7 488.6 1222.3 493.9 1223.8 499.3 1225.3 504 1226.9 508.9 1228.4 515.8 1229.9 523.6 1231.5 530.1 1233 536.8 1234.5 543.8 1236.1 549.8 1237.6 553.9 1239.1 557.6 1240.7 561.8 1242.2 565.3 1243.7 568.3 1245.3 570.2 1246.8 573.3 1248.3 576.2 1249.9 577.5 1251.4 579.7 1252.9 582.1 1254.5 583.6 1256 585.2 1257.5 585.8 1259.1 586.9 1260.6 588 1262.1 588.3 1263.7 590.3 1265.2 591.6 1266.7 592.1 1268.3 593.1 1269.8 593.4 1271.3 593.4 1272.9 593.3 1274.4 593.1 1275.9 594.2 1277.5 595.1 1279 594.7 1280.5 594.2 1282.1 595.5 1283.6 595.5 1285.1 594.6 1286.7 594.5 1288.2 594.6 1289.7 595.3 1291.3 594.6 1292.8 593.1 1294.3 592.5 1295.9 593.6 1297.4 592.9 1298.9 592.2 1300.5 592.5 1302 591.8 1303.5 591.5 1305.1 590.6 1306.6 589 1308.1 587.4 1309.7 585.5 1311.2 584.1 1312.7 583.4 1314.3 582 1315.8 579.4 1317.3 577.5 1318.9 576.6 1320.4 575.5 1321.9 573.9 1323.5 572.7 1325 571.7 1326.5 572.1 1328.1 572.9 1329.6 571.7 1331.1 570.9 1332.7 571.1 1334.2 573.8 1335.7 575.3 1337.3 576.6 1338.8 577.4 1340.3 577.2 1341.9 579.1 1343.4 580.7 1344.9 581.6 1346.5 583.2 1348 584.9 1349.5 586.1 1351.1 588 1352.6 589.6 1354.1 591.2 1355.6 593.3 1357.2 594.6 1358.7 595.3 1360.2 596.8 1361.8 597.6 1363.3 597.8 1364.8 599.1 1366.4 600 1367.9 600.3 1369.4 601.4 1371 601.9 1372.5 602.5 1374 603.2 1375.6 603.1 1377.1 603 1378.6 603.2 1380.2 602.8 1381.7 603.2 1383.2 604.1 1384.8 604.5 1386.3 604.7 1387.8 604.2 1389.4 604.1 1390.9 604.9 1392.4 605.5 1394 605.2 1395.5 605.3 1397 605.5 1398.6 605.9 1400.1 605.9 1401.6 605.5 1403.2 605.8 1404.7 606.4 1406.2 606.6 1407.8 606.5 1409.3 606.4" fill="none" stroke="#7E2F8E" stroke-width="1.7" stroke-linejoin="round"/>
<path d="M972.4 589.6 973.9 588.6 975.5 589.1 977 589.9 978.5 589.2 980.1 588.5 981.6 588.1 983.1 587.1 984.7 585.8 986.2 585.6 987.7 585.4 989.3 584.7 990.8 583.7 992.3 583 993.9 582.8 995.4 582 996.9 581.7 998.5 580.8 1000 580.9 1001.5 581.1 1003.1 579.6 1004.6 578.2 1006.1 577.7 1007.7 576.5 1009.2 575.9 1010.7 575 1012.3 573.2 1013.8 573.4 1015.3 572.5 1016.9 570.3 1018.4 568.9 1019.9 569.7 1021.5 567.9 1023 564.9 1024.5 564.8 1026.1 563 1027.6 561.4 1029.1 560.2 1030.7 557.9 1032.2 556.7 1033.7 554.6 1035.3 552.9 1036.8 551 1038.3 548.5 1039.9 546.4 1041.4 542.4 1042.9 539.6 1044.5 538.7 1046 536 1047.5 532.9 1049 529.9 1050.6 526.3 1052.1 523.2 1053.6 520.2 1055.2 517.5 1056.7 514 1058.2 509.7 1059.8 507.3 1061.3 504.7 1062.8 500.7 1064.4 495.9 1065.9 490.8 1067.4 487.9 1069 483.9 1070.5 479.7 1072 475.6 1073.6 469.5 1075.1 463.1 1076.6 457.2 1078.2 452.6 1079.7 448.9 1081.2 442.1 1082.8 434.4 1084.3 427.6 1085.8 420.8 1087.4 414.7 1088.9 408.3 1090.4 400.2 1092 389.7 1093.5 376.4 1095 364.2 1096.6 356.1 1098.1 346.7 1099.6 340.3 1101.2 336.8 1102.7 327 1104.2 313.1 1105.8 300.4 1107.3 288 1108.8 276.9 1110.4 266.3 1111.9 256.9 1113.4 244.3 1115 233.5 1116.5 225.9 1118 216.9 1119.6 205.5 1121.1 195.9 1122.6 192.1 1124.2 187.6 1125.7 181.2 1127.2 175.7 1128.8 175.6 1130.3 173.4 1131.8 170.8 1133.4 173.6 1134.9 175.4 1136.4 175.6 1138 176.2 1139.5 182.4 1141 190.4 1142.6 198.1 1144.1 204.2 1145.6 208.4 1147.2 217.5 1148.7 226.2 1150.2 231.2 1151.8 241.5 1153.3 252.1 1154.8 258.2 1156.4 268.2 1157.9 277.3 1159.4 283.1 1161 289.5 1162.5 299.3 1164 308.1 1165.6 316.1 1167.1 325.3 1168.6 332.4 1170.2 340.2 1171.7 347.1 1173.2 355.4 1174.8 363.8 1176.3 370.5 1177.8 378.2 1179.4 384.5 1180.9 391.9 1182.4 397.3 1184 400.1 1185.5 404.8 1187 406 1188.6 408.4 1190.1 412.7 1191.6 417.3 1193.2 427.9 1194.7 439.2 1196.2 443 1197.8 446.7 1199.3 454.1 1200.8 457.9 1202.3 462.3 1203.9 470 1205.4 477.2 1206.9 483.2 1208.5 489 1210 494.1 1211.5 499.9 1213.1 505.8 1214.6 510.1 1216.1 514.6 1217.7 519 1219.2 523.9 1220.7 528.7 1222.3 533 1223.8 535.4 1225.3 538.8 1226.9 542.7 1228.4 545.4 1229.9 548.3 1231.5 550.4 1233 554.5 1234.5 557.6 1236.1 559.8 1237.6 560.9 1239.1 562 1240.7 565.6 1242.2 567.5 1243.7 567.6 1245.3 568.1 1246.8 569.7 1248.3 572.2 1249.9 574.1 1251.4 573.9 1252.9 575.1 1254.5 576.5 1256 576.9 1257.5 577.4 1259.1 576.4 1260.6 575.7 1262.1 576.3 1263.7 576.6 1265.2 576.6 1266.7 576.3 1268.3 576.8 1269.8 577.6 1271.3 578 1272.9 577.1 1274.4 576.7 1275.9 577.9 1277.5 577.7 1279 576.8 1280.5 576.1 1282.1 575.5 1283.6 576.1 1285.1 576.8 1286.7 576.3 1288.2 575.9 1289.7 574 1291.3 571 1292.8 568.9 1294.3 568.2 1295.9 567.1 1297.4 563.5 1298.9 561.2 1300.5 559.1 1302 555.5 1303.5 553.2 1305.1 551.1 1306.6 547.2 1308.1 543.3 1309.7 539.5 1311.2 534.8 1312.7 531 1314.3 527 1315.8 522.4 1317.3 518.9 1318.9 514.2 1320.4 509.3 1321.9 507.6 1323.5 506 1325 503.9 1326.5 502.6 1328.1 500.5 1329.6 495.9 1331.1 491.4 1332.7 492.2 1334.2 494 1335.7 497.6 1337.3 500.2 1338.8 501.2 1340.3 500.6 1341.9 502.9 1343.4 513.4 1344.9 520.4 1346.5 526.6 1348 530.6 1349.5 534.4 1351.1 538.9 1352.6 544.3 1354.1 550.6 1355.6 554.7 1357.2 558.7 1358.7 562.8 1360.2 565.6 1361.8 570 1363.3 574 1364.8 578.3 1366.4 580.5 1367.9 582.5 1369.4 585.8 1371 588.7 1372.5 591.2 1374 593.1 1375.6 594.7 1377.1 595.7 1378.6 596.7 1380.2 597.1 1381.7 597.7 1383.2 598.6 1384.8 599.3 1386.3 599.2 1387.8 600.1 1389.4 601 1390.9 602 1392.4 603.1 1394 602.7 1395.5 602.7 1397 602.2 1398.6 601.6 1400.1 603.1 1401.6 604.3 1403.2 604 1404.7 603.4 1406.2 603.4 1407.8 604.3 1409.3 605.7" fill="none" stroke="#77AC30" stroke-width="1.7" stroke-linejoin="round"/>
<rect x="972.4" y="144.8" width="438" height="462" fill="none" stroke="#262626" stroke-width="1.4"/>
<path d="M1125.7 606.8v-4.5 M1125.7 144.8v4.5 M1191.4 606.8v-4.5 M1191.4 144.8v4.5 M1279 606.8v-4.5 M1279 144.8v4.5 M972.4 529.8h4.5 M1410.4 529.8h-4.5 M972.4 452.8h4.5 M1410.4 452.8h-4.5 M972.4 375.8h4.5 M1410.4 375.8h-4.5 M972.4 298.8h4.5 M1410.4 298.8h-4.5 M972.4 221.8h4.5 M1410.4 221.8h-4.5" stroke="#262626" stroke-width="1.2" fill="none"/>
<text transform="translate(960.9 617.6) scale(0.957 1)" font-size="29.36" text-anchor="end" font-weight="normal" fill="#262626">0</text>
<text transform="translate(960.9 540.6) scale(0.957 1)" font-size="29.36" text-anchor="end" font-weight="normal" fill="#262626">200</text>
<text transform="translate(960.9 463.6) scale(0.957 1)" font-size="29.36" text-anchor="end" font-weight="normal" fill="#262626">400</text>
<text transform="translate(960.9 386.7) scale(0.957 1)" font-size="29.36" text-anchor="end" font-weight="normal" fill="#262626">600</text>
<text transform="translate(960.9 309.7) scale(0.957 1)" font-size="29.36" text-anchor="end" font-weight="normal" fill="#262626">800</text>
<text transform="translate(960.9 232.7) scale(0.957 1)" font-size="29.36" text-anchor="end" font-weight="normal" fill="#262626">1000</text>
<text transform="translate(960.9 155.7) scale(0.957 1)" font-size="29.36" text-anchor="end" font-weight="normal" fill="#262626">1200</text>
<text transform="translate(976.9 645.4) rotate(-10.5) scale(0.957 1)" font-size="29.36" text-anchor="middle" font-weight="normal" fill="#262626">1360</text>
<text transform="translate(1130.2 645.4) rotate(-10.5) scale(0.957 1)" font-size="29.36" text-anchor="middle" font-weight="normal" fill="#262626">1395</text>
<text transform="translate(1195.9 645.4) rotate(-10.5) scale(0.957 1)" font-size="29.36" text-anchor="middle" font-weight="normal" fill="#262626">1410</text>
<text transform="translate(1283.5 645.4) rotate(-10.5) scale(0.957 1)" font-size="29.36" text-anchor="middle" font-weight="normal" fill="#262626">1430</text>
<text transform="translate(1414.9 645.4) rotate(-10.5) scale(0.957 1)" font-size="29.36" text-anchor="middle" font-weight="normal" fill="#262626">1460</text>
<text transform="translate(1186 709.5) scale(0.957 1)" font-size="30.3" text-anchor="middle" font-weight="normal" fill="#000">Energy (meV)</text>
<text transform="translate(879.8 383) rotate(-90) scale(0.957 1)" font-size="30.62" text-anchor="middle" font-weight="normal" fill="#000">Intensity (a.u.)</text>
<text transform="translate(852 70.3)" font-size="32.5" text-anchor="start" font-weight="bold" fill="#000">b</text>
<line x1="1212" y1="171.3" x2="1306.6" y2="171.3" stroke="#0072BD" stroke-width="1.5"/>
<text transform="translate(1314 180.9) scale(0.957 1)" font-size="26.02" text-anchor="start" font-weight="normal" fill="#000">5uW</text>
<line x1="1212" y1="204.8" x2="1306.6" y2="204.8" stroke="#D95319" stroke-width="1.5"/>
<text transform="translate(1314 214.4) scale(0.957 1)" font-size="26.02" text-anchor="start" font-weight="normal" fill="#000">15uW</text>
<line x1="1212" y1="238.3" x2="1306.6" y2="238.3" stroke="#EDB120" stroke-width="1.5"/>
<text transform="translate(1314 247.9) scale(0.957 1)" font-size="26.02" text-anchor="start" font-weight="normal" fill="#000">25uW</text>
<line x1="1212" y1="271.9" x2="1306.6" y2="271.9" stroke="#7E2F8E" stroke-width="1.5"/>
<text transform="translate(1314 281.5) scale(0.957 1)" font-size="26.02" text-anchor="start" font-weight="normal" fill="#000">50uW</text>
<line x1="1212" y1="305.4" x2="1306.6" y2="305.4" stroke="#77AC30" stroke-width="1.5"/>
<text transform="translate(1314 315) scale(0.957 1)" font-size="26.02" text-anchor="start" font-weight="normal" fill="#000">100uW</text>
<path d="M300.9 1282 302 1282 303.2 1278.1 304.3 1277 305.4 1282 306.6 1279.1 307.7 1274.5 308.8 1278.9 310 1280.4 311.1 1277.6 312.3 1277.8 313.4 1279.2 314.5 1281.1 315.7 1280.7 316.8 1279.2 317.9 1281.1 319.1 1275.4 320.2 1276.7 321.3 1276.1 322.5 1273.2 323.6 1274.6 324.7 1275.1 325.9 1278.3 327 1280 328.1 1272.4 329.3 1281.5 330.4 1281.3 331.5 1282 332.7 1278.8 333.8 1278.2 335 1276.3 336.1 1280.1 337.2 1282 338.4 1278.5 339.5 1276.5 340.6 1279.3 341.8 1279.8 342.9 1277.7 344 1275.1 345.2 1279.6 346.3 1282 347.4 1281.2 348.6 1279.9 349.7 1282 350.8 1277.1 352 1281.8 353.1 1277.9 354.2 1278.8 355.4 1280.4 356.5 1274.5 357.7 1281.2 358.8 1281.5 359.9 1278.5 361.1 1276.9 362.2 1279.5 363.3 1282 364.5 1277.3 365.6 1277.6 366.7 1273.1 367.9 1280.1 369 1278.8 370.1 1281.2 371.3 1282 372.4 1279.2 373.5 1276.8 374.7 1282 375.8 1281.5 376.9 1282 378.1 1275.3 379.2 1281.4 380.4 1277.7 381.5 1282 382.6 1279.2 383.8 1281.4 384.9 1282 386 1279 387.2 1276.7 388.3 1282 389.4 1276.5 390.6 1275.9 391.7 1276.2 392.8 1271.7 394 1275.3 395.1 1266.4 396.2 1261.4 397.4 1267.3 398.5 1260.9 399.6 1253.9 400.8 1257.2 401.9 1264.3 403.1 1279.7 404.2 1276.5 405.3 1277.5 406.5 1275.2 407.6 1282 408.7 1274 409.9 1278.6 411 1275.5 412.1 1279.7 413.3 1281.6 414.4 1279.3 415.5 1280.6 416.7 1278.8 417.8 1275.7 418.9 1274.4 420.1 1277.1 421.2 1279.4 422.3 1279.1 423.5 1275.9 424.6 1274.2 425.8 1278.8 426.9 1278.1 428 1280.1 429.2 1277.1 430.3 1274.6 431.4 1282 432.6 1275 433.7 1276.3 434.8 1280.7 436 1271.1 437.1 1271.4 438.2 1268.9 439.4 1273.5 440.5 1261.1 441.6 1266.8 442.8 1267.4 443.9 1260.5 445 1262.8 446.2 1261.8 447.3 1260.3 448.5 1270.8 449.6 1257.9 450.7 1264.3 451.9 1261.9 453 1259.5 454.1 1264.6 455.3 1260.4 456.4 1256.6 457.5 1255.7 458.7 1250 459.8 1254.5 460.9 1251.5 462.1 1250.3 463.2 1243.9 464.3 1230.4 465.5 1241.8 466.6 1241.1 467.7 1237.8 468.9 1230.4 470 1227.8 471.2 1231.3 472.3 1218.1 473.4 1217.5 474.6 1208.7 475.7 1215.1 476.8 1208.7 478 1196.8 479.1 1206.4 480.2 1195.5 481.4 1194.4 482.5 1192.5 483.6 1181.7 484.8 1172.7 485.9 1168.5 487 1170.2 488.2 1163.6 489.3 1141.7 490.4 1144.3 491.6 1139.8 492.7 1135.2 493.9 1138 495 1129.3 496.1 1126.3 497.3 1104.1 498.4 1100.7 499.5 1102.2 500.7 1084.2 501.8 1068.2 502.9 1043.3 504.1 1039.9 505.2 1046.2 506.3 1033.5 507.5 1027.5 508.6 1006 509.7 997 510.9 988.7 512 947 513.1 934.2 514.3 928.6 515.4 916.5 516.6 888.6 517.7 887 518.8 889.2 520 872.3 521.1 883 522.2 847.1 523.4 868.8 524.5 871.5 525.6 851.6 526.8 846.5 527.9 878.6 529 862.1 530.2 869.2 531.3 908.1 532.4 907.9 533.6 937.9 534.7 963 535.8 978.8 537 1003 538.1 1041.9 539.3 1059.8 540.4 1078.1 541.5 1112 542.7 1135.9 543.8 1154 544.9 1166.4 546.1 1193.6 547.2 1207.9 548.3 1214 549.5 1216.3 550.6 1225.2 551.7 1233.1 552.9 1241.2 554 1256.7 555.1 1261.8 556.3 1272.7 557.4 1267.4 558.5 1271.8 559.7 1269.9 560.8 1265.2 562 1264.6 563.1 1264.4 564.2 1264.3 565.4 1272.7 566.5 1277.8 567.6 1274.6 568.8 1272.8 569.9 1275.2 571 1279.3 572.2 1276.7 573.3 1280 574.4 1277.5 575.6 1280.5 576.7 1278.3 577.8 1272.5 579 1276.3 580.1 1274.1 581.2 1281.1 582.4 1280.9 583.5 1278.9 584.7 1277.1 585.8 1279.4 586.9 1275.7 588.1 1280.5 589.2 1274.6 590.3 1275.9 591.5 1282 592.6 1277.1 593.7 1279.6 594.9 1275.8 596 1280.6 597.1 1278 598.3 1277.2 599.4 1282 600.5 1282 601.7 1278.6 602.8 1279.4 603.9 1275.9 605.1 1278.3 606.2 1282 607.4 1278 608.5 1281.3 609.6 1279.7 610.8 1280.6 611.9 1278 613 1282 614.2 1282 615.3 1282 616.4 1272.5 617.6 1282 618.7 1281.8 619.8 1282 621 1281.1 622.1 1280.5 623.2 1277.2 624.4 1278.6 625.5 1278.1 626.6 1281 627.8 1279.4 628.9 1275.4 630.1 1279.2 631.2 1278.2 632.3 1282 633.5 1277.6 634.6 1278.4 635.7 1275.3 636.9 1282 638 1279.2 639.1 1279.6 640.3 1279 641.4 1281.2 642.5 1278.6 643.7 1277.1 644.8 1279.2 645.9 1280.2 647.1 1280 648.2 1280.5 649.3 1279.2 650.5 1281.5 651.6 1282 652.8 1275.2 653.9 1282 655 1279.7 656.2 1282 657.3 1280.3 658.4 1282 659.6 1279.5 660.7 1282 661.8 1282 663 1278.5 664.1 1275.3 665.2 1278.4 666.4 1279.1 667.5 1282 668.6 1279.7 669.8 1278.1 670.9 1281.5 672 1276.7 673.2 1279.6 674.3 1278.4 675.5 1281 676.6 1281 677.7 1278.8 678.9 1278.3 680 1278.5 681.1 1282 682.3 1281.8 683.4 1279.6 684.5 1282 685.7 1276.3 686.8 1278.6 687.9 1279.4 689.1 1281.7 690.2 1277 691.3 1280.4 692.5 1273.7 693.6 1278.4 694.7 1282 695.9 1277.3 697 1281.2 698.2 1281.2 699.3 1280.3 700.4 1280 701.6 1278.8 702.7 1277.3 703.8 1278.2 705 1281.8 706.1 1282 707.2 1282 708.4 1278.5 709.5 1276.9 710.6 1274.1 711.8 1282 712.9 1279.4 714 1280.3 715.2 1280.8 716.3 1279.2 717.4 1280.4 718.6 1280.4 719.7 1281.6 720.9 1278.4 722 1276.4 723.1 1274.6 724.3 1281.2 725.4 1282 726.5 1280.4 727.7 1282 728.8 1276.5 729.9 1282 731.1 1279.4 732.2 1282 733.3 1280.7 734.5 1279 735.6 1274.9 736.7 1281.8 737.9 1278.5 739 1282 740.1 1282 741.3 1282 742.4 1281.2 743.6 1278.3 744.7 1277.7 745.8 1282 747 1278 748.1 1282 749.2 1274 750.4 1278.7 751.5 1279.2 752.6 1280.2 753.8 1279.7 754.9 1279.6" fill="none" stroke="#0072BD" stroke-width="1.7" stroke-linejoin="round"/>
<path d="M300.9 1280.6 302 1281 303.2 1280.6 304.3 1281.1 305.4 1280.6 306.6 1281.5 307.7 1278.4 308.8 1281.4 310 1281.1 311.1 1280 312.3 1279.7 313.4 1281 314.5 1281.5 315.7 1281.2 316.8 1280.8 317.9 1280.5 319.1 1280 320.2 1279 321.3 1278.8 322.5 1279.9 323.6 1278.9 324.7 1278.5 325.9 1277.9 327 1278.9 328.1 1279.1 329.3 1277.9 330.4 1277.2 331.5 1278.5 332.7 1276.5 333.8 1276.5 335 1277.8 336.1 1278.5 337.2 1277.5 338.4 1277.1 339.5 1276.1 340.6 1277.4 341.8 1274.1 342.9 1273.8 344 1275.8 345.2 1276.3 346.3 1274.7 347.4 1273.9 348.6 1273 349.7 1273.2 350.8 1273.6 352 1274.7 353.1 1272.7 354.2 1272.2 355.4 1272.9 356.5 1272.3 357.7 1272.2 358.8 1272.3 359.9 1272.9 361.1 1271.6 362.2 1272.8 363.3 1270.4 364.5 1272 365.6 1270.8 366.7 1271.6 367.9 1270.6 369 1270.9 370.1 1270.1 371.3 1271 372.4 1271.5 373.5 1270.3 374.7 1270.2 375.8 1270.9 376.9 1270.2 378.1 1270.8 379.2 1269.2 380.4 1269.4 381.5 1268.9 382.6 1266.7 383.8 1268.4 384.9 1268 386 1267.5 387.2 1267.9 388.3 1267.9 389.4 1266.4 390.6 1265.9 391.7 1268.7 392.8 1266.1 394 1265.8 395.1 1265.6 396.2 1263.7 397.4 1264.7 398.5 1263 399.6 1263.7 400.8 1263.1 401.9 1261.7 403.1 1262.5 404.2 1261.6 405.3 1262 406.5 1261.4 407.6 1259.6 408.7 1259.2 409.9 1260.2 411 1259.6 412.1 1255.7 413.3 1257.6 414.4 1257 415.5 1254.8 416.7 1254.9 417.8 1253.5 418.9 1251.3 420.1 1250.1 421.2 1250.1 422.3 1247.4 423.5 1247.5 424.6 1246.2 425.8 1244.5 426.9 1243.2 428 1240.6 429.2 1238.8 430.3 1237.8 431.4 1234.8 432.6 1233.3 433.7 1231.1 434.8 1228.3 436 1224.7 437.1 1223 438.2 1219.4 439.4 1216.4 440.5 1215.3 441.6 1213 442.8 1210 443.9 1205.4 445 1201.2 446.2 1196.6 447.3 1196.3 448.5 1189.6 449.6 1185.2 450.7 1179 451.9 1177.1 453 1171.7 454.1 1167.8 455.3 1161.2 456.4 1156.7 457.5 1151.7 458.7 1145.6 459.8 1139.3 460.9 1128.8 462.1 1119.2 463.2 1109.1 464.3 1100.8 465.5 1088.5 466.6 1079 467.7 1075.4 468.9 1062.4 470 1049.3 471.2 1032.5 472.3 1015.3 473.4 1002.3 474.6 984.6 475.7 969.2 476.8 959.5 478 945.8 479.1 928.8 480.2 912.7 481.4 897.1 482.5 888.5 483.6 876.8 484.8 871.7 485.9 861.2 487 853.9 488.2 846.5 489.3 848 490.4 847.3 491.6 850.3 492.7 850.1 493.9 858.5 495 866.1 496.1 868.8 497.3 878.4 498.4 880.9 499.5 883.5 500.7 896.2 501.8 902.8 502.9 917.5 504.1 921.6 505.2 932.3 506.3 941.5 507.5 951.5 508.6 950.2 509.7 966.8 510.9 973.6 512 973.9 513.1 976.7 514.3 980.1 515.4 984 516.6 990 517.7 988.8 518.8 992 520 997.6 521.1 992.4 522.2 1000.2 523.4 1000.1 524.5 1005.2 525.6 1001.7 526.8 1006.1 527.9 1010.4 529 1009.2 530.2 1018.1 531.3 1017.4 532.4 1023.9 533.6 1026.1 534.7 1034.2 535.8 1048.4 537 1052.5 538.1 1064.9 539.3 1071 540.4 1086.6 541.5 1096.4 542.7 1107.5 543.8 1117.5 544.9 1127.8 546.1 1138.3 547.2 1152 548.3 1158.7 549.5 1169.3 550.6 1177.9 551.7 1185.7 552.9 1192.9 554 1203.7 555.1 1211.5 556.3 1219.1 557.4 1224.9 558.5 1230.3 559.7 1235.6 560.8 1239.7 562 1242.7 563.1 1244.5 564.2 1248.3 565.4 1250 566.5 1254.8 567.6 1255.5 568.8 1257.1 569.9 1258.5 571 1261.4 572.2 1263 573.3 1264.2 574.4 1263.5 575.6 1261.8 576.7 1264.1 577.8 1265.7 579 1264.9 580.1 1265.7 581.2 1265.4 582.4 1265.9 583.5 1266.4 584.7 1265.3 585.8 1263.8 586.9 1263.4 588.1 1262 589.2 1263.2 590.3 1260.8 591.5 1260.9 592.6 1260 593.7 1258 594.9 1257.7 596 1255.6 597.1 1253.2 598.3 1251 599.4 1248.3 600.5 1244.8 601.7 1242.8 602.8 1241.6 603.9 1236.9 605.1 1238 606.2 1236.9 607.4 1237.5 608.5 1238.6 609.6 1237.3 610.8 1237.2 611.9 1237.9 613 1240.2 614.2 1242.5 615.3 1245.4 616.4 1248.2 617.6 1252 618.7 1254.6 619.8 1257.3 621 1260.3 622.1 1260.6 623.2 1264.9 624.4 1265.9 625.5 1267.4 626.6 1270.9 627.8 1270.1 628.9 1272.1 630.1 1272.6 631.2 1273.9 632.3 1275.5 633.5 1274.9 634.6 1275.7 635.7 1275.7 636.9 1276.7 638 1278.8 639.1 1277.2 640.3 1277.7 641.4 1278 642.5 1278.4 643.7 1279.4 644.8 1278.7 645.9 1279.5 647.1 1277.3 648.2 1279.6 649.3 1280.4 650.5 1279.9 651.6 1278.7 652.8 1280.3 653.9 1281.7 655 1279 656.2 1279.9 657.3 1280.5 658.4 1279.7 659.6 1281 660.7 1281.2 661.8 1279.8 663 1280.9 664.1 1280.2 665.2 1280.6 666.4 1280.1 667.5 1280.7 668.6 1282 669.8 1280.4 670.9 1281.3 672 1280.4 673.2 1281 674.3 1280.1 675.5 1281.4 676.6 1282 677.7 1281.5 678.9 1281 680 1281.6 681.1 1281.8 682.3 1280.4 683.4 1281.6 684.5 1280.8 685.7 1281.5 686.8 1282 687.9 1282 689.1 1281.8 690.2 1281.4 691.3 1282 692.5 1282 693.6 1282 694.7 1282 695.9 1282 697 1282 698.2 1280.3 699.3 1281.4 700.4 1282 701.6 1281.6 702.7 1280.5 703.8 1281.2 705 1281.7 706.1 1282 707.2 1282 708.4 1281.9 709.5 1281.7 710.6 1282 711.8 1282 712.9 1281.6 714 1282 715.2 1282 716.3 1281.6 717.4 1281.2 718.6 1281.4 719.7 1280.9 720.9 1280.5 722 1281 723.1 1281.8 724.3 1280.1 725.4 1280.4 726.5 1280.9 727.7 1282 728.8 1281.3 729.9 1282 731.1 1281.8 732.2 1282 733.3 1281.9 734.5 1280.8 735.6 1281.5 736.7 1280.4 737.9 1281.5 739 1281.5 740.1 1281.7 741.3 1281.1 742.4 1281.5 743.6 1280.7 744.7 1280.4 745.8 1281.2 747 1282 748.1 1281.1 749.2 1280.5 750.4 1281 751.5 1281.2 752.6 1280.8 753.8 1280.5 754.9 1282" fill="none" stroke="#D95319" stroke-width="1.7" stroke-linejoin="round"/>
<rect x="300.9" y="803" width="454" height="479" fill="none" stroke="#262626" stroke-width="1.6"/>
<path d="M376.6 1282v-5 M376.6 803v5 M502.7 1282v-5 M502.7 803v5 M628.8 1282v-5 M628.8 803v5 M300.9 1194.9h5 M754.9 1194.9h-5 M300.9 1107.8h5 M754.9 1107.8h-5 M300.9 1020.7h5 M754.9 1020.7h-5 M300.9 933.6h5 M754.9 933.6h-5 M300.9 846.5h5 M754.9 846.5h-5" stroke="#262626" stroke-width="1.2" fill="none"/>
<text transform="translate(376.6 1322.4) scale(0.957 1)" font-size="29.89" text-anchor="middle" font-weight="normal" fill="#262626">1.35</text>
<text transform="translate(502.7 1322.4) scale(0.957 1)" font-size="29.89" text-anchor="middle" font-weight="normal" fill="#262626">1.4</text>
<text transform="translate(628.8 1322.4) scale(0.957 1)" font-size="29.89" text-anchor="middle" font-weight="normal" fill="#262626">1.45</text>
<text transform="translate(754.9 1322.4) scale(0.957 1)" font-size="29.89" text-anchor="middle" font-weight="normal" fill="#262626">1.5</text>
<text transform="translate(289.5 1293.7) scale(0.957 1)" font-size="29.89" text-anchor="end" font-weight="normal" fill="#262626">0</text>
<text transform="translate(289.5 1206.6) scale(0.957 1)" font-size="29.89" text-anchor="end" font-weight="normal" fill="#262626">0.2</text>
<text transform="translate(289.5 1119.5) scale(0.957 1)" font-size="29.89" text-anchor="end" font-weight="normal" fill="#262626">0.4</text>
<text transform="translate(289.5 1032.4) scale(0.957 1)" font-size="29.89" text-anchor="end" font-weight="normal" fill="#262626">0.6</text>
<text transform="translate(289.5 945.3) scale(0.957 1)" font-size="29.89" text-anchor="end" font-weight="normal" fill="#262626">0.8</text>
<text transform="translate(289.5 858.2) scale(0.957 1)" font-size="29.89" text-anchor="end" font-weight="normal" fill="#262626">1</text>
<text transform="translate(529 1366.4) scale(0.957 1)" font-size="30.3" text-anchor="middle" font-weight="normal" fill="#000">Energy (eV)</text>
<text transform="translate(215 1033.1) rotate(-90) scale(0.957 1)" font-size="30.3" text-anchor="middle" font-weight="normal" fill="#000">Normalized Intensity (a.u.)</text>
<line x1="561.8" y1="832.8" x2="659.8" y2="832.8" stroke="#0072BD" stroke-width="1.5"/>
<text transform="translate(666.8 842.1) scale(0.957 1)" font-size="27.07" text-anchor="start" font-weight="normal" fill="#000">1 uW</text>
<line x1="561.8" y1="868.9" x2="659.8" y2="868.9" stroke="#D95319" stroke-width="1.5"/>
<text transform="translate(666.8 878.2) scale(0.957 1)" font-size="27.07" text-anchor="start" font-weight="normal" fill="#000">55 uW</text>
<text transform="translate(426.8 878.6)" font-size="35" text-anchor="start" font-weight="normal" fill="#000" textLength="41.5" lengthAdjust="spacingAndGlyphs" stroke="#000" stroke-width="0.3">IX<tspan font-size="24" dy="9">d</tspan></text>
<text transform="translate(561 934.1)" font-size="35" text-anchor="start" font-weight="normal" fill="#000" textLength="26.5" lengthAdjust="spacingAndGlyphs" stroke="#000" stroke-width="0.3">IX</text>
<text transform="translate(642 1230.8)" font-size="35" text-anchor="start" font-weight="normal" fill="#000" textLength="48.5" lengthAdjust="spacingAndGlyphs" stroke="#000" stroke-width="0.3">IXX</text>
<text transform="translate(520 785.1)" font-size="35.3" text-anchor="middle" font-weight="normal" fill="#000" textLength="150.5" lengthAdjust="spacingAndGlyphs" stroke="#000" stroke-width="0.35">H-stacked</text>
<text transform="translate(171.1 727.5) scale(0.876 1)" font-size="36.2" text-anchor="start" font-weight="normal" fill="#000" stroke="#000" stroke-width="0.4">c</text>
<path d="M962 1278.8 962.3 1279.2 962.7 1281 963.1 1279.5 963.4 1278.8 963.8 1282.4 964.1 1278.4 964.5 1279.5 964.8 1276.9 965.2 1278.2 965.5 1279.7 965.9 1279.2 966.2 1278 966.6 1278.8 966.9 1278 967.3 1280.2 967.6 1281 968 1279.8 968.3 1281.2 968.7 1279.9 969.1 1277.9 969.4 1281.3 969.8 1280.5 970.1 1276.9 970.5 1279.1 970.8 1278.1 971.2 1280.1 971.5 1279.7 971.9 1278.3 972.2 1274.8 972.6 1276.8 972.9 1280.5 973.3 1276.6 973.6 1275.7 974 1276 974.4 1279.3 974.7 1277.1 975.1 1273.1 975.4 1278.5 975.8 1276.1 976.1 1278 976.5 1278.8 976.8 1277.2 977.2 1274.5 977.5 1274.2 977.9 1277.7 978.2 1276.9 978.6 1277.6 978.9 1279.6 979.3 1274.7 979.6 1272.9 980 1272.9 980.4 1276.3 980.7 1273 981.1 1273.3 981.4 1275.8 981.8 1275.1 982.1 1275.6 982.5 1274.4 982.8 1271.5 983.2 1276.3 983.5 1276.7 983.9 1272.9 984.2 1274.2 984.6 1277.7 984.9 1276 985.3 1275.5 985.7 1275 986 1273.2 986.4 1271.9 986.7 1273.9 987.1 1273.2 987.4 1274.7 987.8 1271.4 988.1 1270.7 988.5 1273.5 988.8 1274.3 989.2 1269 989.5 1271 989.9 1274.2 990.2 1275.5 990.6 1272.9 990.9 1270 991.3 1273.1 991.7 1272.4 992 1272.8 992.4 1270.6 992.7 1269.1 993.1 1273.8 993.4 1271.9 993.8 1271.6 994.1 1272.3 994.5 1273.2 994.8 1269.4 995.2 1270.5 995.5 1269.3 995.9 1267.7 996.2 1271 996.6 1269.2 997 1270.8 997.3 1270.1 997.7 1269.2 998 1270 998.4 1272.3 998.7 1266.6 999.1 1268.9 999.4 1271.2 999.8 1273 1000.1 1268.8 1000.5 1267.4 1000.8 1266.5 1001.2 1266.2 1001.5 1268.8 1001.9 1266.6 1002.2 1270.5 1002.6 1267.1 1003 1265.4 1003.3 1268 1003.7 1266.9 1004 1266.2 1004.4 1265.8 1004.7 1263 1005.1 1267.6 1005.4 1262.7 1005.8 1267.4 1006.1 1266 1006.5 1265.9 1006.8 1264.3 1007.2 1264.8 1007.5 1262.7 1007.9 1263.4 1008.2 1259 1008.6 1262.2 1009 1263.2 1009.3 1261.8 1009.7 1261.2 1010 1262.5 1010.4 1264.1 1010.7 1263.4 1011.1 1261.3 1011.4 1259.9 1011.8 1260.4 1012.1 1261.4 1012.5 1260 1012.8 1261.9 1013.2 1260.3 1013.5 1258 1013.9 1258.4 1014.3 1257.8 1014.6 1261.1 1015 1259.8 1015.3 1262 1015.7 1258.2 1016 1260.6 1016.4 1262.2 1016.7 1260.5 1017.1 1258.9 1017.4 1263.5 1017.8 1261.9 1018.1 1257 1018.5 1258.6 1018.8 1258.7 1019.2 1261.6 1019.5 1255.1 1019.9 1256 1020.3 1256.5 1020.6 1259.8 1021 1256.3 1021.3 1255 1021.7 1257.7 1022 1257.3 1022.4 1257.5 1022.7 1255.2 1023.1 1256.6 1023.4 1256.6 1023.8 1258.6 1024.1 1258.8 1024.5 1253.4 1024.8 1251.9 1025.2 1253.1 1025.6 1251.8 1025.9 1255.4 1026.3 1254.2 1026.6 1253.2 1027 1254 1027.3 1250.1 1027.7 1255.8 1028 1254 1028.4 1253.2 1028.7 1253.6 1029.1 1250.1 1029.4 1255.5 1029.8 1248.9 1030.1 1249 1030.5 1249.9 1030.8 1247.5 1031.2 1245.3 1031.6 1249.5 1031.9 1248.2 1032.3 1248.8 1032.6 1248.5 1033 1250.6 1033.3 1251.1 1033.7 1248.5 1034 1250.9 1034.4 1248.1 1034.7 1248.6 1035.1 1251.3 1035.4 1249.9 1035.8 1250.7 1036.1 1251.4 1036.5 1249 1036.9 1251.4 1037.2 1251.2 1037.6 1255.7 1037.9 1250.8 1038.3 1254.9 1038.6 1252.8 1039 1248.8 1039.3 1248.5 1039.7 1252.8 1040 1254.4 1040.4 1251 1040.7 1252.5 1041.1 1251 1041.4 1254.2 1041.8 1249.1 1042.1 1248.1 1042.5 1253.9 1042.9 1252.4 1043.2 1252 1043.6 1248.9 1043.9 1254.2 1044.3 1249.6 1044.6 1250.2 1045 1251.1 1045.3 1247.8 1045.7 1253 1046 1251.5 1046.4 1250.1 1046.7 1246.7 1047.1 1248.6 1047.4 1249.3 1047.8 1246.3 1048.2 1247.8 1048.5 1247.7 1048.9 1246.5 1049.2 1244.6 1049.6 1239.1 1049.9 1246.4 1050.3 1242.9 1050.6 1243.2 1051 1242.8 1051.3 1238.5 1051.7 1239.5 1052 1239.2 1052.4 1241 1052.7 1241.4 1053.1 1238.5 1053.4 1239.2 1053.8 1239.4 1054.2 1236.2 1054.5 1239.7 1054.9 1238.3 1055.2 1234.6 1055.6 1236 1055.9 1234 1056.3 1236.9 1056.6 1233.2 1057 1236 1057.3 1231.3 1057.7 1232.3 1058 1232.9 1058.4 1230.4 1058.7 1232.8 1059.1 1234.7 1059.5 1229.8 1059.8 1232.3 1060.2 1230.3 1060.5 1232.5 1060.9 1230.2 1061.2 1234.5 1061.6 1235.3 1061.9 1235.5 1062.3 1230.8 1062.6 1236.7 1063 1236.3 1063.3 1235.6 1063.7 1232 1064 1231.7 1064.4 1234.5 1064.7 1231.1 1065.1 1232.2 1065.5 1230.4 1065.8 1231.1 1066.2 1234.8 1066.5 1233 1066.9 1233.9 1067.2 1232.7 1067.6 1233.4 1067.9 1233.8 1068.3 1232.4 1068.6 1233.9 1069 1232.5 1069.3 1234 1069.7 1234.4 1070 1231.9 1070.4 1231.5 1070.8 1230.5 1071.1 1231.5 1071.5 1232.9 1071.8 1231.7 1072.2 1231.4 1072.5 1235.4 1072.9 1234 1073.2 1228.2 1073.6 1231.7 1073.9 1237.9 1074.3 1232.1 1074.6 1231.6 1075 1234.7 1075.3 1227.3 1075.7 1229.9 1076 1230.8 1076.4 1233.2 1076.8 1231.9 1077.1 1231.3 1077.5 1232.3 1077.8 1234.9 1078.2 1233.2 1078.5 1233.5 1078.9 1233.3 1079.2 1236.3 1079.6 1233.5 1079.9 1234.2 1080.3 1233.7 1080.6 1233.9 1081 1237.5 1081.3 1232.6 1081.7 1232.9 1082.1 1237.4 1082.4 1234.8 1082.8 1236.5 1083.1 1235.7 1083.5 1232.6 1083.8 1233.7 1084.2 1230.6 1084.5 1234.7 1084.9 1237.3 1085.2 1234.7 1085.6 1240.2 1085.9 1231.2 1086.3 1234.5 1086.6 1234.1 1087 1234.6 1087.3 1236.7 1087.7 1234.9 1088.1 1236.1 1088.4 1235.2 1088.8 1233.1 1089.1 1236.1 1089.5 1229.5 1089.8 1235 1090.2 1230.5 1090.5 1233.3 1090.9 1234.3 1091.2 1230.4 1091.6 1230.5 1091.9 1231.1 1092.3 1230.4 1092.6 1231.3 1093 1228.6 1093.3 1230.3 1093.7 1228.8 1094.1 1226.1 1094.4 1231.1 1094.8 1229.1 1095.1 1229 1095.5 1228.9 1095.8 1229.8 1096.2 1227.1 1096.5 1225.8 1096.9 1226.1 1097.2 1229.1 1097.6 1223.7 1097.9 1223.3 1098.3 1224.3 1098.6 1226.4 1099 1225.7 1099.4 1219 1099.7 1219.1 1100.1 1221.5 1100.4 1224.2 1100.8 1218.8 1101.1 1220.8 1101.5 1216.9 1101.8 1221.4 1102.2 1218.5 1102.5 1219.5 1102.9 1216.7 1103.2 1219.4 1103.6 1215.3 1103.9 1217.7 1104.3 1218.4 1104.6 1214.6 1105 1214.9 1105.4 1219.8 1105.7 1214.5 1106.1 1213.6 1106.4 1212.9 1106.8 1207.9 1107.1 1213.5 1107.5 1211.3 1107.8 1214.5 1108.2 1213.1 1108.5 1210.1 1108.9 1208.2 1109.2 1207.4 1109.6 1204.4 1109.9 1203.2 1110.3 1201.6 1110.7 1203.5 1111 1200.8 1111.4 1202.7 1111.7 1199 1112.1 1197.6 1112.4 1198.9 1112.8 1204.6 1113.1 1197.2 1113.5 1188 1113.8 1193.8 1114.2 1194.2 1114.5 1191.5 1114.9 1188.1 1115.2 1189.3 1115.6 1189.9 1115.9 1191.9 1116.3 1188.5 1116.7 1189.9 1117 1184.8 1117.4 1180.7 1117.7 1180.6 1118.1 1183.5 1118.4 1183 1118.8 1182.5 1119.1 1175.9 1119.5 1173.8 1119.8 1171.5 1120.2 1171 1120.5 1173.5 1120.9 1173.8 1121.2 1163.7 1121.6 1167.4 1122 1158 1122.3 1167.5 1122.7 1162.9 1123 1160.6 1123.4 1155.4 1123.7 1152.5 1124.1 1154.3 1124.4 1149.2 1124.8 1153.2 1125.1 1149.3 1125.5 1149.9 1125.8 1146.4 1126.2 1145 1126.5 1140.4 1126.9 1128.9 1127.2 1141.3 1127.6 1135.2 1128 1129.1 1128.3 1127.1 1128.7 1119 1129 1123.2 1129.4 1114.7 1129.7 1117.3 1130.1 1109.8 1130.4 1109.8 1130.8 1107.4 1131.1 1108 1131.5 1109.7 1131.8 1104.5 1132.2 1095.2 1132.5 1095 1132.9 1087.9 1133.3 1091.3 1133.6 1080.6 1134 1075.7 1134.3 1083.9 1134.7 1071.6 1135 1062.6 1135.4 1069.4 1135.7 1059.9 1136.1 1060.5 1136.4 1054.5 1136.8 1056.3 1137.1 1054.8 1137.5 1050.6 1137.8 1047.4 1138.2 1045.2 1138.5 1043.3 1138.9 1032.4 1139.3 1036 1139.6 1035.4 1140 1031.2 1140.3 1022.2 1140.7 1030.1 1141 1015.8 1141.4 1011.7 1141.7 1006.1 1142.1 1009.8 1142.4 1008 1142.8 1000.2 1143.1 996.9 1143.5 988.2 1143.8 990.2 1144.2 988.7 1144.6 989.2 1144.9 980.7 1145.3 975.8 1145.6 967.1 1146 968.2 1146.3 958.7 1146.7 955.4 1147 960.9 1147.4 959 1147.7 952.5 1148.1 946.4 1148.4 945 1148.8 933.5 1149.1 929.4 1149.5 922.5 1149.8 922.9 1150.2 924.3 1150.6 918.7 1150.9 923.9 1151.3 917.2 1151.6 920.4 1152 909.3 1152.3 927.2 1152.7 905.9 1153 901.7 1153.4 902.4 1153.7 896.5 1154.1 893.2 1154.4 883.5 1154.8 877.5 1155.1 883.7 1155.5 872.7 1155.9 882.5 1156.2 874.5 1156.6 872 1156.9 878.9 1157.3 867.9 1157.6 872.2 1158 863.2 1158.3 871.3 1158.7 875.1 1159 870.4 1159.4 858.3 1159.7 851.9 1160.1 847.6 1160.4 859.3 1160.8 856.1 1161.1 869 1161.5 872 1161.9 869 1162.2 878.7 1162.6 891.4 1162.9 881 1163.3 887.6 1163.6 892.1 1164 885.8 1164.3 898.3 1164.7 893.4 1165 891.9 1165.4 874.6 1165.7 899.1 1166.1 891.4 1166.4 893.4 1166.8 892.4 1167.1 902.5 1167.5 902.9 1167.9 891.7 1168.2 900.5 1168.6 896.1 1168.9 900.4 1169.3 903.8 1169.6 917.5 1170 915.8 1170.3 915.7 1170.7 917.2 1171 914.6 1171.4 919.9 1171.7 921.9 1172.1 927.5 1172.4 923.9 1172.8 935.8 1173.2 936.1 1173.5 945.7 1173.9 943.9 1174.2 933.7 1174.6 937 1174.9 944.7 1175.3 934.9 1175.6 943.5 1176 955.5 1176.3 953.5 1176.7 960.1 1177 962.6 1177.4 962 1177.7 972.9 1178.1 969 1178.4 978.8 1178.8 984.2 1179.2 983.5 1179.5 993.7 1179.9 1003.5 1180.2 1008.8 1180.6 1013.6 1180.9 1025.8 1181.3 1020.2 1181.6 1025.1 1182 1032.4 1182.3 1032.9 1182.7 1027.5 1183 1038 1183.4 1026.7 1183.7 1042.2 1184.1 1040.2 1184.5 1054 1184.8 1047.9 1185.2 1053.4 1185.5 1054.6 1185.9 1061.7 1186.2 1070.2 1186.6 1068.1 1186.9 1079.7 1187.3 1090.8 1187.6 1091.7 1188 1106.2 1188.3 1101.4 1188.7 1098.1 1189 1106.7 1189.4 1106.8 1189.7 1113.3 1190.1 1109.1 1190.5 1113.3 1190.8 1115.7 1191.2 1114.7 1191.5 1114.5 1191.9 1119.4 1192.2 1129.6 1192.6 1125.2 1192.9 1127.8 1193.3 1134.4 1193.6 1138 1194 1136.5 1194.3 1138.3 1194.7 1139.7 1195 1143.9 1195.4 1143.3 1195.8 1144.9 1196.1 1148.6 1196.5 1148.6 1196.8 1153.4 1197.2 1158.1 1197.5 1155.5 1197.9 1154.8 1198.2 1151.6 1198.6 1167.1 1198.9 1164.4 1199.3 1167.2 1199.6 1165.8 1200 1170.6 1200.3 1169.4 1200.7 1168.5 1201 1174.5 1201.4 1173.9 1201.8 1170.3 1202.1 1173.3 1202.5 1180.9 1202.8 1171.8 1203.2 1180 1203.5 1178.1 1203.9 1180.8 1204.2 1181.6 1204.6 1183 1204.9 1180.3 1205.3 1184.9 1205.6 1187 1206 1186.2 1206.3 1185.8 1206.7 1192.1 1207.1 1186.1 1207.4 1191.1 1207.8 1188.5 1208.1 1187.9 1208.5 1191.7 1208.8 1192 1209.2 1195.3 1209.5 1196.5 1209.9 1200.1 1210.2 1196.4 1210.6 1197.7 1210.9 1202.8 1211.3 1196.6 1211.6 1194 1212 1197.3 1212.3 1195.9 1212.7 1200.1 1213.1 1202.6 1213.4 1200.7 1213.8 1202.8 1214.1 1206.1 1214.5 1202.3 1214.8 1206.1 1215.2 1209.8 1215.5 1209.5 1215.9 1212 1216.2 1211.9 1216.6 1211.1 1216.9 1217.5 1217.3 1219.8 1217.6 1214.5 1218 1212.7 1218.4 1220.1 1218.7 1221.2 1219.1 1222.2 1219.4 1219.7 1219.8 1219.7 1220.1 1220.8 1220.5 1218.6 1220.8 1222.6 1221.2 1222.4 1221.5 1224.2 1221.9 1218.5 1222.2 1219.6 1222.6 1219.6 1222.9 1225 1223.3 1220.6 1223.6 1223.7 1224 1223.5 1224.4 1224.7 1224.7 1227.6 1225.1 1228.1 1225.4 1232.1 1225.8 1230.9 1226.1 1231.1 1226.5 1234 1226.8 1232.2 1227.2 1230.4 1227.5 1235.1 1227.9 1236.8 1228.2 1237.2 1228.6 1235.6 1228.9 1232.9 1229.3 1236.9 1229.7 1237.8 1230 1241.1 1230.4 1238.3 1230.7 1238.3 1231.1 1241 1231.4 1240.8 1231.8 1242.7 1232.1 1240.3 1232.5 1239.5 1232.8 1242.1 1233.2 1242.3 1233.5 1243.8 1233.9 1245.7 1234.2 1246.4 1234.6 1246.1 1234.9 1245.5 1235.3 1246.2 1235.7 1244.5 1236 1245.5 1236.4 1244.5 1236.7 1246.4 1237.1 1248.9 1237.4 1248.7 1237.8 1252.7 1238.1 1246.5 1238.5 1251.6 1238.8 1251.9 1239.2 1248.1 1239.5 1254.5 1239.9 1254.3 1240.2 1253.8 1240.6 1255.5 1241 1254.8 1241.3 1255.2 1241.7 1255 1242 1257 1242.4 1256 1242.7 1258.4 1243.1 1257 1243.4 1256.2 1243.8 1262.2 1244.1 1259.5 1244.5 1259 1244.8 1263.2 1245.2 1265.7 1245.5 1259.4 1245.9 1261.5 1246.2 1258.9 1246.6 1260.7 1247 1260.9 1247.3 1261.7 1247.7 1261.1 1248 1263.2 1248.4 1262.7 1248.7 1260.4 1249.1 1262.6 1249.4 1261.4 1249.8 1262.6 1250.1 1263.4 1250.5 1264.9 1250.8 1261.6 1251.2 1265 1251.5 1263 1251.9 1266.8 1252.2 1263.6 1252.6 1263.6 1253 1265.7 1253.3 1267.8 1253.7 1265.2 1254 1265 1254.4 1266.3 1254.7 1266.8 1255.1 1264.1 1255.4 1266.2 1255.8 1266.9 1256.1 1264.8 1256.5 1266.6 1256.8 1268.1 1257.2 1265.3 1257.5 1267.8 1257.9 1265.6 1258.3 1268.8 1258.6 1267.1 1259 1265.6 1259.3 1267.3 1259.7 1267.4 1260 1267.7 1260.4 1267.1 1260.7 1268.7 1261.1 1268.2 1261.4 1269.6 1261.8 1265.9 1262.1 1271.2 1262.5 1268.2 1262.8 1271.7 1263.2 1269.1 1263.5 1267.8 1263.9 1272.4 1264.3 1267.3 1264.6 1272.4 1265 1272.3 1265.3 1270.4 1265.7 1273.1 1266 1269.4 1266.4 1270.5 1266.7 1276.4 1267.1 1274.2 1267.4 1273 1267.8 1271 1268.1 1273.8 1268.5 1273.3 1268.8 1271 1269.2 1274 1269.6 1271.8 1269.9 1274.9 1270.3 1270.7 1270.6 1270.1 1271 1274.8 1271.3 1277.1 1271.7 1275.9 1272 1271.3 1272.4 1274.1 1272.7 1271.3 1273.1 1275.7 1273.4 1275.1 1273.8 1273.7 1274.1 1271.7 1274.5 1274.1 1274.8 1275.7 1275.2 1273.4 1275.6 1273.9 1275.9 1273.3 1276.3 1274.6 1276.6 1275.5 1277 1274.5 1277.3 1279 1277.7 1274.3 1278 1272.7 1278.4 1274 1278.7 1276.8 1279.1 1277.9 1279.4 1273 1279.8 1276.3 1280.1 1275.9 1280.5 1275.2 1280.9 1276.7 1281.2 1275.7 1281.6 1273.2 1281.9 1276.9 1282.3 1272.7 1282.6 1275.5 1283 1275.7 1283.3 1274.6 1283.7 1274.8 1284 1274.6 1284.4 1275.6 1284.7 1277.7 1285.1 1273.8 1285.4 1277.1 1285.8 1278.3 1286.1 1275.4 1286.5 1275.9 1286.9 1277.1 1287.2 1277 1287.6 1276.2 1287.9 1273.9 1288.3 1277.5 1288.6 1279.6 1289 1278.5 1289.3 1276.6 1289.7 1278 1290 1278.8 1290.4 1276.4 1290.7 1276.5 1291.1 1278.2 1291.4 1277.4 1291.8 1279 1292.2 1279 1292.5 1278.6 1292.9 1280.4 1293.2 1277.4 1293.6 1278.2 1293.9 1279 1294.3 1278 1294.6 1277.9 1295 1279.5 1295.3 1279.3 1295.7 1279.7 1296 1275.9 1296.4 1281.3 1296.7 1278.5 1297.1 1276.9 1297.4 1280.3 1297.8 1280.2 1298.2 1280.2 1298.5 1281.7 1298.9 1276.6 1299.2 1279.1 1299.6 1280.7 1299.9 1280 1300.3 1278.6 1300.6 1279.6 1301 1280.7 1301.3 1278.3 1301.7 1280.8 1302 1280.1 1302.4 1279.2 1302.7 1280.8 1303.1 1279.5 1303.5 1280.9 1303.8 1275.3 1304.2 1280.7 1304.5 1278.9 1304.9 1281.7 1305.2 1282.2 1305.6 1280.6 1305.9 1281.1 1306.3 1281.2 1306.6 1280.7 1307 1279.2 1307.3 1277.5 1307.7 1277.4 1308 1280.8 1308.4 1277.8 1308.7 1278.1 1309.1 1282.2 1309.5 1282 1309.8 1281.4 1310.2 1277.9 1310.5 1281.6 1310.9 1281.9 1311.2 1279.1 1311.6 1281.9 1311.9 1281.9 1312.3 1280.6 1312.6 1281.4 1313 1282.6 1313.3 1282.6 1313.7 1280.7 1314 1282.6 1314.4 1279.8 1314.8 1282.1 1315.1 1281.6 1315.5 1281.5 1315.8 1282.6 1316.2 1282.6 1316.5 1282.6 1316.9 1281.6 1317.2 1279.4 1317.6 1282.4 1317.9 1281.9 1318.3 1282.6 1318.6 1282.6 1319 1282.5 1319.3 1282.4 1319.7 1281 1320 1279.6 1320.4 1282.1 1320.8 1281.4 1321.1 1282.6 1321.5 1281 1321.8 1282 1322.2 1282.6 1322.5 1281.4 1322.9 1282.6 1323.2 1280.3 1323.6 1281.2 1323.9 1281.9 1324.3 1279.1 1324.6 1282.3 1325 1282.6 1325.3 1282 1325.7 1281.8 1326 1282.6 1326.4 1281 1326.8 1281.3 1327.1 1282.6 1327.5 1282.6 1327.8 1279.9 1328.2 1279.7 1328.5 1280.4 1328.9 1280.2 1329.2 1278.8 1329.6 1281.3 1329.9 1279.1 1330.3 1282.1 1330.6 1282.6 1331 1281.8 1331.3 1282.4 1331.7 1281 1332.1 1278.7 1332.4 1281.1 1332.8 1280 1333.1 1278.1 1333.5 1278.7 1333.8 1281.6 1334.2 1282.6 1334.5 1278.1 1334.9 1282.6 1335.2 1282.6 1335.6 1282.6 1335.9 1279.7 1336.3 1282.6 1336.6 1282.2 1337 1282 1337.3 1279.5 1337.7 1282.6 1338.1 1281.7 1338.4 1281.2 1338.8 1279.3 1339.1 1282.2 1339.5 1281.3 1339.8 1282.2 1340.2 1279.9 1340.5 1280.1 1340.9 1282.4 1341.2 1280.8 1341.6 1282.6 1341.9 1281.6 1342.3 1282.6 1342.6 1282.5 1343 1280 1343.4 1278 1343.7 1281.4 1344.1 1282 1344.4 1282.3 1344.8 1280.4 1345.1 1282 1345.5 1280 1345.8 1279 1346.2 1280.6 1346.5 1282.4 1346.9 1280.4 1347.2 1282.6 1347.6 1282.6 1347.9 1279.7 1348.3 1278.4 1348.6 1279.4 1349 1282.3 1349.4 1282.6 1349.7 1282.6 1350.1 1280.6 1350.4 1282.4 1350.8 1279.3 1351.1 1282.6 1351.5 1280.9 1351.8 1281.3 1352.2 1281.3 1352.5 1282.6 1352.9 1281.9 1353.2 1281.3 1353.6 1282.4 1353.9 1282.6 1354.3 1282.6 1354.7 1282.6 1355 1281.1 1355.4 1280.1 1355.7 1281.2 1356.1 1281.1 1356.4 1282.1 1356.8 1281.4 1357.1 1282.6 1357.5 1281.6 1357.8 1280.2 1358.2 1282.6 1358.5 1280.6 1358.9 1282.6 1359.2 1281.7 1359.6 1282.1 1359.9 1281 1360.3 1281.5 1360.7 1277.9 1361 1282.6 1361.4 1282.6 1361.7 1282.6 1362.1 1281.6 1362.4 1282.6 1362.8 1282.6 1363.1 1282.6 1363.5 1282.6 1363.8 1282.6 1364.2 1279.1 1364.5 1282.6 1364.9 1277 1365.2 1279.9 1365.6 1282.3 1366 1280.3 1366.3 1280 1366.7 1282.6 1367 1282.6 1367.4 1279.2 1367.7 1282.6 1368.1 1280.3 1368.4 1280.6 1368.8 1282.6 1369.1 1280.6 1369.5 1280.8 1369.8 1279.5 1370.2 1281.8 1370.5 1281 1370.9 1281.1 1371.2 1282.2 1371.6 1278.9 1372 1280.1 1372.3 1279.1 1372.7 1281.1 1373 1279.7 1373.4 1282.6 1373.7 1282.6 1374.1 1280 1374.4 1282.2 1374.8 1282.5 1375.1 1281.5 1375.5 1282.6 1375.8 1281.5 1376.2 1280.9 1376.5 1282.3 1376.9 1282.6 1377.3 1278.7 1377.6 1281 1378 1282.6 1378.3 1282.6 1378.7 1282.6 1379 1282.6 1379.4 1282.6 1379.7 1282.6 1380.1 1281 1380.4 1280.5 1380.8 1282 1381.1 1280 1381.5 1280.8 1381.8 1282.6 1382.2 1282.6 1382.5 1281.3 1382.9 1280.6 1383.3 1279.9 1383.6 1282.6 1384 1282.6 1384.3 1278.2 1384.7 1282.3 1385 1280 1385.4 1281.7 1385.7 1282.6 1386.1 1279.3 1386.4 1280.9 1386.8 1279.2 1387.1 1280.7 1387.5 1282.6 1387.8 1281.8 1388.2 1280 1388.6 1282.6 1388.9 1281.4 1389.3 1279.7 1389.6 1282.6 1390 1282.4 1390.3 1281.4 1390.7 1280 1391 1281.9 1391.4 1282.6 1391.7 1280.7 1392.1 1282.6 1392.4 1281 1392.8 1281.1 1393.1 1282.1 1393.5 1280.2 1393.8 1279.6 1394.2 1282.6 1394.6 1280.8 1394.9 1282 1395.3 1282.2 1395.6 1281.6 1396 1279.6 1396.3 1282 1396.7 1282.3 1397 1282.6 1397.4 1282 1397.7 1281.7 1398.1 1282.6 1398.4 1282.2 1398.8 1280.8 1399.1 1279.3 1399.5 1282.2 1399.9 1278.2 1400.2 1279.9 1400.6 1280.1 1400.9 1280.6 1401.3 1281.5 1401.6 1282.6 1402 1281.8 1402.3 1281.5 1402.7 1281.3 1403 1278.9 1403.4 1278.1 1403.7 1280.7 1404.1 1279.9 1404.4 1282.6 1404.8 1282.6 1405.1 1281.8 1405.5 1281.2 1405.9 1279.1 1406.2 1277.4 1406.6 1281.1 1406.9 1279.3 1407.3 1279.6 1407.6 1281.2 1408 1280.1 1408.3 1280.9 1408.7 1278.9 1409 1282.6 1409.4 1282.6 1409.7 1281.3 1410.1 1279.9 1410.4 1279.7 1410.8 1282.5 1411.1 1280.6" fill="none" stroke="#0072BD" stroke-width="1.7" stroke-linejoin="round"/>
<path d="M962 1281.3 962.7 1281.9 963.5 1282.1 964.3 1281.2 965 1282.1 965.8 1282.2 966.5 1281.1 967.3 1281.4 968 1282.4 968.8 1280.9 969.6 1281.9 970.3 1281.5 971.1 1281.3 971.8 1280.3 972.6 1281.2 973.3 1280.7 974.1 1281.1 974.9 1280.8 975.6 1281.6 976.4 1280.9 977.1 1281.1 977.9 1281.2 978.6 1280.6 979.4 1280.2 980.2 1280.4 980.9 1280.7 981.7 1280.1 982.4 1280.9 983.2 1280.2 983.9 1280 984.7 1280.2 985.4 1280.2 986.2 1280 987 1280.2 987.7 1280 988.5 1279.5 989.2 1280.5 990 1279 990.7 1279.3 991.5 1279.3 992.3 1279.7 993 1279.3 993.8 1279.3 994.5 1278.6 995.3 1278.5 996 1278.1 996.8 1278.5 997.6 1279.3 998.3 1278.7 999.1 1278.3 999.8 1277.8 1000.6 1278.5 1001.3 1277.8 1002.1 1277.5 1002.9 1277.6 1003.6 1277.3 1004.4 1276 1005.1 1276.9 1005.9 1275.8 1006.6 1276.4 1007.4 1276.7 1008.1 1275.9 1008.9 1276.2 1009.7 1275.8 1010.4 1276.6 1011.2 1275.2 1011.9 1275.5 1012.7 1274.5 1013.4 1274.7 1014.2 1274.7 1015 1274.8 1015.7 1274.1 1016.5 1274.1 1017.2 1274.1 1018 1272.7 1018.7 1273.4 1019.5 1272.7 1020.3 1272.2 1021 1272.5 1021.8 1272.2 1022.5 1272 1023.3 1271.6 1024 1271.6 1024.8 1271.4 1025.6 1271.3 1026.3 1271.4 1027.1 1271.1 1027.8 1271 1028.6 1270.4 1029.3 1269.6 1030.1 1270.4 1030.8 1270.1 1031.6 1270 1032.4 1269.3 1033.1 1268.6 1033.9 1269 1034.6 1268.4 1035.4 1269.5 1036.1 1268.2 1036.9 1267.6 1037.7 1267.9 1038.4 1268.2 1039.2 1266.9 1039.9 1267 1040.7 1265.8 1041.4 1266.7 1042.2 1266.3 1043 1266.1 1043.7 1265.6 1044.5 1266.3 1045.2 1264.4 1046 1264.5 1046.7 1264.6 1047.5 1264.3 1048.3 1263.5 1049 1263.2 1049.8 1263.2 1050.5 1262.6 1051.3 1262 1052 1261.9 1052.8 1261.5 1053.5 1261.1 1054.3 1260.6 1055.1 1260.6 1055.8 1259.9 1056.6 1258.8 1057.3 1258.1 1058.1 1258 1058.8 1259.4 1059.6 1257.9 1060.4 1256.5 1061.1 1255.4 1061.9 1255.4 1062.6 1255.8 1063.4 1255.6 1064.1 1255.4 1064.9 1253.9 1065.7 1254.5 1066.4 1254.8 1067.2 1253.5 1067.9 1253.3 1068.7 1254.5 1069.4 1253.4 1070.2 1252.1 1071 1251.7 1071.7 1252.4 1072.5 1251.2 1073.2 1250.2 1074 1249.9 1074.7 1250.1 1075.5 1248.9 1076.2 1247.7 1077 1247 1077.8 1247.1 1078.5 1244.4 1079.3 1244.8 1080 1245 1080.8 1243.6 1081.5 1244.2 1082.3 1242.2 1083.1 1241 1083.8 1238.8 1084.6 1239.4 1085.3 1238.5 1086.1 1237.6 1086.8 1237.3 1087.6 1237.2 1088.4 1235.5 1089.1 1235.5 1089.9 1234.3 1090.6 1234.1 1091.4 1234.8 1092.1 1233.9 1092.9 1233.2 1093.7 1232.5 1094.4 1231.1 1095.2 1230.5 1095.9 1229.8 1096.7 1227.3 1097.4 1226.3 1098.2 1226.1 1098.9 1225.7 1099.7 1224.3 1100.5 1223.3 1101.2 1222.2 1102 1221.2 1102.7 1219.5 1103.5 1218.8 1104.2 1218.2 1105 1218.8 1105.8 1217.7 1106.5 1216.2 1107.3 1217.1 1108 1217.1 1108.8 1214.4 1109.5 1215.1 1110.3 1214.4 1111.1 1211.9 1111.8 1211.4 1112.6 1209.8 1113.3 1207.5 1114.1 1207.3 1114.8 1206.6 1115.6 1203.5 1116.4 1201.7 1117.1 1201.5 1117.9 1198.3 1118.6 1194.3 1119.4 1191.6 1120.1 1187.9 1120.9 1185.5 1121.6 1183 1122.4 1180 1123.2 1176.8 1123.9 1173.2 1124.7 1172.2 1125.4 1167.8 1126.2 1162.2 1126.9 1157.7 1127.7 1155.2 1128.5 1150.9 1129.2 1148.2 1130 1144.8 1130.7 1139.3 1131.5 1135.3 1132.2 1131.2 1133 1127.3 1133.8 1121.3 1134.5 1117 1135.3 1113.1 1136 1108.9 1136.8 1105 1137.5 1099.8 1138.3 1095.8 1139.1 1090 1139.8 1086.1 1140.6 1083 1141.3 1078.8 1142.1 1069.2 1142.8 1062.4 1143.6 1050.8 1144.3 1046 1145.1 1036.2 1145.9 1025.4 1146.6 1019.6 1147.4 1010.7 1148.1 1002.9 1148.9 997.3 1149.6 988.1 1150.4 983.7 1151.2 975.6 1151.9 963.9 1152.7 959.4 1153.4 950.1 1154.2 944.3 1154.9 931.8 1155.7 928 1156.5 919.7 1157.2 911.6 1158 904.3 1158.7 899.2 1159.5 891.4 1160.2 886.1 1161 879.7 1161.8 876.5 1162.5 872.2 1163.3 866.9 1164 862.1 1164.8 860.2 1165.5 856 1166.3 854.1 1167 849.1 1167.8 847.6 1168.6 848.9 1169.3 849.4 1170.1 854.5 1170.8 851.9 1171.6 855.9 1172.3 858.8 1173.1 858.4 1173.9 863 1174.6 859.3 1175.4 867 1176.1 875 1176.9 878.8 1177.6 884.5 1178.4 891.6 1179.2 896.7 1179.9 904.5 1180.7 913.3 1181.4 923.3 1182.2 934.5 1182.9 938.9 1183.7 946.8 1184.5 960 1185.2 964.7 1186 971.4 1186.7 979.1 1187.5 984.2 1188.2 993.2 1189 1001.9 1189.7 1012.7 1190.5 1022.9 1191.3 1030.9 1192 1045.5 1192.8 1057.1 1193.5 1065.3 1194.3 1069.9 1195 1073.8 1195.8 1079.7 1196.6 1088.4 1197.3 1096 1198.1 1103.6 1198.8 1110.5 1199.6 1115.5 1200.3 1123.6 1201.1 1128.2 1201.9 1134.8 1202.6 1136.9 1203.4 1141.4 1204.1 1144.9 1204.9 1149.3 1205.6 1152.9 1206.4 1157.2 1207.2 1158.8 1207.9 1160.8 1208.7 1167.4 1209.4 1166.4 1210.2 1171.6 1210.9 1173.5 1211.7 1177.7 1212.4 1180.2 1213.2 1182.4 1214 1186.2 1214.7 1187.5 1215.5 1192 1216.2 1194.6 1217 1198.4 1217.7 1200.7 1218.5 1202.5 1219.3 1203.3 1220 1203.8 1220.8 1206.2 1221.5 1208.2 1222.3 1208.7 1223 1210.1 1223.8 1209.6 1224.6 1210.7 1225.3 1212.2 1226.1 1212.4 1226.8 1212.2 1227.6 1213.2 1228.3 1214.3 1229.1 1213.7 1229.9 1213.9 1230.6 1214.1 1231.4 1213.1 1232.1 1211.8 1232.9 1214.4 1233.6 1214.2 1234.4 1216.7 1235.1 1218 1235.9 1219.7 1236.7 1221.1 1237.4 1222.5 1238.2 1223.6 1238.9 1224.4 1239.7 1225.6 1240.4 1227.9 1241.2 1227.6 1242 1227.7 1242.7 1228.5 1243.5 1229.2 1244.2 1230.6 1245 1229.2 1245.7 1229.2 1246.5 1228.8 1247.3 1230.4 1248 1230.2 1248.8 1230.7 1249.5 1231.4 1250.3 1233.6 1251 1234.2 1251.8 1235.7 1252.6 1236.9 1253.3 1236.7 1254.1 1238.7 1254.8 1239.2 1255.6 1238.8 1256.3 1240.2 1257.1 1239.6 1257.8 1240.5 1258.6 1241.5 1259.4 1242 1260.1 1241.9 1260.9 1242.5 1261.6 1242.6 1262.4 1243.4 1263.1 1243 1263.9 1244.1 1264.7 1244.4 1265.4 1244.7 1266.2 1246 1266.9 1246.3 1267.7 1247.2 1268.4 1249 1269.2 1250.3 1270 1249.7 1270.7 1251.6 1271.5 1252.4 1272.2 1253.5 1273 1253 1273.7 1254.5 1274.5 1255.9 1275.3 1255.3 1276 1256.6 1276.8 1256.3 1277.5 1257.2 1278.3 1257 1279 1258 1279.8 1259.1 1280.5 1258.8 1281.3 1258.8 1282.1 1261.2 1282.8 1261.1 1283.6 1262.1 1284.3 1262.7 1285.1 1264.2 1285.8 1264.6 1286.6 1264 1287.4 1265.1 1288.1 1265.9 1288.9 1265.2 1289.6 1265.9 1290.4 1266.6 1291.1 1267.9 1291.9 1267.9 1292.7 1267.7 1293.4 1269.9 1294.2 1270.2 1294.9 1270.4 1295.7 1270.2 1296.4 1271.1 1297.2 1271.6 1298 1272.3 1298.7 1272.9 1299.5 1272.9 1300.2 1272.4 1301 1274.4 1301.7 1274.5 1302.5 1275.9 1303.2 1275.5 1304 1276.7 1304.8 1277 1305.5 1277.7 1306.3 1278.1 1307 1278.2 1307.8 1278.5 1308.5 1278.8 1309.3 1277.5 1310.1 1278.3 1310.8 1278.1 1311.6 1278.5 1312.3 1279.4 1313.1 1278.9 1313.8 1279.4 1314.6 1279.5 1315.4 1279.3 1316.1 1279.3 1316.9 1279.5 1317.6 1279.6 1318.4 1279.9 1319.1 1279.9 1319.9 1279.4 1320.7 1279.1 1321.4 1279.7 1322.2 1280.4 1322.9 1280.2 1323.7 1280.1 1324.4 1280.1 1325.2 1280.1 1325.9 1280.1 1326.7 1280.6 1327.5 1280.9 1328.2 1281.6 1329 1280.5 1329.7 1280.7 1330.5 1281.4 1331.2 1281.1 1332 1281.4 1332.8 1281.4 1333.5 1280.5 1334.3 1281.5 1335 1280.3 1335.8 1281.5 1336.5 1281.8 1337.3 1281.4 1338.1 1280.5 1338.8 1281.6 1339.6 1281.4 1340.3 1282.6 1341.1 1281.4 1341.8 1282.2 1342.6 1281.7 1343.4 1281.1 1344.1 1281.8 1344.9 1281.4 1345.6 1281.8 1346.4 1281.8 1347.1 1281.6 1347.9 1281.2 1348.6 1281.7 1349.4 1281.7 1350.2 1282.1 1350.9 1282.5 1351.7 1281.7 1352.4 1281.8 1353.2 1281.6 1353.9 1281.3 1354.7 1281.4 1355.5 1282.2 1356.2 1281.7 1357 1281.7 1357.7 1281.9 1358.5 1282.6 1359.2 1282.2 1360 1281.9 1360.8 1281.5 1361.5 1282 1362.3 1282.4 1363 1281.2 1363.8 1281.9 1364.5 1282 1365.3 1281.6 1366.1 1281.6 1366.8 1281.9 1367.6 1282.1 1368.3 1282.1 1369.1 1281.5 1369.8 1281.9 1370.6 1281.7 1371.3 1282.6 1372.1 1282.1 1372.9 1282.1 1373.6 1282.1 1374.4 1282.6 1375.1 1282.1 1375.9 1281.2 1376.6 1281.8 1377.4 1282.2 1378.2 1282.2 1378.9 1282.5 1379.7 1281.8 1380.4 1282.3 1381.2 1282.1 1381.9 1281.6 1382.7 1281.5 1383.5 1281.7 1384.2 1282.6 1385 1282.2 1385.7 1281.4 1386.5 1282.5 1387.2 1281.4 1388 1282 1388.8 1281.6 1389.5 1282.2 1390.3 1282.5 1391 1282.4 1391.8 1281.3 1392.5 1282.1 1393.3 1282.5 1394 1281.6 1394.8 1282.6 1395.6 1282.1 1396.3 1281.8 1397.1 1281.9 1397.8 1281.8 1398.6 1282 1399.3 1282.6 1400.1 1281.9 1400.9 1282 1401.6 1282.1 1402.4 1281.8 1403.1 1281.7 1403.9 1281.9 1404.6 1281.3 1405.4 1281 1406.2 1281.9 1406.9 1282.2 1407.7 1282.6 1408.4 1281.7 1409.2 1282.6 1409.9 1281.3 1410.7 1281.6" fill="none" stroke="#D95319" stroke-width="1.7" stroke-linejoin="round"/>
<rect x="957.2" y="804.1" width="454" height="478.5" fill="none" stroke="#262626" stroke-width="1.6"/>
<path d="M1032.9 1282.6v-5 M1032.9 804.1v5 M1159 1282.6v-5 M1159 804.1v5 M1285.1 1282.6v-5 M1285.1 804.1v5 M957.2 1195.6h5 M1411.2 1195.6h-5 M957.2 1108.6h5 M1411.2 1108.6h-5 M957.2 1021.6h5 M1411.2 1021.6h-5 M957.2 934.6h5 M1411.2 934.6h-5 M957.2 847.6h5 M1411.2 847.6h-5" stroke="#262626" stroke-width="1.2" fill="none"/>
<text transform="translate(1032.9 1322.4) scale(0.957 1)" font-size="29.89" text-anchor="middle" font-weight="normal" fill="#262626">1.35</text>
<text transform="translate(1159 1322.4) scale(0.957 1)" font-size="29.89" text-anchor="middle" font-weight="normal" fill="#262626">1.4</text>
<text transform="translate(1285.1 1322.4) scale(0.957 1)" font-size="29.89" text-anchor="middle" font-weight="normal" fill="#262626">1.45</text>
<text transform="translate(1411.2 1322.4) scale(0.957 1)" font-size="29.89" text-anchor="middle" font-weight="normal" fill="#262626">1.5</text>
<text transform="translate(945.8 1294.3) scale(0.957 1)" font-size="29.89" text-anchor="end" font-weight="normal" fill="#262626">0</text>
<text transform="translate(945.8 1207.3) scale(0.957 1)" font-size="29.89" text-anchor="end" font-weight="normal" fill="#262626">0.2</text>
<text transform="translate(945.8 1120.3) scale(0.957 1)" font-size="29.89" text-anchor="end" font-weight="normal" fill="#262626">0.4</text>
<text transform="translate(945.8 1033.3) scale(0.957 1)" font-size="29.89" text-anchor="end" font-weight="normal" fill="#262626">0.6</text>
<text transform="translate(945.8 946.3) scale(0.957 1)" font-size="29.89" text-anchor="end" font-weight="normal" fill="#262626">0.8</text>
<text transform="translate(945.8 859.3) scale(0.957 1)" font-size="29.89" text-anchor="end" font-weight="normal" fill="#262626">1</text>
<text transform="translate(1193 1366.4) scale(0.957 1)" font-size="30.3" text-anchor="middle" font-weight="normal" fill="#000">Energy (eV)</text>
<text transform="translate(869 1033.9) rotate(-90) scale(0.957 1)" font-size="30.3" text-anchor="middle" font-weight="normal" fill="#000">Normalized Intensity (a.u.)</text>
<line x1="1208.4" y1="834.1" x2="1306.4" y2="834.1" stroke="#0072BD" stroke-width="1.5"/>
<text transform="translate(1313.4 843.4) scale(0.957 1)" font-size="27.07" text-anchor="start" font-weight="normal" fill="#000">1 uW</text>
<line x1="1208.4" y1="870.2" x2="1306.4" y2="870.2" stroke="#D95319" stroke-width="1.5"/>
<text transform="translate(1313.4 879.5) scale(0.957 1)" font-size="27.07" text-anchor="start" font-weight="normal" fill="#000">60 uW</text>
<text transform="translate(1096.9 979.6)" font-size="35" text-anchor="start" font-weight="normal" fill="#000" textLength="27.3" lengthAdjust="spacingAndGlyphs" stroke="#000" stroke-width="0.3">IX</text>
<text transform="translate(1294.6 1215.1)" font-size="35" text-anchor="start" font-weight="normal" fill="#000" textLength="49.3" lengthAdjust="spacingAndGlyphs" stroke="#000" stroke-width="0.3">IXX</text>
<text transform="translate(1191 787.9)" font-size="35.3" text-anchor="middle" font-weight="normal" fill="#000" textLength="150.5" lengthAdjust="spacingAndGlyphs" stroke="#000" stroke-width="0.35">R-stacked</text>
<text transform="translate(834.7 720.5) scale(0.890 1)" font-size="38" text-anchor="start" font-weight="normal" fill="#000" stroke="#000" stroke-width="0.4">d</text>
</svg>
</body></html>
